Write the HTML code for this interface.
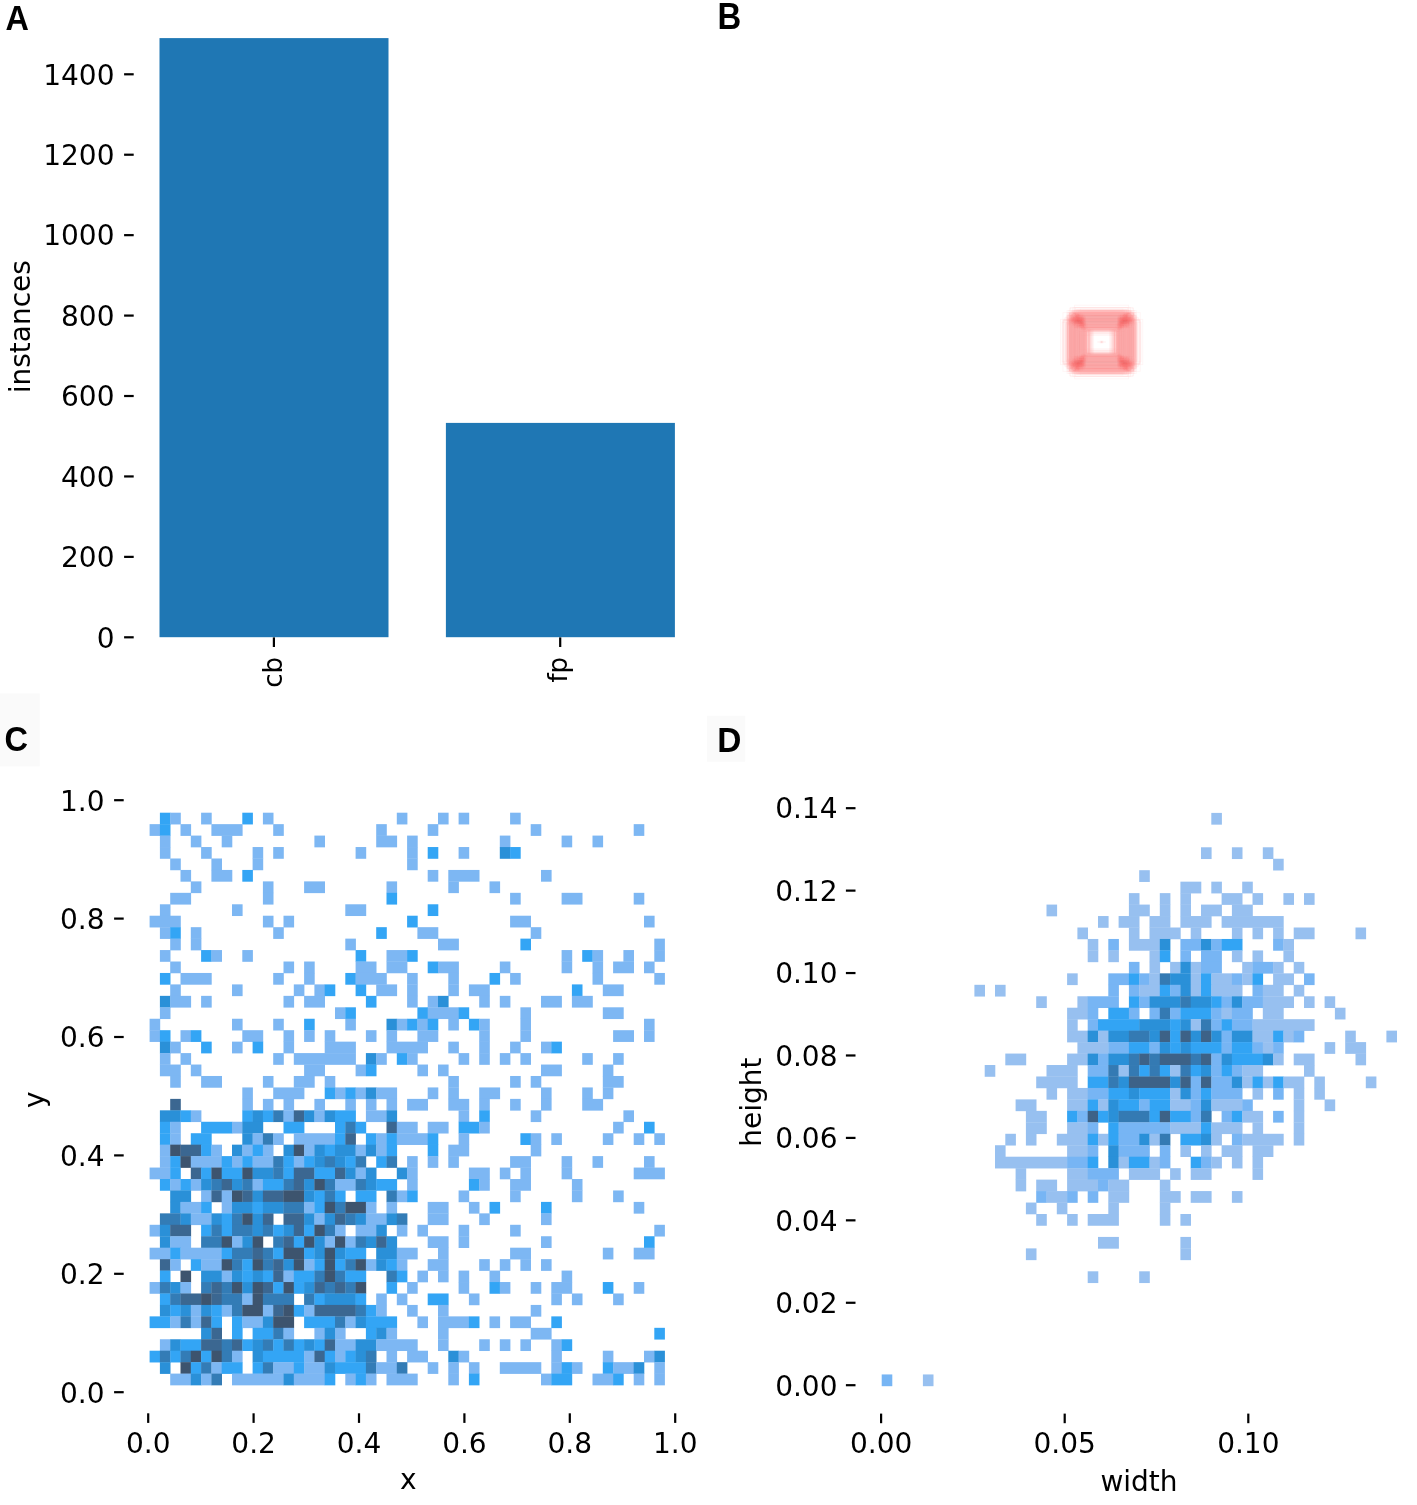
<!DOCTYPE html>
<html><head><meta charset="utf-8"><title>labels</title>
<style>html,body{margin:0;padding:0;background:#fff}svg{display:block}</style>
</head><body>
<svg width="1417" height="1505" viewBox="0 0 1417 1505">
<rect width="1417" height="1505" fill="#fff"/>
<g font-family="'DejaVu Sans','Liberation Sans',sans-serif" font-size="28" fill="#000">
<g fill="#1f77b4">
<rect x="159.5" y="38.1" width="229" height="599.1"/>
<rect x="445.9" y="422.9" width="229" height="214.3"/>
</g>
<rect x="124.1" y="636.2" width="9.6" height="2.2"/>
<text x="114.5" y="647.6" text-anchor="end">0</text>
<rect x="124.1" y="555.77" width="9.6" height="2.2"/>
<text x="114.5" y="567.17" text-anchor="end">200</text>
<rect x="124.1" y="475.34" width="9.6" height="2.2"/>
<text x="114.5" y="486.74" text-anchor="end">400</text>
<rect x="124.1" y="394.91" width="9.6" height="2.2"/>
<text x="114.5" y="406.31" text-anchor="end">600</text>
<rect x="124.1" y="314.48" width="9.6" height="2.2"/>
<text x="114.5" y="325.88" text-anchor="end">800</text>
<rect x="124.1" y="234.05" width="9.6" height="2.2"/>
<text x="114.5" y="245.45" text-anchor="end">1000</text>
<rect x="124.1" y="153.62" width="9.6" height="2.2"/>
<text x="114.5" y="165.02" text-anchor="end">1200</text>
<rect x="124.1" y="73.19" width="9.6" height="2.2"/>
<text x="114.5" y="84.59" text-anchor="end">1400</text>
<rect x="272.8" y="637.4" width="2.2" height="9.6"/>
<rect x="559.1" y="637.4" width="2.2" height="9.6"/>
<text transform="translate(281.8 687.7) rotate(-90)" font-size="26">cb</text>
<text transform="translate(566.8 682.6) rotate(-90)" font-size="26">fp</text>
<text transform="translate(30.4 326.7) rotate(-90)" text-anchor="middle">instances</text>
<g fill="none" stroke="#fba9a9" stroke-width="0.9">
<rect x="1074.57" y="305.23" width="54.06" height="73.55" stroke-opacity="0.120"/>
<rect x="1075.4" y="307.46" width="52.4" height="69.09" stroke-opacity="0.120"/>
<rect x="1072.91" y="307.46" width="57.38" height="69.09" stroke-opacity="0.120"/>
<rect x="1070.42" y="307.46" width="62.36" height="69.09" stroke-opacity="0.120"/>
<rect x="1069.59" y="308.2" width="64.02" height="67.6" stroke-opacity="0.120"/>
<rect x="1080.38" y="308.94" width="42.44" height="66.11" stroke-opacity="0.120"/>
<rect x="1077.06" y="309.69" width="49.08" height="64.62" stroke-opacity="0.120"/>
<rect x="1076.23" y="309.69" width="50.74" height="64.62" stroke-opacity="0.120"/>
<rect x="1074.57" y="309.69" width="54.06" height="64.62" stroke-opacity="0.120"/>
<rect x="1072.08" y="309.69" width="59.04" height="64.62" stroke-opacity="0.120"/>
<rect x="1081.21" y="310.43" width="40.78" height="63.14" stroke-opacity="0.120"/>
<rect x="1078.72" y="310.43" width="45.76" height="63.14" stroke-opacity="0.120"/>
<rect x="1077.06" y="310.43" width="49.08" height="63.14" stroke-opacity="0.120"/>
<rect x="1073.74" y="310.43" width="55.72" height="63.14" stroke-opacity="0.120"/>
<rect x="1072.91" y="310.43" width="57.38" height="63.14" stroke-opacity="0.120"/>
<rect x="1071.25" y="310.43" width="60.7" height="63.14" stroke-opacity="0.120"/>
<rect x="1068.76" y="310.43" width="65.68" height="63.14" stroke-opacity="0.120"/>
<rect x="1067.1" y="310.43" width="69" height="63.14" stroke-opacity="0.120"/>
<rect x="1087.85" y="311.18" width="27.49" height="61.65" stroke-opacity="0.120"/>
<rect x="1081.21" y="311.18" width="40.78" height="61.65" stroke-opacity="0.120"/>
<rect x="1080.38" y="311.18" width="42.44" height="61.65" stroke-opacity="0.120"/>
<rect x="1078.72" y="311.18" width="45.76" height="61.65" stroke-opacity="0.120"/>
<rect x="1077.06" y="311.18" width="49.08" height="61.65" stroke-opacity="0.120"/>
<rect x="1075.4" y="311.18" width="52.4" height="61.65" stroke-opacity="0.120"/>
<rect x="1074.57" y="311.18" width="54.06" height="61.65" stroke-opacity="0.120"/>
<rect x="1072.91" y="311.18" width="57.38" height="61.65" stroke-opacity="0.120"/>
<rect x="1072.08" y="311.18" width="59.04" height="61.65" stroke-opacity="0.120"/>
<rect x="1083.7" y="311.92" width="35.79" height="60.16" stroke-opacity="0.120"/>
<rect x="1082.04" y="311.92" width="39.12" height="60.16" stroke-opacity="0.120"/>
<rect x="1081.21" y="311.92" width="40.78" height="60.16" stroke-opacity="0.120"/>
<rect x="1079.55" y="311.92" width="44.1" height="60.16" stroke-opacity="0.120"/>
<rect x="1078.72" y="311.92" width="45.76" height="60.16" stroke-opacity="0.120"/>
<rect x="1077.06" y="311.92" width="49.08" height="60.16" stroke-opacity="0.120"/>
<rect x="1076.23" y="311.92" width="50.74" height="60.16" stroke-opacity="0.120"/>
<rect x="1075.4" y="311.92" width="52.4" height="60.16" stroke-opacity="0.120"/>
<rect x="1073.74" y="311.92" width="55.72" height="60.16" stroke-opacity="0.120"/>
<rect x="1072.91" y="311.92" width="57.38" height="60.16" stroke-opacity="0.120"/>
<rect x="1072.08" y="311.92" width="59.04" height="60.16" stroke-opacity="0.120"/>
<rect x="1071.25" y="311.92" width="60.7" height="60.16" stroke-opacity="0.120"/>
<rect x="1070.42" y="311.92" width="62.36" height="60.16" stroke-opacity="0.120"/>
<rect x="1069.59" y="311.92" width="64.02" height="60.16" stroke-opacity="0.120"/>
<rect x="1085.36" y="312.66" width="32.47" height="58.67" stroke-opacity="0.120"/>
<rect x="1081.21" y="312.66" width="40.78" height="58.67" stroke-opacity="0.120"/>
<rect x="1079.55" y="312.66" width="44.1" height="58.67" stroke-opacity="0.120"/>
<rect x="1078.72" y="312.66" width="45.76" height="58.67" stroke-opacity="0.120"/>
<rect x="1077.89" y="312.66" width="47.42" height="58.67" stroke-opacity="0.120"/>
<rect x="1076.23" y="312.66" width="50.74" height="58.67" stroke-opacity="0.120"/>
<rect x="1072.91" y="312.66" width="57.38" height="58.67" stroke-opacity="0.120"/>
<rect x="1071.25" y="312.66" width="60.7" height="58.67" stroke-opacity="0.120"/>
<rect x="1069.59" y="312.66" width="64.02" height="58.67" stroke-opacity="0.120"/>
<rect x="1067.93" y="312.66" width="67.34" height="58.67" stroke-opacity="0.120"/>
<rect x="1067.1" y="312.66" width="69" height="58.67" stroke-opacity="0.120"/>
<rect x="1062.95" y="312.66" width="77.3" height="58.67" stroke-opacity="0.120"/>
<rect x="1084.53" y="313.41" width="34.13" height="57.19" stroke-opacity="0.120"/>
<rect x="1082.87" y="313.41" width="37.46" height="57.19" stroke-opacity="0.319"/>
<rect x="1081.21" y="313.41" width="40.78" height="57.19" stroke-opacity="0.120"/>
<rect x="1080.38" y="313.41" width="42.44" height="57.19" stroke-opacity="0.120"/>
<rect x="1079.55" y="313.41" width="44.1" height="57.19" stroke-opacity="0.120"/>
<rect x="1078.72" y="313.41" width="45.76" height="57.19" stroke-opacity="0.684"/>
<rect x="1077.06" y="313.41" width="49.08" height="57.19" stroke-opacity="0.319"/>
<rect x="1076.23" y="313.41" width="50.74" height="57.19" stroke-opacity="0.319"/>
<rect x="1075.4" y="313.41" width="52.4" height="57.19" stroke-opacity="0.684"/>
<rect x="1074.57" y="313.41" width="54.06" height="57.19" stroke-opacity="0.319"/>
<rect x="1073.74" y="313.41" width="55.72" height="57.19" stroke-opacity="0.536"/>
<rect x="1072.91" y="313.41" width="57.38" height="57.19" stroke-opacity="0.536"/>
<rect x="1069.59" y="313.41" width="64.02" height="57.19" stroke-opacity="0.319"/>
<rect x="1068.76" y="313.41" width="65.68" height="57.19" stroke-opacity="0.120"/>
<rect x="1084.53" y="314.15" width="34.13" height="55.7" stroke-opacity="0.120"/>
<rect x="1082.87" y="314.15" width="37.46" height="55.7" stroke-opacity="0.120"/>
<rect x="1079.55" y="314.15" width="44.1" height="55.7" stroke-opacity="0.120"/>
<rect x="1078.72" y="314.15" width="45.76" height="55.7" stroke-opacity="0.536"/>
<rect x="1077.06" y="314.15" width="49.08" height="55.7" stroke-opacity="0.319"/>
<rect x="1075.4" y="314.15" width="52.4" height="55.7" stroke-opacity="0.319"/>
<rect x="1074.57" y="314.15" width="54.06" height="55.7" stroke-opacity="0.319"/>
<rect x="1072.91" y="314.15" width="57.38" height="55.7" stroke-opacity="0.120"/>
<rect x="1071.25" y="314.15" width="60.7" height="55.7" stroke-opacity="0.120"/>
<rect x="1068.76" y="314.15" width="65.68" height="55.7" stroke-opacity="0.120"/>
<rect x="1081.21" y="314.89" width="40.78" height="54.21" stroke-opacity="0.319"/>
<rect x="1079.55" y="314.89" width="44.1" height="54.21" stroke-opacity="0.120"/>
<rect x="1077.89" y="314.89" width="47.42" height="54.21" stroke-opacity="0.120"/>
<rect x="1077.06" y="314.89" width="49.08" height="54.21" stroke-opacity="0.684"/>
<rect x="1076.23" y="314.89" width="50.74" height="54.21" stroke-opacity="0.120"/>
<rect x="1075.4" y="314.89" width="52.4" height="54.21" stroke-opacity="0.319"/>
<rect x="1074.57" y="314.89" width="54.06" height="54.21" stroke-opacity="0.319"/>
<rect x="1072.08" y="314.89" width="59.04" height="54.21" stroke-opacity="0.120"/>
<rect x="1071.25" y="314.89" width="60.7" height="54.21" stroke-opacity="0.319"/>
<rect x="1070.42" y="314.89" width="62.36" height="54.21" stroke-opacity="0.319"/>
<rect x="1069.59" y="314.89" width="64.02" height="54.21" stroke-opacity="0.120"/>
<rect x="1067.93" y="314.89" width="67.34" height="54.21" stroke-opacity="0.120"/>
<rect x="1086.19" y="315.64" width="30.81" height="52.73" stroke-opacity="0.120"/>
<rect x="1082.87" y="315.64" width="37.46" height="52.73" stroke-opacity="0.319"/>
<rect x="1082.04" y="315.64" width="39.12" height="52.73" stroke-opacity="0.319"/>
<rect x="1081.21" y="315.64" width="40.78" height="52.73" stroke-opacity="0.536"/>
<rect x="1080.38" y="315.64" width="42.44" height="52.73" stroke-opacity="0.319"/>
<rect x="1079.55" y="315.64" width="44.1" height="52.73" stroke-opacity="0.120"/>
<rect x="1078.72" y="315.64" width="45.76" height="52.73" stroke-opacity="0.810"/>
<rect x="1077.89" y="315.64" width="47.42" height="52.73" stroke-opacity="0.684"/>
<rect x="1077.06" y="315.64" width="49.08" height="52.73" stroke-opacity="0.684"/>
<rect x="1076.23" y="315.64" width="50.74" height="52.73" stroke-opacity="0.120"/>
<rect x="1075.4" y="315.64" width="52.4" height="52.73" stroke-opacity="0.536"/>
<rect x="1074.57" y="315.64" width="54.06" height="52.73" stroke-opacity="0.120"/>
<rect x="1073.74" y="315.64" width="55.72" height="52.73" stroke-opacity="0.120"/>
<rect x="1072.91" y="315.64" width="57.38" height="52.73" stroke-opacity="0.319"/>
<rect x="1072.08" y="315.64" width="59.04" height="52.73" stroke-opacity="0.120"/>
<rect x="1071.25" y="315.64" width="60.7" height="52.73" stroke-opacity="0.536"/>
<rect x="1069.59" y="315.64" width="64.02" height="52.73" stroke-opacity="0.120"/>
<rect x="1068.76" y="315.64" width="65.68" height="52.73" stroke-opacity="0.120"/>
<rect x="1067.1" y="315.64" width="69" height="52.73" stroke-opacity="0.319"/>
<rect x="1093.66" y="316.38" width="15.87" height="51.24" stroke-opacity="0.120"/>
<rect x="1092" y="316.38" width="19.19" height="51.24" stroke-opacity="0.120"/>
<rect x="1082.87" y="316.38" width="37.46" height="51.24" stroke-opacity="0.319"/>
<rect x="1081.21" y="316.38" width="40.78" height="51.24" stroke-opacity="0.319"/>
<rect x="1080.38" y="316.38" width="42.44" height="51.24" stroke-opacity="0.120"/>
<rect x="1079.55" y="316.38" width="44.1" height="51.24" stroke-opacity="0.120"/>
<rect x="1078.72" y="316.38" width="45.76" height="51.24" stroke-opacity="0.536"/>
<rect x="1077.89" y="316.38" width="47.42" height="51.24" stroke-opacity="0.319"/>
<rect x="1077.06" y="316.38" width="49.08" height="51.24" stroke-opacity="0.684"/>
<rect x="1076.23" y="316.38" width="50.74" height="51.24" stroke-opacity="0.120"/>
<rect x="1075.4" y="316.38" width="52.4" height="51.24" stroke-opacity="0.536"/>
<rect x="1074.57" y="316.38" width="54.06" height="51.24" stroke-opacity="0.120"/>
<rect x="1073.74" y="316.38" width="55.72" height="51.24" stroke-opacity="0.120"/>
<rect x="1072.91" y="316.38" width="57.38" height="51.24" stroke-opacity="0.120"/>
<rect x="1071.25" y="316.38" width="60.7" height="51.24" stroke-opacity="0.319"/>
<rect x="1070.42" y="316.38" width="62.36" height="51.24" stroke-opacity="0.120"/>
<rect x="1069.59" y="316.38" width="64.02" height="51.24" stroke-opacity="0.120"/>
<rect x="1067.93" y="316.38" width="67.34" height="51.24" stroke-opacity="0.120"/>
<rect x="1088.68" y="317.12" width="25.83" height="49.75" stroke-opacity="0.120"/>
<rect x="1085.36" y="317.12" width="32.47" height="49.75" stroke-opacity="0.120"/>
<rect x="1084.53" y="317.12" width="34.13" height="49.75" stroke-opacity="0.319"/>
<rect x="1083.7" y="317.12" width="35.79" height="49.75" stroke-opacity="0.319"/>
<rect x="1082.87" y="317.12" width="37.46" height="49.75" stroke-opacity="0.319"/>
<rect x="1081.21" y="317.12" width="40.78" height="49.75" stroke-opacity="0.536"/>
<rect x="1080.38" y="317.12" width="42.44" height="49.75" stroke-opacity="0.319"/>
<rect x="1079.55" y="317.12" width="44.1" height="49.75" stroke-opacity="0.684"/>
<rect x="1078.72" y="317.12" width="45.76" height="49.75" stroke-opacity="0.684"/>
<rect x="1077.89" y="317.12" width="47.42" height="49.75" stroke-opacity="0.684"/>
<rect x="1077.06" y="317.12" width="49.08" height="49.75" stroke-opacity="0.810"/>
<rect x="1076.23" y="317.12" width="50.74" height="49.75" stroke-opacity="0.684"/>
<rect x="1075.4" y="317.12" width="52.4" height="49.75" stroke-opacity="0.684"/>
<rect x="1074.57" y="317.12" width="54.06" height="49.75" stroke-opacity="0.536"/>
<rect x="1073.74" y="317.12" width="55.72" height="49.75" stroke-opacity="0.319"/>
<rect x="1072.91" y="317.12" width="57.38" height="49.75" stroke-opacity="0.684"/>
<rect x="1072.08" y="317.12" width="59.04" height="49.75" stroke-opacity="0.319"/>
<rect x="1071.25" y="317.12" width="60.7" height="49.75" stroke-opacity="0.319"/>
<rect x="1070.42" y="317.12" width="62.36" height="49.75" stroke-opacity="0.120"/>
<rect x="1069.59" y="317.12" width="64.02" height="49.75" stroke-opacity="0.120"/>
<rect x="1068.76" y="317.12" width="65.68" height="49.75" stroke-opacity="0.120"/>
<rect x="1067.1" y="317.12" width="69" height="49.75" stroke-opacity="0.120"/>
<rect x="1065.44" y="317.12" width="72.32" height="49.75" stroke-opacity="0.120"/>
<rect x="1086.19" y="317.87" width="30.81" height="48.26" stroke-opacity="0.120"/>
<rect x="1085.36" y="317.87" width="32.47" height="48.26" stroke-opacity="0.120"/>
<rect x="1084.53" y="317.87" width="34.13" height="48.26" stroke-opacity="0.319"/>
<rect x="1082.87" y="317.87" width="37.46" height="48.26" stroke-opacity="0.536"/>
<rect x="1082.04" y="317.87" width="39.12" height="48.26" stroke-opacity="0.536"/>
<rect x="1081.21" y="317.87" width="40.78" height="48.26" stroke-opacity="0.319"/>
<rect x="1079.55" y="317.87" width="44.1" height="48.26" stroke-opacity="0.319"/>
<rect x="1078.72" y="317.87" width="45.76" height="48.26" stroke-opacity="0.810"/>
<rect x="1077.89" y="317.87" width="47.42" height="48.26" stroke-opacity="0.319"/>
<rect x="1077.06" y="317.87" width="49.08" height="48.26" stroke-opacity="0.536"/>
<rect x="1076.23" y="317.87" width="50.74" height="48.26" stroke-opacity="0.536"/>
<rect x="1075.4" y="317.87" width="52.4" height="48.26" stroke-opacity="0.536"/>
<rect x="1074.57" y="317.87" width="54.06" height="48.26" stroke-opacity="0.319"/>
<rect x="1073.74" y="317.87" width="55.72" height="48.26" stroke-opacity="0.120"/>
<rect x="1072.91" y="317.87" width="57.38" height="48.26" stroke-opacity="0.319"/>
<rect x="1072.08" y="317.87" width="59.04" height="48.26" stroke-opacity="0.319"/>
<rect x="1070.42" y="317.87" width="62.36" height="48.26" stroke-opacity="0.120"/>
<rect x="1069.59" y="317.87" width="64.02" height="48.26" stroke-opacity="0.120"/>
<rect x="1064.61" y="317.87" width="73.98" height="48.26" stroke-opacity="0.120"/>
<rect x="1086.19" y="318.61" width="30.81" height="46.78" stroke-opacity="0.120"/>
<rect x="1084.53" y="318.61" width="34.13" height="46.78" stroke-opacity="0.319"/>
<rect x="1083.7" y="318.61" width="35.79" height="46.78" stroke-opacity="0.536"/>
<rect x="1082.87" y="318.61" width="37.46" height="46.78" stroke-opacity="0.536"/>
<rect x="1082.04" y="318.61" width="39.12" height="46.78" stroke-opacity="0.536"/>
<rect x="1081.21" y="318.61" width="40.78" height="46.78" stroke-opacity="0.536"/>
<rect x="1080.38" y="318.61" width="42.44" height="46.78" stroke-opacity="0.684"/>
<rect x="1079.55" y="318.61" width="44.1" height="46.78" stroke-opacity="0.684"/>
<rect x="1078.72" y="318.61" width="45.76" height="46.78" stroke-opacity="0.684"/>
<rect x="1077.89" y="318.61" width="47.42" height="46.78" stroke-opacity="0.536"/>
<rect x="1077.06" y="318.61" width="49.08" height="46.78" stroke-opacity="0.684"/>
<rect x="1076.23" y="318.61" width="50.74" height="46.78" stroke-opacity="0.120"/>
<rect x="1075.4" y="318.61" width="52.4" height="46.78" stroke-opacity="0.810"/>
<rect x="1074.57" y="318.61" width="54.06" height="46.78" stroke-opacity="0.319"/>
<rect x="1073.74" y="318.61" width="55.72" height="46.78" stroke-opacity="0.536"/>
<rect x="1072.91" y="318.61" width="57.38" height="46.78" stroke-opacity="0.319"/>
<rect x="1072.08" y="318.61" width="59.04" height="46.78" stroke-opacity="0.319"/>
<rect x="1071.25" y="318.61" width="60.7" height="46.78" stroke-opacity="0.120"/>
<rect x="1070.42" y="318.61" width="62.36" height="46.78" stroke-opacity="0.120"/>
<rect x="1069.59" y="318.61" width="64.02" height="46.78" stroke-opacity="0.120"/>
<rect x="1068.76" y="318.61" width="65.68" height="46.78" stroke-opacity="0.120"/>
<rect x="1067.93" y="318.61" width="67.34" height="46.78" stroke-opacity="0.120"/>
<rect x="1067.1" y="318.61" width="69" height="46.78" stroke-opacity="0.120"/>
<rect x="1086.19" y="319.36" width="30.81" height="45.29" stroke-opacity="0.120"/>
<rect x="1085.36" y="319.36" width="32.47" height="45.29" stroke-opacity="0.120"/>
<rect x="1084.53" y="319.36" width="34.13" height="45.29" stroke-opacity="0.684"/>
<rect x="1083.7" y="319.36" width="35.79" height="45.29" stroke-opacity="0.120"/>
<rect x="1082.87" y="319.36" width="37.46" height="45.29" stroke-opacity="0.684"/>
<rect x="1082.04" y="319.36" width="39.12" height="45.29" stroke-opacity="0.684"/>
<rect x="1081.21" y="319.36" width="40.78" height="45.29" stroke-opacity="0.810"/>
<rect x="1080.38" y="319.36" width="42.44" height="45.29" stroke-opacity="0.810"/>
<rect x="1079.55" y="319.36" width="44.1" height="45.29" stroke-opacity="0.684"/>
<rect x="1078.72" y="319.36" width="45.76" height="45.29" stroke-opacity="0.886"/>
<rect x="1077.89" y="319.36" width="47.42" height="45.29" stroke-opacity="0.536"/>
<rect x="1077.06" y="319.36" width="49.08" height="45.29" stroke-opacity="0.886"/>
<rect x="1076.23" y="319.36" width="50.74" height="45.29" stroke-opacity="0.684"/>
<rect x="1075.4" y="319.36" width="52.4" height="45.29" stroke-opacity="0.886"/>
<rect x="1074.57" y="319.36" width="54.06" height="45.29" stroke-opacity="0.684"/>
<rect x="1073.74" y="319.36" width="55.72" height="45.29" stroke-opacity="0.319"/>
<rect x="1072.91" y="319.36" width="57.38" height="45.29" stroke-opacity="0.684"/>
<rect x="1072.08" y="319.36" width="59.04" height="45.29" stroke-opacity="0.684"/>
<rect x="1071.25" y="319.36" width="60.7" height="45.29" stroke-opacity="0.120"/>
<rect x="1070.42" y="319.36" width="62.36" height="45.29" stroke-opacity="0.120"/>
<rect x="1069.59" y="319.36" width="64.02" height="45.29" stroke-opacity="0.536"/>
<rect x="1068.76" y="319.36" width="65.68" height="45.29" stroke-opacity="0.120"/>
<rect x="1067.93" y="319.36" width="67.34" height="45.29" stroke-opacity="0.319"/>
<rect x="1063.78" y="319.36" width="75.64" height="45.29" stroke-opacity="0.120"/>
<rect x="1060.46" y="319.36" width="82.29" height="45.29" stroke-opacity="0.120"/>
<rect x="1085.36" y="320.1" width="32.47" height="43.8" stroke-opacity="0.120"/>
<rect x="1084.53" y="320.1" width="34.13" height="43.8" stroke-opacity="0.120"/>
<rect x="1083.7" y="320.1" width="35.79" height="43.8" stroke-opacity="0.120"/>
<rect x="1082.87" y="320.1" width="37.46" height="43.8" stroke-opacity="0.319"/>
<rect x="1082.04" y="320.1" width="39.12" height="43.8" stroke-opacity="0.319"/>
<rect x="1081.21" y="320.1" width="40.78" height="43.8" stroke-opacity="0.536"/>
<rect x="1080.38" y="320.1" width="42.44" height="43.8" stroke-opacity="0.536"/>
<rect x="1079.55" y="320.1" width="44.1" height="43.8" stroke-opacity="0.319"/>
<rect x="1078.72" y="320.1" width="45.76" height="43.8" stroke-opacity="0.684"/>
<rect x="1077.89" y="320.1" width="47.42" height="43.8" stroke-opacity="0.536"/>
<rect x="1077.06" y="320.1" width="49.08" height="43.8" stroke-opacity="0.684"/>
<rect x="1076.23" y="320.1" width="50.74" height="43.8" stroke-opacity="0.536"/>
<rect x="1075.4" y="320.1" width="52.4" height="43.8" stroke-opacity="0.536"/>
<rect x="1074.57" y="320.1" width="54.06" height="43.8" stroke-opacity="0.536"/>
<rect x="1073.74" y="320.1" width="55.72" height="43.8" stroke-opacity="0.319"/>
<rect x="1072.91" y="320.1" width="57.38" height="43.8" stroke-opacity="0.536"/>
<rect x="1072.08" y="320.1" width="59.04" height="43.8" stroke-opacity="0.536"/>
<rect x="1071.25" y="320.1" width="60.7" height="43.8" stroke-opacity="0.319"/>
<rect x="1070.42" y="320.1" width="62.36" height="43.8" stroke-opacity="0.120"/>
<rect x="1069.59" y="320.1" width="64.02" height="43.8" stroke-opacity="0.319"/>
<rect x="1065.44" y="320.1" width="72.32" height="43.8" stroke-opacity="0.120"/>
<rect x="1063.78" y="320.1" width="75.64" height="43.8" stroke-opacity="0.120"/>
<rect x="1062.95" y="320.1" width="77.3" height="43.8" stroke-opacity="0.120"/>
<rect x="1091.17" y="320.84" width="20.85" height="42.31" stroke-opacity="0.120"/>
<rect x="1090.34" y="320.84" width="22.51" height="42.31" stroke-opacity="0.120"/>
<rect x="1086.19" y="320.84" width="30.81" height="42.31" stroke-opacity="0.120"/>
<rect x="1085.36" y="320.84" width="32.47" height="42.31" stroke-opacity="0.120"/>
<rect x="1084.53" y="320.84" width="34.13" height="42.31" stroke-opacity="0.684"/>
<rect x="1083.7" y="320.84" width="35.79" height="42.31" stroke-opacity="0.319"/>
<rect x="1082.87" y="320.84" width="37.46" height="42.31" stroke-opacity="0.684"/>
<rect x="1082.04" y="320.84" width="39.12" height="42.31" stroke-opacity="0.684"/>
<rect x="1081.21" y="320.84" width="40.78" height="42.31" stroke-opacity="0.810"/>
<rect x="1080.38" y="320.84" width="42.44" height="42.31" stroke-opacity="0.886"/>
<rect x="1079.55" y="320.84" width="44.1" height="42.31" stroke-opacity="0.810"/>
<rect x="1078.72" y="320.84" width="45.76" height="42.31" stroke-opacity="0.886"/>
<rect x="1077.89" y="320.84" width="47.42" height="42.31" stroke-opacity="0.886"/>
<rect x="1077.06" y="320.84" width="49.08" height="42.31" stroke-opacity="0.886"/>
<rect x="1076.23" y="320.84" width="50.74" height="42.31" stroke-opacity="0.810"/>
<rect x="1075.4" y="320.84" width="52.4" height="42.31" stroke-opacity="0.886"/>
<rect x="1074.57" y="320.84" width="54.06" height="42.31" stroke-opacity="0.319"/>
<rect x="1073.74" y="320.84" width="55.72" height="42.31" stroke-opacity="0.684"/>
<rect x="1072.91" y="320.84" width="57.38" height="42.31" stroke-opacity="0.536"/>
<rect x="1072.08" y="320.84" width="59.04" height="42.31" stroke-opacity="0.536"/>
<rect x="1071.25" y="320.84" width="60.7" height="42.31" stroke-opacity="0.536"/>
<rect x="1070.42" y="320.84" width="62.36" height="42.31" stroke-opacity="0.684"/>
<rect x="1069.59" y="320.84" width="64.02" height="42.31" stroke-opacity="0.120"/>
<rect x="1067.93" y="320.84" width="67.34" height="42.31" stroke-opacity="0.120"/>
<rect x="1067.1" y="320.84" width="69" height="42.31" stroke-opacity="0.120"/>
<rect x="1062.95" y="320.84" width="77.3" height="42.31" stroke-opacity="0.120"/>
<rect x="1092.83" y="321.59" width="17.53" height="40.83" stroke-opacity="0.120"/>
<rect x="1087.85" y="321.59" width="27.49" height="40.83" stroke-opacity="0.120"/>
<rect x="1087.02" y="321.59" width="29.15" height="40.83" stroke-opacity="0.120"/>
<rect x="1086.19" y="321.59" width="30.81" height="40.83" stroke-opacity="0.120"/>
<rect x="1084.53" y="321.59" width="34.13" height="40.83" stroke-opacity="0.319"/>
<rect x="1083.7" y="321.59" width="35.79" height="40.83" stroke-opacity="0.319"/>
<rect x="1082.87" y="321.59" width="37.46" height="40.83" stroke-opacity="0.810"/>
<rect x="1082.04" y="321.59" width="39.12" height="40.83" stroke-opacity="0.120"/>
<rect x="1081.21" y="321.59" width="40.78" height="40.83" stroke-opacity="0.810"/>
<rect x="1080.38" y="321.59" width="42.44" height="40.83" stroke-opacity="0.536"/>
<rect x="1079.55" y="321.59" width="44.1" height="40.83" stroke-opacity="0.810"/>
<rect x="1078.72" y="321.59" width="45.76" height="40.83" stroke-opacity="0.536"/>
<rect x="1077.89" y="321.59" width="47.42" height="40.83" stroke-opacity="0.120"/>
<rect x="1077.06" y="321.59" width="49.08" height="40.83" stroke-opacity="0.810"/>
<rect x="1076.23" y="321.59" width="50.74" height="40.83" stroke-opacity="0.536"/>
<rect x="1075.4" y="321.59" width="52.4" height="40.83" stroke-opacity="0.684"/>
<rect x="1074.57" y="321.59" width="54.06" height="40.83" stroke-opacity="0.319"/>
<rect x="1073.74" y="321.59" width="55.72" height="40.83" stroke-opacity="0.536"/>
<rect x="1072.91" y="321.59" width="57.38" height="40.83" stroke-opacity="0.319"/>
<rect x="1072.08" y="321.59" width="59.04" height="40.83" stroke-opacity="0.120"/>
<rect x="1071.25" y="321.59" width="60.7" height="40.83" stroke-opacity="0.120"/>
<rect x="1067.1" y="321.59" width="69" height="40.83" stroke-opacity="0.120"/>
<rect x="1088.68" y="322.33" width="25.83" height="39.34" stroke-opacity="0.120"/>
<rect x="1087.85" y="322.33" width="27.49" height="39.34" stroke-opacity="0.120"/>
<rect x="1087.02" y="322.33" width="29.15" height="39.34" stroke-opacity="0.120"/>
<rect x="1086.19" y="322.33" width="30.81" height="39.34" stroke-opacity="0.120"/>
<rect x="1084.53" y="322.33" width="34.13" height="39.34" stroke-opacity="0.536"/>
<rect x="1083.7" y="322.33" width="35.79" height="39.34" stroke-opacity="0.536"/>
<rect x="1082.87" y="322.33" width="37.46" height="39.34" stroke-opacity="0.810"/>
<rect x="1082.04" y="322.33" width="39.12" height="39.34" stroke-opacity="0.684"/>
<rect x="1081.21" y="322.33" width="40.78" height="39.34" stroke-opacity="0.886"/>
<rect x="1080.38" y="322.33" width="42.44" height="39.34" stroke-opacity="0.886"/>
<rect x="1079.55" y="322.33" width="44.1" height="39.34" stroke-opacity="0.886"/>
<rect x="1078.72" y="322.33" width="45.76" height="39.34" stroke-opacity="0.886"/>
<rect x="1077.89" y="322.33" width="47.42" height="39.34" stroke-opacity="0.684"/>
<rect x="1077.06" y="322.33" width="49.08" height="39.34" stroke-opacity="0.886"/>
<rect x="1076.23" y="322.33" width="50.74" height="39.34" stroke-opacity="0.319"/>
<rect x="1075.4" y="322.33" width="52.4" height="39.34" stroke-opacity="0.886"/>
<rect x="1074.57" y="322.33" width="54.06" height="39.34" stroke-opacity="0.319"/>
<rect x="1073.74" y="322.33" width="55.72" height="39.34" stroke-opacity="0.319"/>
<rect x="1072.91" y="322.33" width="57.38" height="39.34" stroke-opacity="0.684"/>
<rect x="1072.08" y="322.33" width="59.04" height="39.34" stroke-opacity="0.120"/>
<rect x="1071.25" y="322.33" width="60.7" height="39.34" stroke-opacity="0.536"/>
<rect x="1070.42" y="322.33" width="62.36" height="39.34" stroke-opacity="0.120"/>
<rect x="1069.59" y="322.33" width="64.02" height="39.34" stroke-opacity="0.536"/>
<rect x="1068.76" y="322.33" width="65.68" height="39.34" stroke-opacity="0.120"/>
<rect x="1067.93" y="322.33" width="67.34" height="39.34" stroke-opacity="0.120"/>
<rect x="1066.27" y="322.33" width="70.66" height="39.34" stroke-opacity="0.120"/>
<rect x="1062.12" y="322.33" width="78.96" height="39.34" stroke-opacity="0.120"/>
<rect x="1087.85" y="323.07" width="27.49" height="37.85" stroke-opacity="0.120"/>
<rect x="1086.19" y="323.07" width="30.81" height="37.85" stroke-opacity="0.120"/>
<rect x="1085.36" y="323.07" width="32.47" height="37.85" stroke-opacity="0.120"/>
<rect x="1084.53" y="323.07" width="34.13" height="37.85" stroke-opacity="0.319"/>
<rect x="1083.7" y="323.07" width="35.79" height="37.85" stroke-opacity="0.319"/>
<rect x="1082.87" y="323.07" width="37.46" height="37.85" stroke-opacity="0.536"/>
<rect x="1082.04" y="323.07" width="39.12" height="37.85" stroke-opacity="0.536"/>
<rect x="1081.21" y="323.07" width="40.78" height="37.85" stroke-opacity="0.684"/>
<rect x="1080.38" y="323.07" width="42.44" height="37.85" stroke-opacity="0.536"/>
<rect x="1079.55" y="323.07" width="44.1" height="37.85" stroke-opacity="0.536"/>
<rect x="1078.72" y="323.07" width="45.76" height="37.85" stroke-opacity="0.536"/>
<rect x="1077.89" y="323.07" width="47.42" height="37.85" stroke-opacity="0.120"/>
<rect x="1077.06" y="323.07" width="49.08" height="37.85" stroke-opacity="0.684"/>
<rect x="1076.23" y="323.07" width="50.74" height="37.85" stroke-opacity="0.319"/>
<rect x="1075.4" y="323.07" width="52.4" height="37.85" stroke-opacity="0.536"/>
<rect x="1074.57" y="323.07" width="54.06" height="37.85" stroke-opacity="0.319"/>
<rect x="1073.74" y="323.07" width="55.72" height="37.85" stroke-opacity="0.319"/>
<rect x="1072.91" y="323.07" width="57.38" height="37.85" stroke-opacity="0.319"/>
<rect x="1071.25" y="323.07" width="60.7" height="37.85" stroke-opacity="0.120"/>
<rect x="1069.59" y="323.07" width="64.02" height="37.85" stroke-opacity="0.319"/>
<rect x="1067.93" y="323.07" width="67.34" height="37.85" stroke-opacity="0.120"/>
<rect x="1066.27" y="323.07" width="70.66" height="37.85" stroke-opacity="0.120"/>
<rect x="1090.34" y="323.82" width="22.51" height="36.36" stroke-opacity="0.120"/>
<rect x="1089.51" y="323.82" width="24.17" height="36.36" stroke-opacity="0.120"/>
<rect x="1086.19" y="323.82" width="30.81" height="36.36" stroke-opacity="0.120"/>
<rect x="1085.36" y="323.82" width="32.47" height="36.36" stroke-opacity="0.120"/>
<rect x="1084.53" y="323.82" width="34.13" height="36.36" stroke-opacity="0.536"/>
<rect x="1083.7" y="323.82" width="35.79" height="36.36" stroke-opacity="0.120"/>
<rect x="1082.87" y="323.82" width="37.46" height="36.36" stroke-opacity="0.684"/>
<rect x="1082.04" y="323.82" width="39.12" height="36.36" stroke-opacity="0.536"/>
<rect x="1081.21" y="323.82" width="40.78" height="36.36" stroke-opacity="0.536"/>
<rect x="1080.38" y="323.82" width="42.44" height="36.36" stroke-opacity="0.319"/>
<rect x="1079.55" y="323.82" width="44.1" height="36.36" stroke-opacity="0.536"/>
<rect x="1078.72" y="323.82" width="45.76" height="36.36" stroke-opacity="0.536"/>
<rect x="1077.89" y="323.82" width="47.42" height="36.36" stroke-opacity="0.120"/>
<rect x="1077.06" y="323.82" width="49.08" height="36.36" stroke-opacity="0.120"/>
<rect x="1076.23" y="323.82" width="50.74" height="36.36" stroke-opacity="0.319"/>
<rect x="1075.4" y="323.82" width="52.4" height="36.36" stroke-opacity="0.684"/>
<rect x="1074.57" y="323.82" width="54.06" height="36.36" stroke-opacity="0.120"/>
<rect x="1073.74" y="323.82" width="55.72" height="36.36" stroke-opacity="0.120"/>
<rect x="1072.91" y="323.82" width="57.38" height="36.36" stroke-opacity="0.120"/>
<rect x="1072.08" y="323.82" width="59.04" height="36.36" stroke-opacity="0.319"/>
<rect x="1067.93" y="323.82" width="67.34" height="36.36" stroke-opacity="0.120"/>
<rect x="1065.44" y="323.82" width="72.32" height="36.36" stroke-opacity="0.120"/>
<rect x="1089.51" y="324.56" width="24.17" height="34.88" stroke-opacity="0.120"/>
<rect x="1088.68" y="324.56" width="25.83" height="34.88" stroke-opacity="0.120"/>
<rect x="1086.19" y="324.56" width="30.81" height="34.88" stroke-opacity="0.536"/>
<rect x="1085.36" y="324.56" width="32.47" height="34.88" stroke-opacity="0.319"/>
<rect x="1084.53" y="324.56" width="34.13" height="34.88" stroke-opacity="0.886"/>
<rect x="1083.7" y="324.56" width="35.79" height="34.88" stroke-opacity="0.536"/>
<rect x="1082.87" y="324.56" width="37.46" height="34.88" stroke-opacity="0.684"/>
<rect x="1082.04" y="324.56" width="39.12" height="34.88" stroke-opacity="0.810"/>
<rect x="1081.21" y="324.56" width="40.78" height="34.88" stroke-opacity="0.810"/>
<rect x="1080.38" y="324.56" width="42.44" height="34.88" stroke-opacity="0.810"/>
<rect x="1079.55" y="324.56" width="44.1" height="34.88" stroke-opacity="0.536"/>
<rect x="1078.72" y="324.56" width="45.76" height="34.88" stroke-opacity="0.886"/>
<rect x="1077.89" y="324.56" width="47.42" height="34.88" stroke-opacity="0.536"/>
<rect x="1077.06" y="324.56" width="49.08" height="34.88" stroke-opacity="0.536"/>
<rect x="1076.23" y="324.56" width="50.74" height="34.88" stroke-opacity="0.319"/>
<rect x="1075.4" y="324.56" width="52.4" height="34.88" stroke-opacity="0.810"/>
<rect x="1073.74" y="324.56" width="55.72" height="34.88" stroke-opacity="0.319"/>
<rect x="1072.91" y="324.56" width="57.38" height="34.88" stroke-opacity="0.536"/>
<rect x="1072.08" y="324.56" width="59.04" height="34.88" stroke-opacity="0.120"/>
<rect x="1071.25" y="324.56" width="60.7" height="34.88" stroke-opacity="0.120"/>
<rect x="1069.59" y="324.56" width="64.02" height="34.88" stroke-opacity="0.319"/>
<rect x="1067.93" y="324.56" width="67.34" height="34.88" stroke-opacity="0.120"/>
<rect x="1089.51" y="325.31" width="24.17" height="33.39" stroke-opacity="0.120"/>
<rect x="1088.68" y="325.31" width="25.83" height="33.39" stroke-opacity="0.120"/>
<rect x="1086.19" y="325.31" width="30.81" height="33.39" stroke-opacity="0.120"/>
<rect x="1085.36" y="325.31" width="32.47" height="33.39" stroke-opacity="0.120"/>
<rect x="1084.53" y="325.31" width="34.13" height="33.39" stroke-opacity="0.319"/>
<rect x="1082.87" y="325.31" width="37.46" height="33.39" stroke-opacity="0.536"/>
<rect x="1082.04" y="325.31" width="39.12" height="33.39" stroke-opacity="0.319"/>
<rect x="1081.21" y="325.31" width="40.78" height="33.39" stroke-opacity="0.319"/>
<rect x="1080.38" y="325.31" width="42.44" height="33.39" stroke-opacity="0.319"/>
<rect x="1079.55" y="325.31" width="44.1" height="33.39" stroke-opacity="0.319"/>
<rect x="1078.72" y="325.31" width="45.76" height="33.39" stroke-opacity="0.319"/>
<rect x="1077.89" y="325.31" width="47.42" height="33.39" stroke-opacity="0.120"/>
<rect x="1077.06" y="325.31" width="49.08" height="33.39" stroke-opacity="0.120"/>
<rect x="1076.23" y="325.31" width="50.74" height="33.39" stroke-opacity="0.120"/>
<rect x="1075.4" y="325.31" width="52.4" height="33.39" stroke-opacity="0.536"/>
<rect x="1074.57" y="325.31" width="54.06" height="33.39" stroke-opacity="0.120"/>
<rect x="1073.74" y="325.31" width="55.72" height="33.39" stroke-opacity="0.120"/>
<rect x="1072.91" y="325.31" width="57.38" height="33.39" stroke-opacity="0.120"/>
<rect x="1071.25" y="325.31" width="60.7" height="33.39" stroke-opacity="0.120"/>
<rect x="1067.93" y="325.31" width="67.34" height="33.39" stroke-opacity="0.120"/>
<rect x="1091.17" y="326.05" width="20.85" height="31.9" stroke-opacity="0.120"/>
<rect x="1089.51" y="326.05" width="24.17" height="31.9" stroke-opacity="0.120"/>
<rect x="1087.02" y="326.05" width="29.15" height="31.9" stroke-opacity="0.120"/>
<rect x="1086.19" y="326.05" width="30.81" height="31.9" stroke-opacity="0.120"/>
<rect x="1085.36" y="326.05" width="32.47" height="31.9" stroke-opacity="0.120"/>
<rect x="1084.53" y="326.05" width="34.13" height="31.9" stroke-opacity="0.536"/>
<rect x="1083.7" y="326.05" width="35.79" height="31.9" stroke-opacity="0.120"/>
<rect x="1082.87" y="326.05" width="37.46" height="31.9" stroke-opacity="0.536"/>
<rect x="1082.04" y="326.05" width="39.12" height="31.9" stroke-opacity="0.319"/>
<rect x="1081.21" y="326.05" width="40.78" height="31.9" stroke-opacity="0.319"/>
<rect x="1080.38" y="326.05" width="42.44" height="31.9" stroke-opacity="0.684"/>
<rect x="1079.55" y="326.05" width="44.1" height="31.9" stroke-opacity="0.120"/>
<rect x="1078.72" y="326.05" width="45.76" height="31.9" stroke-opacity="0.810"/>
<rect x="1077.06" y="326.05" width="49.08" height="31.9" stroke-opacity="0.536"/>
<rect x="1076.23" y="326.05" width="50.74" height="31.9" stroke-opacity="0.536"/>
<rect x="1075.4" y="326.05" width="52.4" height="31.9" stroke-opacity="0.684"/>
<rect x="1074.57" y="326.05" width="54.06" height="31.9" stroke-opacity="0.120"/>
<rect x="1072.91" y="326.05" width="57.38" height="31.9" stroke-opacity="0.319"/>
<rect x="1072.08" y="326.05" width="59.04" height="31.9" stroke-opacity="0.120"/>
<rect x="1071.25" y="326.05" width="60.7" height="31.9" stroke-opacity="0.120"/>
<rect x="1070.42" y="326.05" width="62.36" height="31.9" stroke-opacity="0.120"/>
<rect x="1069.59" y="326.05" width="64.02" height="31.9" stroke-opacity="0.120"/>
<rect x="1067.93" y="326.05" width="67.34" height="31.9" stroke-opacity="0.120"/>
<rect x="1092" y="326.79" width="19.19" height="30.41" stroke-opacity="0.120"/>
<rect x="1086.19" y="326.79" width="30.81" height="30.41" stroke-opacity="0.120"/>
<rect x="1085.36" y="326.79" width="32.47" height="30.41" stroke-opacity="0.120"/>
<rect x="1084.53" y="326.79" width="34.13" height="30.41" stroke-opacity="0.319"/>
<rect x="1082.87" y="326.79" width="37.46" height="30.41" stroke-opacity="0.684"/>
<rect x="1082.04" y="326.79" width="39.12" height="30.41" stroke-opacity="0.319"/>
<rect x="1081.21" y="326.79" width="40.78" height="30.41" stroke-opacity="0.319"/>
<rect x="1080.38" y="326.79" width="42.44" height="30.41" stroke-opacity="0.319"/>
<rect x="1078.72" y="326.79" width="45.76" height="30.41" stroke-opacity="0.319"/>
<rect x="1077.06" y="326.79" width="49.08" height="30.41" stroke-opacity="0.120"/>
<rect x="1075.4" y="326.79" width="52.4" height="30.41" stroke-opacity="0.120"/>
<rect x="1073.74" y="326.79" width="55.72" height="30.41" stroke-opacity="0.120"/>
<rect x="1072.91" y="326.79" width="57.38" height="30.41" stroke-opacity="0.120"/>
<rect x="1071.25" y="326.79" width="60.7" height="30.41" stroke-opacity="0.120"/>
<rect x="1070.42" y="326.79" width="62.36" height="30.41" stroke-opacity="0.120"/>
<rect x="1092" y="327.54" width="19.19" height="28.93" stroke-opacity="0.120"/>
<rect x="1091.17" y="327.54" width="20.85" height="28.93" stroke-opacity="0.120"/>
<rect x="1090.34" y="327.54" width="22.51" height="28.93" stroke-opacity="0.120"/>
<rect x="1089.51" y="327.54" width="24.17" height="28.93" stroke-opacity="0.120"/>
<rect x="1088.68" y="327.54" width="25.83" height="28.93" stroke-opacity="0.120"/>
<rect x="1087.85" y="327.54" width="27.49" height="28.93" stroke-opacity="0.120"/>
<rect x="1087.02" y="327.54" width="29.15" height="28.93" stroke-opacity="0.120"/>
<rect x="1086.19" y="327.54" width="30.81" height="28.93" stroke-opacity="0.319"/>
<rect x="1085.36" y="327.54" width="32.47" height="28.93" stroke-opacity="0.319"/>
<rect x="1084.53" y="327.54" width="34.13" height="28.93" stroke-opacity="0.536"/>
<rect x="1082.87" y="327.54" width="37.46" height="28.93" stroke-opacity="0.684"/>
<rect x="1082.04" y="327.54" width="39.12" height="28.93" stroke-opacity="0.120"/>
<rect x="1081.21" y="327.54" width="40.78" height="28.93" stroke-opacity="0.536"/>
<rect x="1080.38" y="327.54" width="42.44" height="28.93" stroke-opacity="0.536"/>
<rect x="1079.55" y="327.54" width="44.1" height="28.93" stroke-opacity="0.120"/>
<rect x="1078.72" y="327.54" width="45.76" height="28.93" stroke-opacity="0.319"/>
<rect x="1076.23" y="327.54" width="50.74" height="28.93" stroke-opacity="0.536"/>
<rect x="1075.4" y="327.54" width="52.4" height="28.93" stroke-opacity="0.319"/>
<rect x="1074.57" y="327.54" width="54.06" height="28.93" stroke-opacity="0.120"/>
<rect x="1072.91" y="327.54" width="57.38" height="28.93" stroke-opacity="0.120"/>
<rect x="1071.25" y="327.54" width="60.7" height="28.93" stroke-opacity="0.120"/>
<rect x="1090.34" y="328.28" width="22.51" height="27.44" stroke-opacity="0.120"/>
<rect x="1086.19" y="328.28" width="30.81" height="27.44" stroke-opacity="0.120"/>
<rect x="1085.36" y="328.28" width="32.47" height="27.44" stroke-opacity="0.120"/>
<rect x="1084.53" y="328.28" width="34.13" height="27.44" stroke-opacity="0.319"/>
<rect x="1083.7" y="328.28" width="35.79" height="27.44" stroke-opacity="0.319"/>
<rect x="1082.87" y="328.28" width="37.46" height="27.44" stroke-opacity="0.319"/>
<rect x="1081.21" y="328.28" width="40.78" height="27.44" stroke-opacity="0.120"/>
<rect x="1080.38" y="328.28" width="42.44" height="27.44" stroke-opacity="0.120"/>
<rect x="1079.55" y="328.28" width="44.1" height="27.44" stroke-opacity="0.120"/>
<rect x="1077.89" y="328.28" width="47.42" height="27.44" stroke-opacity="0.120"/>
<rect x="1076.23" y="328.28" width="50.74" height="27.44" stroke-opacity="0.120"/>
<rect x="1075.4" y="328.28" width="52.4" height="27.44" stroke-opacity="0.120"/>
<rect x="1071.25" y="328.28" width="60.7" height="27.44" stroke-opacity="0.120"/>
<rect x="1090.34" y="329.02" width="22.51" height="25.95" stroke-opacity="0.120"/>
<rect x="1088.68" y="329.02" width="25.83" height="25.95" stroke-opacity="0.120"/>
<rect x="1087.85" y="329.02" width="27.49" height="25.95" stroke-opacity="0.120"/>
<rect x="1086.19" y="329.02" width="30.81" height="25.95" stroke-opacity="0.120"/>
<rect x="1085.36" y="329.02" width="32.47" height="25.95" stroke-opacity="0.120"/>
<rect x="1084.53" y="329.02" width="34.13" height="25.95" stroke-opacity="0.120"/>
<rect x="1083.7" y="329.02" width="35.79" height="25.95" stroke-opacity="0.319"/>
<rect x="1082.87" y="329.02" width="37.46" height="25.95" stroke-opacity="0.120"/>
<rect x="1082.04" y="329.02" width="39.12" height="25.95" stroke-opacity="0.120"/>
<rect x="1078.72" y="329.02" width="45.76" height="25.95" stroke-opacity="0.120"/>
<rect x="1088.68" y="329.77" width="25.83" height="24.46" stroke-opacity="0.319"/>
<rect x="1087.85" y="329.77" width="27.49" height="24.46" stroke-opacity="0.120"/>
<rect x="1087.02" y="329.77" width="29.15" height="24.46" stroke-opacity="0.120"/>
<rect x="1086.19" y="329.77" width="30.81" height="24.46" stroke-opacity="0.319"/>
<rect x="1084.53" y="329.77" width="34.13" height="24.46" stroke-opacity="0.319"/>
<rect x="1082.87" y="329.77" width="37.46" height="24.46" stroke-opacity="0.120"/>
<rect x="1082.04" y="329.77" width="39.12" height="24.46" stroke-opacity="0.120"/>
<rect x="1078.72" y="329.77" width="45.76" height="24.46" stroke-opacity="0.120"/>
<rect x="1077.89" y="329.77" width="47.42" height="24.46" stroke-opacity="0.120"/>
<rect x="1076.23" y="329.77" width="50.74" height="24.46" stroke-opacity="0.120"/>
<rect x="1075.4" y="329.77" width="52.4" height="24.46" stroke-opacity="0.120"/>
<rect x="1072.91" y="329.77" width="57.38" height="24.46" stroke-opacity="0.120"/>
<rect x="1089.51" y="330.51" width="24.17" height="22.98" stroke-opacity="0.120"/>
<rect x="1087.02" y="330.51" width="29.15" height="22.98" stroke-opacity="0.120"/>
<rect x="1082.87" y="330.51" width="37.46" height="22.98" stroke-opacity="0.120"/>
<rect x="1078.72" y="330.51" width="45.76" height="22.98" stroke-opacity="0.120"/>
<rect x="1088.68" y="331.26" width="25.83" height="21.49" stroke-opacity="0.120"/>
<rect x="1086.19" y="331.26" width="30.81" height="21.49" stroke-opacity="0.120"/>
<rect x="1084.53" y="331.26" width="34.13" height="21.49" stroke-opacity="0.120"/>
<rect x="1083.7" y="331.26" width="35.79" height="21.49" stroke-opacity="0.120"/>
<rect x="1082.87" y="331.26" width="37.46" height="21.49" stroke-opacity="0.120"/>
<rect x="1078.72" y="331.26" width="45.76" height="21.49" stroke-opacity="0.120"/>
<rect x="1077.06" y="331.26" width="49.08" height="21.49" stroke-opacity="0.120"/>
<rect x="1083.7" y="332.74" width="35.79" height="18.51" stroke-opacity="0.120"/>
<rect x="1082.87" y="332.74" width="37.46" height="18.51" stroke-opacity="0.120"/>
<rect x="1077.06" y="332.74" width="49.08" height="18.51" stroke-opacity="0.120"/>
<rect x="1089.51" y="333.49" width="24.17" height="17.03" stroke-opacity="0.120"/>
<rect x="1077.06" y="333.49" width="49.08" height="17.03" stroke-opacity="0.120"/>
<rect x="1084.53" y="334.97" width="34.13" height="14.05" stroke-opacity="0.120"/>
<rect x="1080.38" y="334.97" width="42.44" height="14.05" stroke-opacity="0.120"/>
<rect x="1101.14" y="341.67" width="0.93" height="0.67" stroke-opacity="0.319"/>
<rect x="1097.82" y="341.67" width="7.57" height="0.67" stroke-opacity="0.120"/>
</g>
<g fill="#f54e4e">
<rect x="1081.17" y="311.71" width="3.4" height="3.4" fill-opacity="0.011"/>
<rect x="1081.17" y="368.89" width="3.4" height="3.4" fill-opacity="0.011"/>
<rect x="1118.63" y="311.71" width="3.4" height="3.4" fill-opacity="0.011"/>
<rect x="1118.63" y="368.89" width="3.4" height="3.4" fill-opacity="0.011"/>
<rect x="1077.02" y="311.71" width="3.4" height="3.4" fill-opacity="0.033"/>
<rect x="1077.02" y="368.89" width="3.4" height="3.4" fill-opacity="0.033"/>
<rect x="1122.78" y="311.71" width="3.4" height="3.4" fill-opacity="0.033"/>
<rect x="1122.78" y="368.89" width="3.4" height="3.4" fill-opacity="0.033"/>
<rect x="1075.36" y="311.71" width="3.4" height="3.4" fill-opacity="0.011"/>
<rect x="1075.36" y="368.89" width="3.4" height="3.4" fill-opacity="0.011"/>
<rect x="1124.44" y="311.71" width="3.4" height="3.4" fill-opacity="0.011"/>
<rect x="1124.44" y="368.89" width="3.4" height="3.4" fill-opacity="0.011"/>
<rect x="1074.53" y="311.71" width="3.4" height="3.4" fill-opacity="0.011"/>
<rect x="1074.53" y="368.89" width="3.4" height="3.4" fill-opacity="0.011"/>
<rect x="1125.27" y="311.71" width="3.4" height="3.4" fill-opacity="0.011"/>
<rect x="1125.27" y="368.89" width="3.4" height="3.4" fill-opacity="0.011"/>
<rect x="1073.7" y="311.71" width="3.4" height="3.4" fill-opacity="0.033"/>
<rect x="1073.7" y="368.89" width="3.4" height="3.4" fill-opacity="0.033"/>
<rect x="1126.1" y="311.71" width="3.4" height="3.4" fill-opacity="0.033"/>
<rect x="1126.1" y="368.89" width="3.4" height="3.4" fill-opacity="0.033"/>
<rect x="1072.87" y="311.71" width="3.4" height="3.4" fill-opacity="0.011"/>
<rect x="1072.87" y="368.89" width="3.4" height="3.4" fill-opacity="0.011"/>
<rect x="1126.93" y="311.71" width="3.4" height="3.4" fill-opacity="0.011"/>
<rect x="1126.93" y="368.89" width="3.4" height="3.4" fill-opacity="0.011"/>
<rect x="1072.04" y="311.71" width="3.4" height="3.4" fill-opacity="0.022"/>
<rect x="1072.04" y="368.89" width="3.4" height="3.4" fill-opacity="0.022"/>
<rect x="1127.76" y="311.71" width="3.4" height="3.4" fill-opacity="0.022"/>
<rect x="1127.76" y="368.89" width="3.4" height="3.4" fill-opacity="0.022"/>
<rect x="1071.21" y="311.71" width="3.4" height="3.4" fill-opacity="0.022"/>
<rect x="1071.21" y="368.89" width="3.4" height="3.4" fill-opacity="0.022"/>
<rect x="1128.59" y="311.71" width="3.4" height="3.4" fill-opacity="0.022"/>
<rect x="1128.59" y="368.89" width="3.4" height="3.4" fill-opacity="0.022"/>
<rect x="1067.89" y="311.71" width="3.4" height="3.4" fill-opacity="0.011"/>
<rect x="1067.89" y="368.89" width="3.4" height="3.4" fill-opacity="0.011"/>
<rect x="1131.91" y="311.71" width="3.4" height="3.4" fill-opacity="0.011"/>
<rect x="1131.91" y="368.89" width="3.4" height="3.4" fill-opacity="0.011"/>
<rect x="1077.02" y="312.45" width="3.4" height="3.4" fill-opacity="0.022"/>
<rect x="1077.02" y="368.15" width="3.4" height="3.4" fill-opacity="0.022"/>
<rect x="1122.78" y="312.45" width="3.4" height="3.4" fill-opacity="0.022"/>
<rect x="1122.78" y="368.15" width="3.4" height="3.4" fill-opacity="0.022"/>
<rect x="1075.36" y="312.45" width="3.4" height="3.4" fill-opacity="0.011"/>
<rect x="1075.36" y="368.15" width="3.4" height="3.4" fill-opacity="0.011"/>
<rect x="1124.44" y="312.45" width="3.4" height="3.4" fill-opacity="0.011"/>
<rect x="1124.44" y="368.15" width="3.4" height="3.4" fill-opacity="0.011"/>
<rect x="1073.7" y="312.45" width="3.4" height="3.4" fill-opacity="0.011"/>
<rect x="1073.7" y="368.15" width="3.4" height="3.4" fill-opacity="0.011"/>
<rect x="1126.1" y="312.45" width="3.4" height="3.4" fill-opacity="0.011"/>
<rect x="1126.1" y="368.15" width="3.4" height="3.4" fill-opacity="0.011"/>
<rect x="1072.87" y="312.45" width="3.4" height="3.4" fill-opacity="0.011"/>
<rect x="1072.87" y="368.15" width="3.4" height="3.4" fill-opacity="0.011"/>
<rect x="1126.93" y="312.45" width="3.4" height="3.4" fill-opacity="0.011"/>
<rect x="1126.93" y="368.15" width="3.4" height="3.4" fill-opacity="0.011"/>
<rect x="1079.51" y="313.19" width="3.4" height="3.4" fill-opacity="0.011"/>
<rect x="1079.51" y="367.41" width="3.4" height="3.4" fill-opacity="0.011"/>
<rect x="1120.29" y="313.19" width="3.4" height="3.4" fill-opacity="0.011"/>
<rect x="1120.29" y="367.41" width="3.4" height="3.4" fill-opacity="0.011"/>
<rect x="1075.36" y="313.19" width="3.4" height="3.4" fill-opacity="0.033"/>
<rect x="1075.36" y="367.41" width="3.4" height="3.4" fill-opacity="0.033"/>
<rect x="1124.44" y="313.19" width="3.4" height="3.4" fill-opacity="0.033"/>
<rect x="1124.44" y="367.41" width="3.4" height="3.4" fill-opacity="0.033"/>
<rect x="1073.7" y="313.19" width="3.4" height="3.4" fill-opacity="0.011"/>
<rect x="1073.7" y="367.41" width="3.4" height="3.4" fill-opacity="0.011"/>
<rect x="1126.1" y="313.19" width="3.4" height="3.4" fill-opacity="0.011"/>
<rect x="1126.1" y="367.41" width="3.4" height="3.4" fill-opacity="0.011"/>
<rect x="1072.87" y="313.19" width="3.4" height="3.4" fill-opacity="0.011"/>
<rect x="1072.87" y="367.41" width="3.4" height="3.4" fill-opacity="0.011"/>
<rect x="1126.93" y="313.19" width="3.4" height="3.4" fill-opacity="0.011"/>
<rect x="1126.93" y="367.41" width="3.4" height="3.4" fill-opacity="0.011"/>
<rect x="1069.55" y="313.19" width="3.4" height="3.4" fill-opacity="0.011"/>
<rect x="1069.55" y="367.41" width="3.4" height="3.4" fill-opacity="0.011"/>
<rect x="1130.25" y="313.19" width="3.4" height="3.4" fill-opacity="0.011"/>
<rect x="1130.25" y="367.41" width="3.4" height="3.4" fill-opacity="0.011"/>
<rect x="1068.72" y="313.19" width="3.4" height="3.4" fill-opacity="0.011"/>
<rect x="1068.72" y="367.41" width="3.4" height="3.4" fill-opacity="0.011"/>
<rect x="1131.08" y="313.19" width="3.4" height="3.4" fill-opacity="0.011"/>
<rect x="1131.08" y="367.41" width="3.4" height="3.4" fill-opacity="0.011"/>
<rect x="1081.17" y="313.94" width="3.4" height="3.4" fill-opacity="0.011"/>
<rect x="1081.17" y="366.66" width="3.4" height="3.4" fill-opacity="0.011"/>
<rect x="1118.63" y="313.94" width="3.4" height="3.4" fill-opacity="0.011"/>
<rect x="1118.63" y="366.66" width="3.4" height="3.4" fill-opacity="0.011"/>
<rect x="1080.34" y="313.94" width="3.4" height="3.4" fill-opacity="0.011"/>
<rect x="1080.34" y="366.66" width="3.4" height="3.4" fill-opacity="0.011"/>
<rect x="1119.46" y="313.94" width="3.4" height="3.4" fill-opacity="0.011"/>
<rect x="1119.46" y="366.66" width="3.4" height="3.4" fill-opacity="0.011"/>
<rect x="1079.51" y="313.94" width="3.4" height="3.4" fill-opacity="0.022"/>
<rect x="1079.51" y="366.66" width="3.4" height="3.4" fill-opacity="0.022"/>
<rect x="1120.29" y="313.94" width="3.4" height="3.4" fill-opacity="0.022"/>
<rect x="1120.29" y="366.66" width="3.4" height="3.4" fill-opacity="0.022"/>
<rect x="1078.68" y="313.94" width="3.4" height="3.4" fill-opacity="0.011"/>
<rect x="1078.68" y="366.66" width="3.4" height="3.4" fill-opacity="0.011"/>
<rect x="1121.12" y="313.94" width="3.4" height="3.4" fill-opacity="0.011"/>
<rect x="1121.12" y="366.66" width="3.4" height="3.4" fill-opacity="0.011"/>
<rect x="1077.02" y="313.94" width="3.4" height="3.4" fill-opacity="0.048"/>
<rect x="1077.02" y="366.66" width="3.4" height="3.4" fill-opacity="0.048"/>
<rect x="1122.78" y="313.94" width="3.4" height="3.4" fill-opacity="0.048"/>
<rect x="1122.78" y="366.66" width="3.4" height="3.4" fill-opacity="0.048"/>
<rect x="1076.19" y="313.94" width="3.4" height="3.4" fill-opacity="0.033"/>
<rect x="1076.19" y="366.66" width="3.4" height="3.4" fill-opacity="0.033"/>
<rect x="1123.61" y="313.94" width="3.4" height="3.4" fill-opacity="0.033"/>
<rect x="1123.61" y="366.66" width="3.4" height="3.4" fill-opacity="0.033"/>
<rect x="1075.36" y="313.94" width="3.4" height="3.4" fill-opacity="0.033"/>
<rect x="1075.36" y="366.66" width="3.4" height="3.4" fill-opacity="0.033"/>
<rect x="1124.44" y="313.94" width="3.4" height="3.4" fill-opacity="0.033"/>
<rect x="1124.44" y="366.66" width="3.4" height="3.4" fill-opacity="0.033"/>
<rect x="1073.7" y="313.94" width="3.4" height="3.4" fill-opacity="0.022"/>
<rect x="1073.7" y="366.66" width="3.4" height="3.4" fill-opacity="0.022"/>
<rect x="1126.1" y="313.94" width="3.4" height="3.4" fill-opacity="0.022"/>
<rect x="1126.1" y="366.66" width="3.4" height="3.4" fill-opacity="0.022"/>
<rect x="1071.21" y="313.94" width="3.4" height="3.4" fill-opacity="0.011"/>
<rect x="1071.21" y="366.66" width="3.4" height="3.4" fill-opacity="0.011"/>
<rect x="1128.59" y="313.94" width="3.4" height="3.4" fill-opacity="0.011"/>
<rect x="1128.59" y="366.66" width="3.4" height="3.4" fill-opacity="0.011"/>
<rect x="1069.55" y="313.94" width="3.4" height="3.4" fill-opacity="0.022"/>
<rect x="1069.55" y="366.66" width="3.4" height="3.4" fill-opacity="0.022"/>
<rect x="1130.25" y="313.94" width="3.4" height="3.4" fill-opacity="0.022"/>
<rect x="1130.25" y="366.66" width="3.4" height="3.4" fill-opacity="0.022"/>
<rect x="1065.4" y="313.94" width="3.4" height="3.4" fill-opacity="0.011"/>
<rect x="1065.4" y="366.66" width="3.4" height="3.4" fill-opacity="0.011"/>
<rect x="1134.4" y="313.94" width="3.4" height="3.4" fill-opacity="0.011"/>
<rect x="1134.4" y="366.66" width="3.4" height="3.4" fill-opacity="0.011"/>
<rect x="1081.17" y="314.68" width="3.4" height="3.4" fill-opacity="0.011"/>
<rect x="1081.17" y="365.92" width="3.4" height="3.4" fill-opacity="0.011"/>
<rect x="1118.63" y="314.68" width="3.4" height="3.4" fill-opacity="0.011"/>
<rect x="1118.63" y="365.92" width="3.4" height="3.4" fill-opacity="0.011"/>
<rect x="1079.51" y="314.68" width="3.4" height="3.4" fill-opacity="0.011"/>
<rect x="1079.51" y="365.92" width="3.4" height="3.4" fill-opacity="0.011"/>
<rect x="1120.29" y="314.68" width="3.4" height="3.4" fill-opacity="0.011"/>
<rect x="1120.29" y="365.92" width="3.4" height="3.4" fill-opacity="0.011"/>
<rect x="1077.02" y="314.68" width="3.4" height="3.4" fill-opacity="0.022"/>
<rect x="1077.02" y="365.92" width="3.4" height="3.4" fill-opacity="0.022"/>
<rect x="1122.78" y="314.68" width="3.4" height="3.4" fill-opacity="0.022"/>
<rect x="1122.78" y="365.92" width="3.4" height="3.4" fill-opacity="0.022"/>
<rect x="1076.19" y="314.68" width="3.4" height="3.4" fill-opacity="0.011"/>
<rect x="1076.19" y="365.92" width="3.4" height="3.4" fill-opacity="0.011"/>
<rect x="1123.61" y="314.68" width="3.4" height="3.4" fill-opacity="0.011"/>
<rect x="1123.61" y="365.92" width="3.4" height="3.4" fill-opacity="0.011"/>
<rect x="1075.36" y="314.68" width="3.4" height="3.4" fill-opacity="0.033"/>
<rect x="1075.36" y="365.92" width="3.4" height="3.4" fill-opacity="0.033"/>
<rect x="1124.44" y="314.68" width="3.4" height="3.4" fill-opacity="0.033"/>
<rect x="1124.44" y="365.92" width="3.4" height="3.4" fill-opacity="0.033"/>
<rect x="1073.7" y="314.68" width="3.4" height="3.4" fill-opacity="0.022"/>
<rect x="1073.7" y="365.92" width="3.4" height="3.4" fill-opacity="0.022"/>
<rect x="1126.1" y="314.68" width="3.4" height="3.4" fill-opacity="0.022"/>
<rect x="1126.1" y="365.92" width="3.4" height="3.4" fill-opacity="0.022"/>
<rect x="1069.55" y="314.68" width="3.4" height="3.4" fill-opacity="0.011"/>
<rect x="1069.55" y="365.92" width="3.4" height="3.4" fill-opacity="0.011"/>
<rect x="1130.25" y="314.68" width="3.4" height="3.4" fill-opacity="0.011"/>
<rect x="1130.25" y="365.92" width="3.4" height="3.4" fill-opacity="0.011"/>
<rect x="1082.83" y="315.42" width="3.4" height="3.4" fill-opacity="0.011"/>
<rect x="1082.83" y="365.18" width="3.4" height="3.4" fill-opacity="0.011"/>
<rect x="1116.97" y="315.42" width="3.4" height="3.4" fill-opacity="0.011"/>
<rect x="1116.97" y="365.18" width="3.4" height="3.4" fill-opacity="0.011"/>
<rect x="1082" y="315.42" width="3.4" height="3.4" fill-opacity="0.011"/>
<rect x="1082" y="365.18" width="3.4" height="3.4" fill-opacity="0.011"/>
<rect x="1117.8" y="315.42" width="3.4" height="3.4" fill-opacity="0.011"/>
<rect x="1117.8" y="365.18" width="3.4" height="3.4" fill-opacity="0.011"/>
<rect x="1081.17" y="315.42" width="3.4" height="3.4" fill-opacity="0.011"/>
<rect x="1081.17" y="365.18" width="3.4" height="3.4" fill-opacity="0.011"/>
<rect x="1118.63" y="315.42" width="3.4" height="3.4" fill-opacity="0.011"/>
<rect x="1118.63" y="365.18" width="3.4" height="3.4" fill-opacity="0.011"/>
<rect x="1079.51" y="315.42" width="3.4" height="3.4" fill-opacity="0.022"/>
<rect x="1079.51" y="365.18" width="3.4" height="3.4" fill-opacity="0.022"/>
<rect x="1120.29" y="315.42" width="3.4" height="3.4" fill-opacity="0.022"/>
<rect x="1120.29" y="365.18" width="3.4" height="3.4" fill-opacity="0.022"/>
<rect x="1078.68" y="315.42" width="3.4" height="3.4" fill-opacity="0.011"/>
<rect x="1078.68" y="365.18" width="3.4" height="3.4" fill-opacity="0.011"/>
<rect x="1121.12" y="315.42" width="3.4" height="3.4" fill-opacity="0.011"/>
<rect x="1121.12" y="365.18" width="3.4" height="3.4" fill-opacity="0.011"/>
<rect x="1077.85" y="315.42" width="3.4" height="3.4" fill-opacity="0.033"/>
<rect x="1077.85" y="365.18" width="3.4" height="3.4" fill-opacity="0.033"/>
<rect x="1121.95" y="315.42" width="3.4" height="3.4" fill-opacity="0.033"/>
<rect x="1121.95" y="365.18" width="3.4" height="3.4" fill-opacity="0.033"/>
<rect x="1077.02" y="315.42" width="3.4" height="3.4" fill-opacity="0.033"/>
<rect x="1077.02" y="365.18" width="3.4" height="3.4" fill-opacity="0.033"/>
<rect x="1122.78" y="315.42" width="3.4" height="3.4" fill-opacity="0.033"/>
<rect x="1122.78" y="365.18" width="3.4" height="3.4" fill-opacity="0.033"/>
<rect x="1076.19" y="315.42" width="3.4" height="3.4" fill-opacity="0.033"/>
<rect x="1076.19" y="365.18" width="3.4" height="3.4" fill-opacity="0.033"/>
<rect x="1123.61" y="315.42" width="3.4" height="3.4" fill-opacity="0.033"/>
<rect x="1123.61" y="365.18" width="3.4" height="3.4" fill-opacity="0.033"/>
<rect x="1075.36" y="315.42" width="3.4" height="3.4" fill-opacity="0.048"/>
<rect x="1075.36" y="365.18" width="3.4" height="3.4" fill-opacity="0.048"/>
<rect x="1124.44" y="315.42" width="3.4" height="3.4" fill-opacity="0.048"/>
<rect x="1124.44" y="365.18" width="3.4" height="3.4" fill-opacity="0.048"/>
<rect x="1074.53" y="315.42" width="3.4" height="3.4" fill-opacity="0.033"/>
<rect x="1074.53" y="365.18" width="3.4" height="3.4" fill-opacity="0.033"/>
<rect x="1125.27" y="315.42" width="3.4" height="3.4" fill-opacity="0.033"/>
<rect x="1125.27" y="365.18" width="3.4" height="3.4" fill-opacity="0.033"/>
<rect x="1073.7" y="315.42" width="3.4" height="3.4" fill-opacity="0.033"/>
<rect x="1073.7" y="365.18" width="3.4" height="3.4" fill-opacity="0.033"/>
<rect x="1126.1" y="315.42" width="3.4" height="3.4" fill-opacity="0.033"/>
<rect x="1126.1" y="365.18" width="3.4" height="3.4" fill-opacity="0.033"/>
<rect x="1072.87" y="315.42" width="3.4" height="3.4" fill-opacity="0.022"/>
<rect x="1072.87" y="365.18" width="3.4" height="3.4" fill-opacity="0.022"/>
<rect x="1126.93" y="315.42" width="3.4" height="3.4" fill-opacity="0.022"/>
<rect x="1126.93" y="365.18" width="3.4" height="3.4" fill-opacity="0.022"/>
<rect x="1072.04" y="315.42" width="3.4" height="3.4" fill-opacity="0.011"/>
<rect x="1072.04" y="365.18" width="3.4" height="3.4" fill-opacity="0.011"/>
<rect x="1127.76" y="315.42" width="3.4" height="3.4" fill-opacity="0.011"/>
<rect x="1127.76" y="365.18" width="3.4" height="3.4" fill-opacity="0.011"/>
<rect x="1071.21" y="315.42" width="3.4" height="3.4" fill-opacity="0.033"/>
<rect x="1071.21" y="365.18" width="3.4" height="3.4" fill-opacity="0.033"/>
<rect x="1128.59" y="315.42" width="3.4" height="3.4" fill-opacity="0.033"/>
<rect x="1128.59" y="365.18" width="3.4" height="3.4" fill-opacity="0.033"/>
<rect x="1070.38" y="315.42" width="3.4" height="3.4" fill-opacity="0.011"/>
<rect x="1070.38" y="365.18" width="3.4" height="3.4" fill-opacity="0.011"/>
<rect x="1129.42" y="315.42" width="3.4" height="3.4" fill-opacity="0.011"/>
<rect x="1129.42" y="365.18" width="3.4" height="3.4" fill-opacity="0.011"/>
<rect x="1069.55" y="315.42" width="3.4" height="3.4" fill-opacity="0.011"/>
<rect x="1069.55" y="365.18" width="3.4" height="3.4" fill-opacity="0.011"/>
<rect x="1130.25" y="315.42" width="3.4" height="3.4" fill-opacity="0.011"/>
<rect x="1130.25" y="365.18" width="3.4" height="3.4" fill-opacity="0.011"/>
<rect x="1082.83" y="316.17" width="3.4" height="3.4" fill-opacity="0.011"/>
<rect x="1082.83" y="364.43" width="3.4" height="3.4" fill-opacity="0.011"/>
<rect x="1116.97" y="316.17" width="3.4" height="3.4" fill-opacity="0.011"/>
<rect x="1116.97" y="364.43" width="3.4" height="3.4" fill-opacity="0.011"/>
<rect x="1081.17" y="316.17" width="3.4" height="3.4" fill-opacity="0.022"/>
<rect x="1081.17" y="364.43" width="3.4" height="3.4" fill-opacity="0.022"/>
<rect x="1118.63" y="316.17" width="3.4" height="3.4" fill-opacity="0.022"/>
<rect x="1118.63" y="364.43" width="3.4" height="3.4" fill-opacity="0.022"/>
<rect x="1080.34" y="316.17" width="3.4" height="3.4" fill-opacity="0.022"/>
<rect x="1080.34" y="364.43" width="3.4" height="3.4" fill-opacity="0.022"/>
<rect x="1119.46" y="316.17" width="3.4" height="3.4" fill-opacity="0.022"/>
<rect x="1119.46" y="364.43" width="3.4" height="3.4" fill-opacity="0.022"/>
<rect x="1079.51" y="316.17" width="3.4" height="3.4" fill-opacity="0.011"/>
<rect x="1079.51" y="364.43" width="3.4" height="3.4" fill-opacity="0.011"/>
<rect x="1120.29" y="316.17" width="3.4" height="3.4" fill-opacity="0.011"/>
<rect x="1120.29" y="364.43" width="3.4" height="3.4" fill-opacity="0.011"/>
<rect x="1077.85" y="316.17" width="3.4" height="3.4" fill-opacity="0.011"/>
<rect x="1077.85" y="364.43" width="3.4" height="3.4" fill-opacity="0.011"/>
<rect x="1121.95" y="316.17" width="3.4" height="3.4" fill-opacity="0.011"/>
<rect x="1121.95" y="364.43" width="3.4" height="3.4" fill-opacity="0.011"/>
<rect x="1077.02" y="316.17" width="3.4" height="3.4" fill-opacity="0.048"/>
<rect x="1077.02" y="364.43" width="3.4" height="3.4" fill-opacity="0.048"/>
<rect x="1122.78" y="316.17" width="3.4" height="3.4" fill-opacity="0.048"/>
<rect x="1122.78" y="364.43" width="3.4" height="3.4" fill-opacity="0.048"/>
<rect x="1076.19" y="316.17" width="3.4" height="3.4" fill-opacity="0.011"/>
<rect x="1076.19" y="364.43" width="3.4" height="3.4" fill-opacity="0.011"/>
<rect x="1123.61" y="316.17" width="3.4" height="3.4" fill-opacity="0.011"/>
<rect x="1123.61" y="364.43" width="3.4" height="3.4" fill-opacity="0.011"/>
<rect x="1075.36" y="316.17" width="3.4" height="3.4" fill-opacity="0.022"/>
<rect x="1075.36" y="364.43" width="3.4" height="3.4" fill-opacity="0.022"/>
<rect x="1124.44" y="316.17" width="3.4" height="3.4" fill-opacity="0.022"/>
<rect x="1124.44" y="364.43" width="3.4" height="3.4" fill-opacity="0.022"/>
<rect x="1074.53" y="316.17" width="3.4" height="3.4" fill-opacity="0.022"/>
<rect x="1074.53" y="364.43" width="3.4" height="3.4" fill-opacity="0.022"/>
<rect x="1125.27" y="316.17" width="3.4" height="3.4" fill-opacity="0.022"/>
<rect x="1125.27" y="364.43" width="3.4" height="3.4" fill-opacity="0.022"/>
<rect x="1073.7" y="316.17" width="3.4" height="3.4" fill-opacity="0.022"/>
<rect x="1073.7" y="364.43" width="3.4" height="3.4" fill-opacity="0.022"/>
<rect x="1126.1" y="316.17" width="3.4" height="3.4" fill-opacity="0.022"/>
<rect x="1126.1" y="364.43" width="3.4" height="3.4" fill-opacity="0.022"/>
<rect x="1072.87" y="316.17" width="3.4" height="3.4" fill-opacity="0.011"/>
<rect x="1072.87" y="364.43" width="3.4" height="3.4" fill-opacity="0.011"/>
<rect x="1126.93" y="316.17" width="3.4" height="3.4" fill-opacity="0.011"/>
<rect x="1126.93" y="364.43" width="3.4" height="3.4" fill-opacity="0.011"/>
<rect x="1071.21" y="316.17" width="3.4" height="3.4" fill-opacity="0.011"/>
<rect x="1071.21" y="364.43" width="3.4" height="3.4" fill-opacity="0.011"/>
<rect x="1128.59" y="316.17" width="3.4" height="3.4" fill-opacity="0.011"/>
<rect x="1128.59" y="364.43" width="3.4" height="3.4" fill-opacity="0.011"/>
<rect x="1070.38" y="316.17" width="3.4" height="3.4" fill-opacity="0.011"/>
<rect x="1070.38" y="364.43" width="3.4" height="3.4" fill-opacity="0.011"/>
<rect x="1129.42" y="316.17" width="3.4" height="3.4" fill-opacity="0.011"/>
<rect x="1129.42" y="364.43" width="3.4" height="3.4" fill-opacity="0.011"/>
<rect x="1082.83" y="316.91" width="3.4" height="3.4" fill-opacity="0.011"/>
<rect x="1082.83" y="363.69" width="3.4" height="3.4" fill-opacity="0.011"/>
<rect x="1116.97" y="316.91" width="3.4" height="3.4" fill-opacity="0.011"/>
<rect x="1116.97" y="363.69" width="3.4" height="3.4" fill-opacity="0.011"/>
<rect x="1082" y="316.91" width="3.4" height="3.4" fill-opacity="0.022"/>
<rect x="1082" y="363.69" width="3.4" height="3.4" fill-opacity="0.022"/>
<rect x="1117.8" y="316.91" width="3.4" height="3.4" fill-opacity="0.022"/>
<rect x="1117.8" y="363.69" width="3.4" height="3.4" fill-opacity="0.022"/>
<rect x="1081.17" y="316.91" width="3.4" height="3.4" fill-opacity="0.022"/>
<rect x="1081.17" y="363.69" width="3.4" height="3.4" fill-opacity="0.022"/>
<rect x="1118.63" y="316.91" width="3.4" height="3.4" fill-opacity="0.022"/>
<rect x="1118.63" y="363.69" width="3.4" height="3.4" fill-opacity="0.022"/>
<rect x="1080.34" y="316.91" width="3.4" height="3.4" fill-opacity="0.022"/>
<rect x="1080.34" y="363.69" width="3.4" height="3.4" fill-opacity="0.022"/>
<rect x="1119.46" y="316.91" width="3.4" height="3.4" fill-opacity="0.022"/>
<rect x="1119.46" y="363.69" width="3.4" height="3.4" fill-opacity="0.022"/>
<rect x="1079.51" y="316.91" width="3.4" height="3.4" fill-opacity="0.022"/>
<rect x="1079.51" y="363.69" width="3.4" height="3.4" fill-opacity="0.022"/>
<rect x="1120.29" y="316.91" width="3.4" height="3.4" fill-opacity="0.022"/>
<rect x="1120.29" y="363.69" width="3.4" height="3.4" fill-opacity="0.022"/>
<rect x="1078.68" y="316.91" width="3.4" height="3.4" fill-opacity="0.033"/>
<rect x="1078.68" y="363.69" width="3.4" height="3.4" fill-opacity="0.033"/>
<rect x="1121.12" y="316.91" width="3.4" height="3.4" fill-opacity="0.033"/>
<rect x="1121.12" y="363.69" width="3.4" height="3.4" fill-opacity="0.033"/>
<rect x="1077.85" y="316.91" width="3.4" height="3.4" fill-opacity="0.033"/>
<rect x="1077.85" y="363.69" width="3.4" height="3.4" fill-opacity="0.033"/>
<rect x="1121.95" y="316.91" width="3.4" height="3.4" fill-opacity="0.033"/>
<rect x="1121.95" y="363.69" width="3.4" height="3.4" fill-opacity="0.033"/>
<rect x="1077.02" y="316.91" width="3.4" height="3.4" fill-opacity="0.033"/>
<rect x="1077.02" y="363.69" width="3.4" height="3.4" fill-opacity="0.033"/>
<rect x="1122.78" y="316.91" width="3.4" height="3.4" fill-opacity="0.033"/>
<rect x="1122.78" y="363.69" width="3.4" height="3.4" fill-opacity="0.033"/>
<rect x="1076.19" y="316.91" width="3.4" height="3.4" fill-opacity="0.022"/>
<rect x="1076.19" y="363.69" width="3.4" height="3.4" fill-opacity="0.022"/>
<rect x="1123.61" y="316.91" width="3.4" height="3.4" fill-opacity="0.022"/>
<rect x="1123.61" y="363.69" width="3.4" height="3.4" fill-opacity="0.022"/>
<rect x="1075.36" y="316.91" width="3.4" height="3.4" fill-opacity="0.033"/>
<rect x="1075.36" y="363.69" width="3.4" height="3.4" fill-opacity="0.033"/>
<rect x="1124.44" y="316.91" width="3.4" height="3.4" fill-opacity="0.033"/>
<rect x="1124.44" y="363.69" width="3.4" height="3.4" fill-opacity="0.033"/>
<rect x="1073.7" y="316.91" width="3.4" height="3.4" fill-opacity="0.048"/>
<rect x="1073.7" y="363.69" width="3.4" height="3.4" fill-opacity="0.048"/>
<rect x="1126.1" y="316.91" width="3.4" height="3.4" fill-opacity="0.048"/>
<rect x="1126.1" y="363.69" width="3.4" height="3.4" fill-opacity="0.048"/>
<rect x="1072.87" y="316.91" width="3.4" height="3.4" fill-opacity="0.011"/>
<rect x="1072.87" y="363.69" width="3.4" height="3.4" fill-opacity="0.011"/>
<rect x="1126.93" y="316.91" width="3.4" height="3.4" fill-opacity="0.011"/>
<rect x="1126.93" y="363.69" width="3.4" height="3.4" fill-opacity="0.011"/>
<rect x="1072.04" y="316.91" width="3.4" height="3.4" fill-opacity="0.022"/>
<rect x="1072.04" y="363.69" width="3.4" height="3.4" fill-opacity="0.022"/>
<rect x="1127.76" y="316.91" width="3.4" height="3.4" fill-opacity="0.022"/>
<rect x="1127.76" y="363.69" width="3.4" height="3.4" fill-opacity="0.022"/>
<rect x="1071.21" y="316.91" width="3.4" height="3.4" fill-opacity="0.011"/>
<rect x="1071.21" y="363.69" width="3.4" height="3.4" fill-opacity="0.011"/>
<rect x="1128.59" y="316.91" width="3.4" height="3.4" fill-opacity="0.011"/>
<rect x="1128.59" y="363.69" width="3.4" height="3.4" fill-opacity="0.011"/>
<rect x="1070.38" y="316.91" width="3.4" height="3.4" fill-opacity="0.011"/>
<rect x="1070.38" y="363.69" width="3.4" height="3.4" fill-opacity="0.011"/>
<rect x="1129.42" y="316.91" width="3.4" height="3.4" fill-opacity="0.011"/>
<rect x="1129.42" y="363.69" width="3.4" height="3.4" fill-opacity="0.011"/>
<rect x="1082.83" y="317.66" width="3.4" height="3.4" fill-opacity="0.033"/>
<rect x="1082.83" y="362.94" width="3.4" height="3.4" fill-opacity="0.033"/>
<rect x="1116.97" y="317.66" width="3.4" height="3.4" fill-opacity="0.033"/>
<rect x="1116.97" y="362.94" width="3.4" height="3.4" fill-opacity="0.033"/>
<rect x="1081.17" y="317.66" width="3.4" height="3.4" fill-opacity="0.033"/>
<rect x="1081.17" y="362.94" width="3.4" height="3.4" fill-opacity="0.033"/>
<rect x="1118.63" y="317.66" width="3.4" height="3.4" fill-opacity="0.033"/>
<rect x="1118.63" y="362.94" width="3.4" height="3.4" fill-opacity="0.033"/>
<rect x="1080.34" y="317.66" width="3.4" height="3.4" fill-opacity="0.033"/>
<rect x="1080.34" y="362.94" width="3.4" height="3.4" fill-opacity="0.033"/>
<rect x="1119.46" y="317.66" width="3.4" height="3.4" fill-opacity="0.033"/>
<rect x="1119.46" y="362.94" width="3.4" height="3.4" fill-opacity="0.033"/>
<rect x="1079.51" y="317.66" width="3.4" height="3.4" fill-opacity="0.048"/>
<rect x="1079.51" y="362.94" width="3.4" height="3.4" fill-opacity="0.048"/>
<rect x="1120.29" y="317.66" width="3.4" height="3.4" fill-opacity="0.048"/>
<rect x="1120.29" y="362.94" width="3.4" height="3.4" fill-opacity="0.048"/>
<rect x="1078.68" y="317.66" width="3.4" height="3.4" fill-opacity="0.048"/>
<rect x="1078.68" y="362.94" width="3.4" height="3.4" fill-opacity="0.048"/>
<rect x="1121.12" y="317.66" width="3.4" height="3.4" fill-opacity="0.048"/>
<rect x="1121.12" y="362.94" width="3.4" height="3.4" fill-opacity="0.048"/>
<rect x="1077.85" y="317.66" width="3.4" height="3.4" fill-opacity="0.033"/>
<rect x="1077.85" y="362.94" width="3.4" height="3.4" fill-opacity="0.033"/>
<rect x="1121.95" y="317.66" width="3.4" height="3.4" fill-opacity="0.033"/>
<rect x="1121.95" y="362.94" width="3.4" height="3.4" fill-opacity="0.033"/>
<rect x="1077.02" y="317.66" width="3.4" height="3.4" fill-opacity="0.062"/>
<rect x="1077.02" y="362.94" width="3.4" height="3.4" fill-opacity="0.062"/>
<rect x="1122.78" y="317.66" width="3.4" height="3.4" fill-opacity="0.062"/>
<rect x="1122.78" y="362.94" width="3.4" height="3.4" fill-opacity="0.062"/>
<rect x="1076.19" y="317.66" width="3.4" height="3.4" fill-opacity="0.022"/>
<rect x="1076.19" y="362.94" width="3.4" height="3.4" fill-opacity="0.022"/>
<rect x="1123.61" y="317.66" width="3.4" height="3.4" fill-opacity="0.022"/>
<rect x="1123.61" y="362.94" width="3.4" height="3.4" fill-opacity="0.022"/>
<rect x="1075.36" y="317.66" width="3.4" height="3.4" fill-opacity="0.062"/>
<rect x="1075.36" y="362.94" width="3.4" height="3.4" fill-opacity="0.062"/>
<rect x="1124.44" y="317.66" width="3.4" height="3.4" fill-opacity="0.062"/>
<rect x="1124.44" y="362.94" width="3.4" height="3.4" fill-opacity="0.062"/>
<rect x="1074.53" y="317.66" width="3.4" height="3.4" fill-opacity="0.033"/>
<rect x="1074.53" y="362.94" width="3.4" height="3.4" fill-opacity="0.033"/>
<rect x="1125.27" y="317.66" width="3.4" height="3.4" fill-opacity="0.033"/>
<rect x="1125.27" y="362.94" width="3.4" height="3.4" fill-opacity="0.033"/>
<rect x="1073.7" y="317.66" width="3.4" height="3.4" fill-opacity="0.062"/>
<rect x="1073.7" y="362.94" width="3.4" height="3.4" fill-opacity="0.062"/>
<rect x="1126.1" y="317.66" width="3.4" height="3.4" fill-opacity="0.062"/>
<rect x="1126.1" y="362.94" width="3.4" height="3.4" fill-opacity="0.062"/>
<rect x="1072.87" y="317.66" width="3.4" height="3.4" fill-opacity="0.033"/>
<rect x="1072.87" y="362.94" width="3.4" height="3.4" fill-opacity="0.033"/>
<rect x="1126.93" y="317.66" width="3.4" height="3.4" fill-opacity="0.033"/>
<rect x="1126.93" y="362.94" width="3.4" height="3.4" fill-opacity="0.033"/>
<rect x="1072.04" y="317.66" width="3.4" height="3.4" fill-opacity="0.011"/>
<rect x="1072.04" y="362.94" width="3.4" height="3.4" fill-opacity="0.011"/>
<rect x="1127.76" y="317.66" width="3.4" height="3.4" fill-opacity="0.011"/>
<rect x="1127.76" y="362.94" width="3.4" height="3.4" fill-opacity="0.011"/>
<rect x="1071.21" y="317.66" width="3.4" height="3.4" fill-opacity="0.033"/>
<rect x="1071.21" y="362.94" width="3.4" height="3.4" fill-opacity="0.033"/>
<rect x="1128.59" y="317.66" width="3.4" height="3.4" fill-opacity="0.033"/>
<rect x="1128.59" y="362.94" width="3.4" height="3.4" fill-opacity="0.033"/>
<rect x="1070.38" y="317.66" width="3.4" height="3.4" fill-opacity="0.033"/>
<rect x="1070.38" y="362.94" width="3.4" height="3.4" fill-opacity="0.033"/>
<rect x="1129.42" y="317.66" width="3.4" height="3.4" fill-opacity="0.033"/>
<rect x="1129.42" y="362.94" width="3.4" height="3.4" fill-opacity="0.033"/>
<rect x="1067.89" y="317.66" width="3.4" height="3.4" fill-opacity="0.022"/>
<rect x="1067.89" y="362.94" width="3.4" height="3.4" fill-opacity="0.022"/>
<rect x="1131.91" y="317.66" width="3.4" height="3.4" fill-opacity="0.022"/>
<rect x="1131.91" y="362.94" width="3.4" height="3.4" fill-opacity="0.022"/>
<rect x="1066.23" y="317.66" width="3.4" height="3.4" fill-opacity="0.011"/>
<rect x="1066.23" y="362.94" width="3.4" height="3.4" fill-opacity="0.011"/>
<rect x="1133.57" y="317.66" width="3.4" height="3.4" fill-opacity="0.011"/>
<rect x="1133.57" y="362.94" width="3.4" height="3.4" fill-opacity="0.011"/>
<rect x="1081.17" y="318.4" width="3.4" height="3.4" fill-opacity="0.011"/>
<rect x="1081.17" y="362.2" width="3.4" height="3.4" fill-opacity="0.011"/>
<rect x="1118.63" y="318.4" width="3.4" height="3.4" fill-opacity="0.011"/>
<rect x="1118.63" y="362.2" width="3.4" height="3.4" fill-opacity="0.011"/>
<rect x="1080.34" y="318.4" width="3.4" height="3.4" fill-opacity="0.011"/>
<rect x="1080.34" y="362.2" width="3.4" height="3.4" fill-opacity="0.011"/>
<rect x="1119.46" y="318.4" width="3.4" height="3.4" fill-opacity="0.011"/>
<rect x="1119.46" y="362.2" width="3.4" height="3.4" fill-opacity="0.011"/>
<rect x="1079.51" y="318.4" width="3.4" height="3.4" fill-opacity="0.022"/>
<rect x="1079.51" y="362.2" width="3.4" height="3.4" fill-opacity="0.022"/>
<rect x="1120.29" y="318.4" width="3.4" height="3.4" fill-opacity="0.022"/>
<rect x="1120.29" y="362.2" width="3.4" height="3.4" fill-opacity="0.022"/>
<rect x="1078.68" y="318.4" width="3.4" height="3.4" fill-opacity="0.022"/>
<rect x="1078.68" y="362.2" width="3.4" height="3.4" fill-opacity="0.022"/>
<rect x="1121.12" y="318.4" width="3.4" height="3.4" fill-opacity="0.022"/>
<rect x="1121.12" y="362.2" width="3.4" height="3.4" fill-opacity="0.022"/>
<rect x="1077.85" y="318.4" width="3.4" height="3.4" fill-opacity="0.011"/>
<rect x="1077.85" y="362.2" width="3.4" height="3.4" fill-opacity="0.011"/>
<rect x="1121.95" y="318.4" width="3.4" height="3.4" fill-opacity="0.011"/>
<rect x="1121.95" y="362.2" width="3.4" height="3.4" fill-opacity="0.011"/>
<rect x="1077.02" y="318.4" width="3.4" height="3.4" fill-opacity="0.033"/>
<rect x="1077.02" y="362.2" width="3.4" height="3.4" fill-opacity="0.033"/>
<rect x="1122.78" y="318.4" width="3.4" height="3.4" fill-opacity="0.033"/>
<rect x="1122.78" y="362.2" width="3.4" height="3.4" fill-opacity="0.033"/>
<rect x="1076.19" y="318.4" width="3.4" height="3.4" fill-opacity="0.022"/>
<rect x="1076.19" y="362.2" width="3.4" height="3.4" fill-opacity="0.022"/>
<rect x="1123.61" y="318.4" width="3.4" height="3.4" fill-opacity="0.022"/>
<rect x="1123.61" y="362.2" width="3.4" height="3.4" fill-opacity="0.022"/>
<rect x="1075.36" y="318.4" width="3.4" height="3.4" fill-opacity="0.033"/>
<rect x="1075.36" y="362.2" width="3.4" height="3.4" fill-opacity="0.033"/>
<rect x="1124.44" y="318.4" width="3.4" height="3.4" fill-opacity="0.033"/>
<rect x="1124.44" y="362.2" width="3.4" height="3.4" fill-opacity="0.033"/>
<rect x="1074.53" y="318.4" width="3.4" height="3.4" fill-opacity="0.022"/>
<rect x="1074.53" y="362.2" width="3.4" height="3.4" fill-opacity="0.022"/>
<rect x="1125.27" y="318.4" width="3.4" height="3.4" fill-opacity="0.022"/>
<rect x="1125.27" y="362.2" width="3.4" height="3.4" fill-opacity="0.022"/>
<rect x="1073.7" y="318.4" width="3.4" height="3.4" fill-opacity="0.022"/>
<rect x="1073.7" y="362.2" width="3.4" height="3.4" fill-opacity="0.022"/>
<rect x="1126.1" y="318.4" width="3.4" height="3.4" fill-opacity="0.022"/>
<rect x="1126.1" y="362.2" width="3.4" height="3.4" fill-opacity="0.022"/>
<rect x="1072.87" y="318.4" width="3.4" height="3.4" fill-opacity="0.022"/>
<rect x="1072.87" y="362.2" width="3.4" height="3.4" fill-opacity="0.022"/>
<rect x="1126.93" y="318.4" width="3.4" height="3.4" fill-opacity="0.022"/>
<rect x="1126.93" y="362.2" width="3.4" height="3.4" fill-opacity="0.022"/>
<rect x="1072.04" y="318.4" width="3.4" height="3.4" fill-opacity="0.011"/>
<rect x="1072.04" y="362.2" width="3.4" height="3.4" fill-opacity="0.011"/>
<rect x="1127.76" y="318.4" width="3.4" height="3.4" fill-opacity="0.011"/>
<rect x="1127.76" y="362.2" width="3.4" height="3.4" fill-opacity="0.011"/>
<rect x="1071.21" y="318.4" width="3.4" height="3.4" fill-opacity="0.022"/>
<rect x="1071.21" y="362.2" width="3.4" height="3.4" fill-opacity="0.022"/>
<rect x="1128.59" y="318.4" width="3.4" height="3.4" fill-opacity="0.022"/>
<rect x="1128.59" y="362.2" width="3.4" height="3.4" fill-opacity="0.022"/>
<rect x="1070.38" y="318.4" width="3.4" height="3.4" fill-opacity="0.022"/>
<rect x="1070.38" y="362.2" width="3.4" height="3.4" fill-opacity="0.022"/>
<rect x="1129.42" y="318.4" width="3.4" height="3.4" fill-opacity="0.022"/>
<rect x="1129.42" y="362.2" width="3.4" height="3.4" fill-opacity="0.022"/>
<rect x="1069.55" y="318.4" width="3.4" height="3.4" fill-opacity="0.011"/>
<rect x="1069.55" y="362.2" width="3.4" height="3.4" fill-opacity="0.011"/>
<rect x="1130.25" y="318.4" width="3.4" height="3.4" fill-opacity="0.011"/>
<rect x="1130.25" y="362.2" width="3.4" height="3.4" fill-opacity="0.011"/>
<rect x="1067.89" y="318.4" width="3.4" height="3.4" fill-opacity="0.011"/>
<rect x="1067.89" y="362.2" width="3.4" height="3.4" fill-opacity="0.011"/>
<rect x="1131.91" y="318.4" width="3.4" height="3.4" fill-opacity="0.011"/>
<rect x="1131.91" y="362.2" width="3.4" height="3.4" fill-opacity="0.011"/>
<rect x="1082.83" y="319.14" width="3.4" height="3.4" fill-opacity="0.033"/>
<rect x="1082.83" y="361.46" width="3.4" height="3.4" fill-opacity="0.033"/>
<rect x="1116.97" y="319.14" width="3.4" height="3.4" fill-opacity="0.033"/>
<rect x="1116.97" y="361.46" width="3.4" height="3.4" fill-opacity="0.033"/>
<rect x="1082" y="319.14" width="3.4" height="3.4" fill-opacity="0.011"/>
<rect x="1082" y="361.46" width="3.4" height="3.4" fill-opacity="0.011"/>
<rect x="1117.8" y="319.14" width="3.4" height="3.4" fill-opacity="0.011"/>
<rect x="1117.8" y="361.46" width="3.4" height="3.4" fill-opacity="0.011"/>
<rect x="1081.17" y="319.14" width="3.4" height="3.4" fill-opacity="0.033"/>
<rect x="1081.17" y="361.46" width="3.4" height="3.4" fill-opacity="0.033"/>
<rect x="1118.63" y="319.14" width="3.4" height="3.4" fill-opacity="0.033"/>
<rect x="1118.63" y="361.46" width="3.4" height="3.4" fill-opacity="0.033"/>
<rect x="1080.34" y="319.14" width="3.4" height="3.4" fill-opacity="0.033"/>
<rect x="1080.34" y="361.46" width="3.4" height="3.4" fill-opacity="0.033"/>
<rect x="1119.46" y="319.14" width="3.4" height="3.4" fill-opacity="0.033"/>
<rect x="1119.46" y="361.46" width="3.4" height="3.4" fill-opacity="0.033"/>
<rect x="1079.51" y="319.14" width="3.4" height="3.4" fill-opacity="0.048"/>
<rect x="1079.51" y="361.46" width="3.4" height="3.4" fill-opacity="0.048"/>
<rect x="1120.29" y="319.14" width="3.4" height="3.4" fill-opacity="0.048"/>
<rect x="1120.29" y="361.46" width="3.4" height="3.4" fill-opacity="0.048"/>
<rect x="1078.68" y="319.14" width="3.4" height="3.4" fill-opacity="0.062"/>
<rect x="1078.68" y="361.46" width="3.4" height="3.4" fill-opacity="0.062"/>
<rect x="1121.12" y="319.14" width="3.4" height="3.4" fill-opacity="0.062"/>
<rect x="1121.12" y="361.46" width="3.4" height="3.4" fill-opacity="0.062"/>
<rect x="1077.85" y="319.14" width="3.4" height="3.4" fill-opacity="0.048"/>
<rect x="1077.85" y="361.46" width="3.4" height="3.4" fill-opacity="0.048"/>
<rect x="1121.95" y="319.14" width="3.4" height="3.4" fill-opacity="0.048"/>
<rect x="1121.95" y="361.46" width="3.4" height="3.4" fill-opacity="0.048"/>
<rect x="1077.02" y="319.14" width="3.4" height="3.4" fill-opacity="0.062"/>
<rect x="1077.02" y="361.46" width="3.4" height="3.4" fill-opacity="0.062"/>
<rect x="1122.78" y="319.14" width="3.4" height="3.4" fill-opacity="0.062"/>
<rect x="1122.78" y="361.46" width="3.4" height="3.4" fill-opacity="0.062"/>
<rect x="1076.19" y="319.14" width="3.4" height="3.4" fill-opacity="0.062"/>
<rect x="1076.19" y="361.46" width="3.4" height="3.4" fill-opacity="0.062"/>
<rect x="1123.61" y="319.14" width="3.4" height="3.4" fill-opacity="0.062"/>
<rect x="1123.61" y="361.46" width="3.4" height="3.4" fill-opacity="0.062"/>
<rect x="1075.36" y="319.14" width="3.4" height="3.4" fill-opacity="0.062"/>
<rect x="1075.36" y="361.46" width="3.4" height="3.4" fill-opacity="0.062"/>
<rect x="1124.44" y="319.14" width="3.4" height="3.4" fill-opacity="0.062"/>
<rect x="1124.44" y="361.46" width="3.4" height="3.4" fill-opacity="0.062"/>
<rect x="1074.53" y="319.14" width="3.4" height="3.4" fill-opacity="0.048"/>
<rect x="1074.53" y="361.46" width="3.4" height="3.4" fill-opacity="0.048"/>
<rect x="1125.27" y="319.14" width="3.4" height="3.4" fill-opacity="0.048"/>
<rect x="1125.27" y="361.46" width="3.4" height="3.4" fill-opacity="0.048"/>
<rect x="1073.7" y="319.14" width="3.4" height="3.4" fill-opacity="0.062"/>
<rect x="1073.7" y="361.46" width="3.4" height="3.4" fill-opacity="0.062"/>
<rect x="1126.1" y="319.14" width="3.4" height="3.4" fill-opacity="0.062"/>
<rect x="1126.1" y="361.46" width="3.4" height="3.4" fill-opacity="0.062"/>
<rect x="1072.87" y="319.14" width="3.4" height="3.4" fill-opacity="0.011"/>
<rect x="1072.87" y="361.46" width="3.4" height="3.4" fill-opacity="0.011"/>
<rect x="1126.93" y="319.14" width="3.4" height="3.4" fill-opacity="0.011"/>
<rect x="1126.93" y="361.46" width="3.4" height="3.4" fill-opacity="0.011"/>
<rect x="1072.04" y="319.14" width="3.4" height="3.4" fill-opacity="0.033"/>
<rect x="1072.04" y="361.46" width="3.4" height="3.4" fill-opacity="0.033"/>
<rect x="1127.76" y="319.14" width="3.4" height="3.4" fill-opacity="0.033"/>
<rect x="1127.76" y="361.46" width="3.4" height="3.4" fill-opacity="0.033"/>
<rect x="1071.21" y="319.14" width="3.4" height="3.4" fill-opacity="0.022"/>
<rect x="1071.21" y="361.46" width="3.4" height="3.4" fill-opacity="0.022"/>
<rect x="1128.59" y="319.14" width="3.4" height="3.4" fill-opacity="0.022"/>
<rect x="1128.59" y="361.46" width="3.4" height="3.4" fill-opacity="0.022"/>
<rect x="1070.38" y="319.14" width="3.4" height="3.4" fill-opacity="0.022"/>
<rect x="1070.38" y="361.46" width="3.4" height="3.4" fill-opacity="0.022"/>
<rect x="1129.42" y="319.14" width="3.4" height="3.4" fill-opacity="0.022"/>
<rect x="1129.42" y="361.46" width="3.4" height="3.4" fill-opacity="0.022"/>
<rect x="1069.55" y="319.14" width="3.4" height="3.4" fill-opacity="0.022"/>
<rect x="1069.55" y="361.46" width="3.4" height="3.4" fill-opacity="0.022"/>
<rect x="1130.25" y="319.14" width="3.4" height="3.4" fill-opacity="0.022"/>
<rect x="1130.25" y="361.46" width="3.4" height="3.4" fill-opacity="0.022"/>
<rect x="1068.72" y="319.14" width="3.4" height="3.4" fill-opacity="0.033"/>
<rect x="1068.72" y="361.46" width="3.4" height="3.4" fill-opacity="0.033"/>
<rect x="1131.08" y="319.14" width="3.4" height="3.4" fill-opacity="0.033"/>
<rect x="1131.08" y="361.46" width="3.4" height="3.4" fill-opacity="0.033"/>
<rect x="1082.83" y="319.89" width="3.4" height="3.4" fill-opacity="0.011"/>
<rect x="1082.83" y="360.71" width="3.4" height="3.4" fill-opacity="0.011"/>
<rect x="1116.97" y="319.89" width="3.4" height="3.4" fill-opacity="0.011"/>
<rect x="1116.97" y="360.71" width="3.4" height="3.4" fill-opacity="0.011"/>
<rect x="1082" y="319.89" width="3.4" height="3.4" fill-opacity="0.011"/>
<rect x="1082" y="360.71" width="3.4" height="3.4" fill-opacity="0.011"/>
<rect x="1117.8" y="319.89" width="3.4" height="3.4" fill-opacity="0.011"/>
<rect x="1117.8" y="360.71" width="3.4" height="3.4" fill-opacity="0.011"/>
<rect x="1081.17" y="319.89" width="3.4" height="3.4" fill-opacity="0.048"/>
<rect x="1081.17" y="360.71" width="3.4" height="3.4" fill-opacity="0.048"/>
<rect x="1118.63" y="319.89" width="3.4" height="3.4" fill-opacity="0.048"/>
<rect x="1118.63" y="360.71" width="3.4" height="3.4" fill-opacity="0.048"/>
<rect x="1079.51" y="319.89" width="3.4" height="3.4" fill-opacity="0.048"/>
<rect x="1079.51" y="360.71" width="3.4" height="3.4" fill-opacity="0.048"/>
<rect x="1120.29" y="319.89" width="3.4" height="3.4" fill-opacity="0.048"/>
<rect x="1120.29" y="360.71" width="3.4" height="3.4" fill-opacity="0.048"/>
<rect x="1078.68" y="319.89" width="3.4" height="3.4" fill-opacity="0.022"/>
<rect x="1078.68" y="360.71" width="3.4" height="3.4" fill-opacity="0.022"/>
<rect x="1121.12" y="319.89" width="3.4" height="3.4" fill-opacity="0.022"/>
<rect x="1121.12" y="360.71" width="3.4" height="3.4" fill-opacity="0.022"/>
<rect x="1077.85" y="319.89" width="3.4" height="3.4" fill-opacity="0.048"/>
<rect x="1077.85" y="360.71" width="3.4" height="3.4" fill-opacity="0.048"/>
<rect x="1121.95" y="319.89" width="3.4" height="3.4" fill-opacity="0.048"/>
<rect x="1121.95" y="360.71" width="3.4" height="3.4" fill-opacity="0.048"/>
<rect x="1077.02" y="319.89" width="3.4" height="3.4" fill-opacity="0.022"/>
<rect x="1077.02" y="360.71" width="3.4" height="3.4" fill-opacity="0.022"/>
<rect x="1122.78" y="319.89" width="3.4" height="3.4" fill-opacity="0.022"/>
<rect x="1122.78" y="360.71" width="3.4" height="3.4" fill-opacity="0.022"/>
<rect x="1075.36" y="319.89" width="3.4" height="3.4" fill-opacity="0.048"/>
<rect x="1075.36" y="360.71" width="3.4" height="3.4" fill-opacity="0.048"/>
<rect x="1124.44" y="319.89" width="3.4" height="3.4" fill-opacity="0.048"/>
<rect x="1124.44" y="360.71" width="3.4" height="3.4" fill-opacity="0.048"/>
<rect x="1074.53" y="319.89" width="3.4" height="3.4" fill-opacity="0.022"/>
<rect x="1074.53" y="360.71" width="3.4" height="3.4" fill-opacity="0.022"/>
<rect x="1125.27" y="319.89" width="3.4" height="3.4" fill-opacity="0.022"/>
<rect x="1125.27" y="360.71" width="3.4" height="3.4" fill-opacity="0.022"/>
<rect x="1073.7" y="319.89" width="3.4" height="3.4" fill-opacity="0.033"/>
<rect x="1073.7" y="360.71" width="3.4" height="3.4" fill-opacity="0.033"/>
<rect x="1126.1" y="319.89" width="3.4" height="3.4" fill-opacity="0.033"/>
<rect x="1126.1" y="360.71" width="3.4" height="3.4" fill-opacity="0.033"/>
<rect x="1072.87" y="319.89" width="3.4" height="3.4" fill-opacity="0.011"/>
<rect x="1072.87" y="360.71" width="3.4" height="3.4" fill-opacity="0.011"/>
<rect x="1126.93" y="319.89" width="3.4" height="3.4" fill-opacity="0.011"/>
<rect x="1126.93" y="360.71" width="3.4" height="3.4" fill-opacity="0.011"/>
<rect x="1072.04" y="319.89" width="3.4" height="3.4" fill-opacity="0.022"/>
<rect x="1072.04" y="360.71" width="3.4" height="3.4" fill-opacity="0.022"/>
<rect x="1127.76" y="319.89" width="3.4" height="3.4" fill-opacity="0.022"/>
<rect x="1127.76" y="360.71" width="3.4" height="3.4" fill-opacity="0.022"/>
<rect x="1071.21" y="319.89" width="3.4" height="3.4" fill-opacity="0.011"/>
<rect x="1071.21" y="360.71" width="3.4" height="3.4" fill-opacity="0.011"/>
<rect x="1128.59" y="319.89" width="3.4" height="3.4" fill-opacity="0.011"/>
<rect x="1128.59" y="360.71" width="3.4" height="3.4" fill-opacity="0.011"/>
<rect x="1082.83" y="320.63" width="3.4" height="3.4" fill-opacity="0.022"/>
<rect x="1082.83" y="359.97" width="3.4" height="3.4" fill-opacity="0.022"/>
<rect x="1116.97" y="320.63" width="3.4" height="3.4" fill-opacity="0.022"/>
<rect x="1116.97" y="359.97" width="3.4" height="3.4" fill-opacity="0.022"/>
<rect x="1082" y="320.63" width="3.4" height="3.4" fill-opacity="0.022"/>
<rect x="1082" y="359.97" width="3.4" height="3.4" fill-opacity="0.022"/>
<rect x="1117.8" y="320.63" width="3.4" height="3.4" fill-opacity="0.022"/>
<rect x="1117.8" y="359.97" width="3.4" height="3.4" fill-opacity="0.022"/>
<rect x="1081.17" y="320.63" width="3.4" height="3.4" fill-opacity="0.048"/>
<rect x="1081.17" y="359.97" width="3.4" height="3.4" fill-opacity="0.048"/>
<rect x="1118.63" y="320.63" width="3.4" height="3.4" fill-opacity="0.048"/>
<rect x="1118.63" y="359.97" width="3.4" height="3.4" fill-opacity="0.048"/>
<rect x="1080.34" y="320.63" width="3.4" height="3.4" fill-opacity="0.033"/>
<rect x="1080.34" y="359.97" width="3.4" height="3.4" fill-opacity="0.033"/>
<rect x="1119.46" y="320.63" width="3.4" height="3.4" fill-opacity="0.033"/>
<rect x="1119.46" y="359.97" width="3.4" height="3.4" fill-opacity="0.033"/>
<rect x="1079.51" y="320.63" width="3.4" height="3.4" fill-opacity="0.062"/>
<rect x="1079.51" y="359.97" width="3.4" height="3.4" fill-opacity="0.062"/>
<rect x="1120.29" y="320.63" width="3.4" height="3.4" fill-opacity="0.062"/>
<rect x="1120.29" y="359.97" width="3.4" height="3.4" fill-opacity="0.062"/>
<rect x="1078.68" y="320.63" width="3.4" height="3.4" fill-opacity="0.062"/>
<rect x="1078.68" y="359.97" width="3.4" height="3.4" fill-opacity="0.062"/>
<rect x="1121.12" y="320.63" width="3.4" height="3.4" fill-opacity="0.062"/>
<rect x="1121.12" y="359.97" width="3.4" height="3.4" fill-opacity="0.062"/>
<rect x="1077.85" y="320.63" width="3.4" height="3.4" fill-opacity="0.062"/>
<rect x="1077.85" y="359.97" width="3.4" height="3.4" fill-opacity="0.062"/>
<rect x="1121.95" y="320.63" width="3.4" height="3.4" fill-opacity="0.062"/>
<rect x="1121.95" y="359.97" width="3.4" height="3.4" fill-opacity="0.062"/>
<rect x="1077.02" y="320.63" width="3.4" height="3.4" fill-opacity="0.062"/>
<rect x="1077.02" y="359.97" width="3.4" height="3.4" fill-opacity="0.062"/>
<rect x="1122.78" y="320.63" width="3.4" height="3.4" fill-opacity="0.062"/>
<rect x="1122.78" y="359.97" width="3.4" height="3.4" fill-opacity="0.062"/>
<rect x="1076.19" y="320.63" width="3.4" height="3.4" fill-opacity="0.033"/>
<rect x="1076.19" y="359.97" width="3.4" height="3.4" fill-opacity="0.033"/>
<rect x="1123.61" y="320.63" width="3.4" height="3.4" fill-opacity="0.033"/>
<rect x="1123.61" y="359.97" width="3.4" height="3.4" fill-opacity="0.033"/>
<rect x="1075.36" y="320.63" width="3.4" height="3.4" fill-opacity="0.062"/>
<rect x="1075.36" y="359.97" width="3.4" height="3.4" fill-opacity="0.062"/>
<rect x="1124.44" y="320.63" width="3.4" height="3.4" fill-opacity="0.062"/>
<rect x="1124.44" y="359.97" width="3.4" height="3.4" fill-opacity="0.062"/>
<rect x="1074.53" y="320.63" width="3.4" height="3.4" fill-opacity="0.011"/>
<rect x="1074.53" y="359.97" width="3.4" height="3.4" fill-opacity="0.011"/>
<rect x="1125.27" y="320.63" width="3.4" height="3.4" fill-opacity="0.011"/>
<rect x="1125.27" y="359.97" width="3.4" height="3.4" fill-opacity="0.011"/>
<rect x="1073.7" y="320.63" width="3.4" height="3.4" fill-opacity="0.062"/>
<rect x="1073.7" y="359.97" width="3.4" height="3.4" fill-opacity="0.062"/>
<rect x="1126.1" y="320.63" width="3.4" height="3.4" fill-opacity="0.062"/>
<rect x="1126.1" y="359.97" width="3.4" height="3.4" fill-opacity="0.062"/>
<rect x="1072.87" y="320.63" width="3.4" height="3.4" fill-opacity="0.011"/>
<rect x="1072.87" y="359.97" width="3.4" height="3.4" fill-opacity="0.011"/>
<rect x="1126.93" y="320.63" width="3.4" height="3.4" fill-opacity="0.011"/>
<rect x="1126.93" y="359.97" width="3.4" height="3.4" fill-opacity="0.011"/>
<rect x="1072.04" y="320.63" width="3.4" height="3.4" fill-opacity="0.011"/>
<rect x="1072.04" y="359.97" width="3.4" height="3.4" fill-opacity="0.011"/>
<rect x="1127.76" y="320.63" width="3.4" height="3.4" fill-opacity="0.011"/>
<rect x="1127.76" y="359.97" width="3.4" height="3.4" fill-opacity="0.011"/>
<rect x="1071.21" y="320.63" width="3.4" height="3.4" fill-opacity="0.033"/>
<rect x="1071.21" y="359.97" width="3.4" height="3.4" fill-opacity="0.033"/>
<rect x="1128.59" y="320.63" width="3.4" height="3.4" fill-opacity="0.033"/>
<rect x="1128.59" y="359.97" width="3.4" height="3.4" fill-opacity="0.033"/>
<rect x="1069.55" y="320.63" width="3.4" height="3.4" fill-opacity="0.022"/>
<rect x="1069.55" y="359.97" width="3.4" height="3.4" fill-opacity="0.022"/>
<rect x="1130.25" y="320.63" width="3.4" height="3.4" fill-opacity="0.022"/>
<rect x="1130.25" y="359.97" width="3.4" height="3.4" fill-opacity="0.022"/>
<rect x="1067.89" y="320.63" width="3.4" height="3.4" fill-opacity="0.022"/>
<rect x="1067.89" y="359.97" width="3.4" height="3.4" fill-opacity="0.022"/>
<rect x="1131.91" y="320.63" width="3.4" height="3.4" fill-opacity="0.022"/>
<rect x="1131.91" y="359.97" width="3.4" height="3.4" fill-opacity="0.022"/>
<rect x="1082.83" y="321.37" width="3.4" height="3.4" fill-opacity="0.011"/>
<rect x="1082.83" y="359.23" width="3.4" height="3.4" fill-opacity="0.011"/>
<rect x="1116.97" y="321.37" width="3.4" height="3.4" fill-opacity="0.011"/>
<rect x="1116.97" y="359.23" width="3.4" height="3.4" fill-opacity="0.011"/>
<rect x="1082" y="321.37" width="3.4" height="3.4" fill-opacity="0.011"/>
<rect x="1082" y="359.23" width="3.4" height="3.4" fill-opacity="0.011"/>
<rect x="1117.8" y="321.37" width="3.4" height="3.4" fill-opacity="0.011"/>
<rect x="1117.8" y="359.23" width="3.4" height="3.4" fill-opacity="0.011"/>
<rect x="1081.17" y="321.37" width="3.4" height="3.4" fill-opacity="0.022"/>
<rect x="1081.17" y="359.23" width="3.4" height="3.4" fill-opacity="0.022"/>
<rect x="1118.63" y="321.37" width="3.4" height="3.4" fill-opacity="0.022"/>
<rect x="1118.63" y="359.23" width="3.4" height="3.4" fill-opacity="0.022"/>
<rect x="1080.34" y="321.37" width="3.4" height="3.4" fill-opacity="0.022"/>
<rect x="1080.34" y="359.23" width="3.4" height="3.4" fill-opacity="0.022"/>
<rect x="1119.46" y="321.37" width="3.4" height="3.4" fill-opacity="0.022"/>
<rect x="1119.46" y="359.23" width="3.4" height="3.4" fill-opacity="0.022"/>
<rect x="1079.51" y="321.37" width="3.4" height="3.4" fill-opacity="0.033"/>
<rect x="1079.51" y="359.23" width="3.4" height="3.4" fill-opacity="0.033"/>
<rect x="1120.29" y="321.37" width="3.4" height="3.4" fill-opacity="0.033"/>
<rect x="1120.29" y="359.23" width="3.4" height="3.4" fill-opacity="0.033"/>
<rect x="1078.68" y="321.37" width="3.4" height="3.4" fill-opacity="0.022"/>
<rect x="1078.68" y="359.23" width="3.4" height="3.4" fill-opacity="0.022"/>
<rect x="1121.12" y="321.37" width="3.4" height="3.4" fill-opacity="0.022"/>
<rect x="1121.12" y="359.23" width="3.4" height="3.4" fill-opacity="0.022"/>
<rect x="1077.85" y="321.37" width="3.4" height="3.4" fill-opacity="0.022"/>
<rect x="1077.85" y="359.23" width="3.4" height="3.4" fill-opacity="0.022"/>
<rect x="1121.95" y="321.37" width="3.4" height="3.4" fill-opacity="0.022"/>
<rect x="1121.95" y="359.23" width="3.4" height="3.4" fill-opacity="0.022"/>
<rect x="1077.02" y="321.37" width="3.4" height="3.4" fill-opacity="0.022"/>
<rect x="1077.02" y="359.23" width="3.4" height="3.4" fill-opacity="0.022"/>
<rect x="1122.78" y="321.37" width="3.4" height="3.4" fill-opacity="0.022"/>
<rect x="1122.78" y="359.23" width="3.4" height="3.4" fill-opacity="0.022"/>
<rect x="1075.36" y="321.37" width="3.4" height="3.4" fill-opacity="0.033"/>
<rect x="1075.36" y="359.23" width="3.4" height="3.4" fill-opacity="0.033"/>
<rect x="1124.44" y="321.37" width="3.4" height="3.4" fill-opacity="0.033"/>
<rect x="1124.44" y="359.23" width="3.4" height="3.4" fill-opacity="0.033"/>
<rect x="1074.53" y="321.37" width="3.4" height="3.4" fill-opacity="0.011"/>
<rect x="1074.53" y="359.23" width="3.4" height="3.4" fill-opacity="0.011"/>
<rect x="1125.27" y="321.37" width="3.4" height="3.4" fill-opacity="0.011"/>
<rect x="1125.27" y="359.23" width="3.4" height="3.4" fill-opacity="0.011"/>
<rect x="1073.7" y="321.37" width="3.4" height="3.4" fill-opacity="0.022"/>
<rect x="1073.7" y="359.23" width="3.4" height="3.4" fill-opacity="0.022"/>
<rect x="1126.1" y="321.37" width="3.4" height="3.4" fill-opacity="0.022"/>
<rect x="1126.1" y="359.23" width="3.4" height="3.4" fill-opacity="0.022"/>
<rect x="1072.87" y="321.37" width="3.4" height="3.4" fill-opacity="0.011"/>
<rect x="1072.87" y="359.23" width="3.4" height="3.4" fill-opacity="0.011"/>
<rect x="1126.93" y="321.37" width="3.4" height="3.4" fill-opacity="0.011"/>
<rect x="1126.93" y="359.23" width="3.4" height="3.4" fill-opacity="0.011"/>
<rect x="1072.04" y="321.37" width="3.4" height="3.4" fill-opacity="0.011"/>
<rect x="1072.04" y="359.23" width="3.4" height="3.4" fill-opacity="0.011"/>
<rect x="1127.76" y="321.37" width="3.4" height="3.4" fill-opacity="0.011"/>
<rect x="1127.76" y="359.23" width="3.4" height="3.4" fill-opacity="0.011"/>
<rect x="1071.21" y="321.37" width="3.4" height="3.4" fill-opacity="0.011"/>
<rect x="1071.21" y="359.23" width="3.4" height="3.4" fill-opacity="0.011"/>
<rect x="1128.59" y="321.37" width="3.4" height="3.4" fill-opacity="0.011"/>
<rect x="1128.59" y="359.23" width="3.4" height="3.4" fill-opacity="0.011"/>
<rect x="1067.89" y="321.37" width="3.4" height="3.4" fill-opacity="0.011"/>
<rect x="1067.89" y="359.23" width="3.4" height="3.4" fill-opacity="0.011"/>
<rect x="1131.91" y="321.37" width="3.4" height="3.4" fill-opacity="0.011"/>
<rect x="1131.91" y="359.23" width="3.4" height="3.4" fill-opacity="0.011"/>
<rect x="1082.83" y="322.12" width="3.4" height="3.4" fill-opacity="0.022"/>
<rect x="1082.83" y="358.48" width="3.4" height="3.4" fill-opacity="0.022"/>
<rect x="1116.97" y="322.12" width="3.4" height="3.4" fill-opacity="0.022"/>
<rect x="1116.97" y="358.48" width="3.4" height="3.4" fill-opacity="0.022"/>
<rect x="1081.17" y="322.12" width="3.4" height="3.4" fill-opacity="0.033"/>
<rect x="1081.17" y="358.48" width="3.4" height="3.4" fill-opacity="0.033"/>
<rect x="1118.63" y="322.12" width="3.4" height="3.4" fill-opacity="0.033"/>
<rect x="1118.63" y="358.48" width="3.4" height="3.4" fill-opacity="0.033"/>
<rect x="1080.34" y="322.12" width="3.4" height="3.4" fill-opacity="0.022"/>
<rect x="1080.34" y="358.48" width="3.4" height="3.4" fill-opacity="0.022"/>
<rect x="1119.46" y="322.12" width="3.4" height="3.4" fill-opacity="0.022"/>
<rect x="1119.46" y="358.48" width="3.4" height="3.4" fill-opacity="0.022"/>
<rect x="1079.51" y="322.12" width="3.4" height="3.4" fill-opacity="0.022"/>
<rect x="1079.51" y="358.48" width="3.4" height="3.4" fill-opacity="0.022"/>
<rect x="1120.29" y="322.12" width="3.4" height="3.4" fill-opacity="0.022"/>
<rect x="1120.29" y="358.48" width="3.4" height="3.4" fill-opacity="0.022"/>
<rect x="1078.68" y="322.12" width="3.4" height="3.4" fill-opacity="0.011"/>
<rect x="1078.68" y="358.48" width="3.4" height="3.4" fill-opacity="0.011"/>
<rect x="1121.12" y="322.12" width="3.4" height="3.4" fill-opacity="0.011"/>
<rect x="1121.12" y="358.48" width="3.4" height="3.4" fill-opacity="0.011"/>
<rect x="1077.85" y="322.12" width="3.4" height="3.4" fill-opacity="0.022"/>
<rect x="1077.85" y="358.48" width="3.4" height="3.4" fill-opacity="0.022"/>
<rect x="1121.95" y="322.12" width="3.4" height="3.4" fill-opacity="0.022"/>
<rect x="1121.95" y="358.48" width="3.4" height="3.4" fill-opacity="0.022"/>
<rect x="1077.02" y="322.12" width="3.4" height="3.4" fill-opacity="0.022"/>
<rect x="1077.02" y="358.48" width="3.4" height="3.4" fill-opacity="0.022"/>
<rect x="1122.78" y="322.12" width="3.4" height="3.4" fill-opacity="0.022"/>
<rect x="1122.78" y="358.48" width="3.4" height="3.4" fill-opacity="0.022"/>
<rect x="1074.53" y="322.12" width="3.4" height="3.4" fill-opacity="0.011"/>
<rect x="1074.53" y="358.48" width="3.4" height="3.4" fill-opacity="0.011"/>
<rect x="1125.27" y="322.12" width="3.4" height="3.4" fill-opacity="0.011"/>
<rect x="1125.27" y="358.48" width="3.4" height="3.4" fill-opacity="0.011"/>
<rect x="1073.7" y="322.12" width="3.4" height="3.4" fill-opacity="0.033"/>
<rect x="1073.7" y="358.48" width="3.4" height="3.4" fill-opacity="0.033"/>
<rect x="1126.1" y="322.12" width="3.4" height="3.4" fill-opacity="0.033"/>
<rect x="1126.1" y="358.48" width="3.4" height="3.4" fill-opacity="0.033"/>
<rect x="1070.38" y="322.12" width="3.4" height="3.4" fill-opacity="0.011"/>
<rect x="1070.38" y="358.48" width="3.4" height="3.4" fill-opacity="0.011"/>
<rect x="1129.42" y="322.12" width="3.4" height="3.4" fill-opacity="0.011"/>
<rect x="1129.42" y="358.48" width="3.4" height="3.4" fill-opacity="0.011"/>
<rect x="1084.49" y="322.86" width="3.4" height="3.4" fill-opacity="0.022"/>
<rect x="1084.49" y="357.74" width="3.4" height="3.4" fill-opacity="0.022"/>
<rect x="1115.31" y="322.86" width="3.4" height="3.4" fill-opacity="0.022"/>
<rect x="1115.31" y="357.74" width="3.4" height="3.4" fill-opacity="0.022"/>
<rect x="1083.66" y="322.86" width="3.4" height="3.4" fill-opacity="0.011"/>
<rect x="1083.66" y="357.74" width="3.4" height="3.4" fill-opacity="0.011"/>
<rect x="1116.14" y="322.86" width="3.4" height="3.4" fill-opacity="0.011"/>
<rect x="1116.14" y="357.74" width="3.4" height="3.4" fill-opacity="0.011"/>
<rect x="1082.83" y="322.86" width="3.4" height="3.4" fill-opacity="0.062"/>
<rect x="1082.83" y="357.74" width="3.4" height="3.4" fill-opacity="0.062"/>
<rect x="1116.97" y="322.86" width="3.4" height="3.4" fill-opacity="0.062"/>
<rect x="1116.97" y="357.74" width="3.4" height="3.4" fill-opacity="0.062"/>
<rect x="1082" y="322.86" width="3.4" height="3.4" fill-opacity="0.022"/>
<rect x="1082" y="357.74" width="3.4" height="3.4" fill-opacity="0.022"/>
<rect x="1117.8" y="322.86" width="3.4" height="3.4" fill-opacity="0.022"/>
<rect x="1117.8" y="357.74" width="3.4" height="3.4" fill-opacity="0.022"/>
<rect x="1081.17" y="322.86" width="3.4" height="3.4" fill-opacity="0.033"/>
<rect x="1081.17" y="357.74" width="3.4" height="3.4" fill-opacity="0.033"/>
<rect x="1118.63" y="322.86" width="3.4" height="3.4" fill-opacity="0.033"/>
<rect x="1118.63" y="357.74" width="3.4" height="3.4" fill-opacity="0.033"/>
<rect x="1080.34" y="322.86" width="3.4" height="3.4" fill-opacity="0.048"/>
<rect x="1080.34" y="357.74" width="3.4" height="3.4" fill-opacity="0.048"/>
<rect x="1119.46" y="322.86" width="3.4" height="3.4" fill-opacity="0.048"/>
<rect x="1119.46" y="357.74" width="3.4" height="3.4" fill-opacity="0.048"/>
<rect x="1079.51" y="322.86" width="3.4" height="3.4" fill-opacity="0.048"/>
<rect x="1079.51" y="357.74" width="3.4" height="3.4" fill-opacity="0.048"/>
<rect x="1120.29" y="322.86" width="3.4" height="3.4" fill-opacity="0.048"/>
<rect x="1120.29" y="357.74" width="3.4" height="3.4" fill-opacity="0.048"/>
<rect x="1078.68" y="322.86" width="3.4" height="3.4" fill-opacity="0.048"/>
<rect x="1078.68" y="357.74" width="3.4" height="3.4" fill-opacity="0.048"/>
<rect x="1121.12" y="322.86" width="3.4" height="3.4" fill-opacity="0.048"/>
<rect x="1121.12" y="357.74" width="3.4" height="3.4" fill-opacity="0.048"/>
<rect x="1077.85" y="322.86" width="3.4" height="3.4" fill-opacity="0.022"/>
<rect x="1077.85" y="357.74" width="3.4" height="3.4" fill-opacity="0.022"/>
<rect x="1121.95" y="322.86" width="3.4" height="3.4" fill-opacity="0.022"/>
<rect x="1121.95" y="357.74" width="3.4" height="3.4" fill-opacity="0.022"/>
<rect x="1077.02" y="322.86" width="3.4" height="3.4" fill-opacity="0.062"/>
<rect x="1077.02" y="357.74" width="3.4" height="3.4" fill-opacity="0.062"/>
<rect x="1122.78" y="322.86" width="3.4" height="3.4" fill-opacity="0.062"/>
<rect x="1122.78" y="357.74" width="3.4" height="3.4" fill-opacity="0.062"/>
<rect x="1076.19" y="322.86" width="3.4" height="3.4" fill-opacity="0.022"/>
<rect x="1076.19" y="357.74" width="3.4" height="3.4" fill-opacity="0.022"/>
<rect x="1123.61" y="322.86" width="3.4" height="3.4" fill-opacity="0.022"/>
<rect x="1123.61" y="357.74" width="3.4" height="3.4" fill-opacity="0.022"/>
<rect x="1075.36" y="322.86" width="3.4" height="3.4" fill-opacity="0.022"/>
<rect x="1075.36" y="357.74" width="3.4" height="3.4" fill-opacity="0.022"/>
<rect x="1124.44" y="322.86" width="3.4" height="3.4" fill-opacity="0.022"/>
<rect x="1124.44" y="357.74" width="3.4" height="3.4" fill-opacity="0.022"/>
<rect x="1074.53" y="322.86" width="3.4" height="3.4" fill-opacity="0.011"/>
<rect x="1074.53" y="357.74" width="3.4" height="3.4" fill-opacity="0.011"/>
<rect x="1125.27" y="322.86" width="3.4" height="3.4" fill-opacity="0.011"/>
<rect x="1125.27" y="357.74" width="3.4" height="3.4" fill-opacity="0.011"/>
<rect x="1073.7" y="322.86" width="3.4" height="3.4" fill-opacity="0.048"/>
<rect x="1073.7" y="357.74" width="3.4" height="3.4" fill-opacity="0.048"/>
<rect x="1126.1" y="322.86" width="3.4" height="3.4" fill-opacity="0.048"/>
<rect x="1126.1" y="357.74" width="3.4" height="3.4" fill-opacity="0.048"/>
<rect x="1072.04" y="322.86" width="3.4" height="3.4" fill-opacity="0.011"/>
<rect x="1072.04" y="357.74" width="3.4" height="3.4" fill-opacity="0.011"/>
<rect x="1127.76" y="322.86" width="3.4" height="3.4" fill-opacity="0.011"/>
<rect x="1127.76" y="357.74" width="3.4" height="3.4" fill-opacity="0.011"/>
<rect x="1071.21" y="322.86" width="3.4" height="3.4" fill-opacity="0.022"/>
<rect x="1071.21" y="357.74" width="3.4" height="3.4" fill-opacity="0.022"/>
<rect x="1128.59" y="322.86" width="3.4" height="3.4" fill-opacity="0.022"/>
<rect x="1128.59" y="357.74" width="3.4" height="3.4" fill-opacity="0.022"/>
<rect x="1067.89" y="322.86" width="3.4" height="3.4" fill-opacity="0.011"/>
<rect x="1067.89" y="357.74" width="3.4" height="3.4" fill-opacity="0.011"/>
<rect x="1131.91" y="322.86" width="3.4" height="3.4" fill-opacity="0.011"/>
<rect x="1131.91" y="357.74" width="3.4" height="3.4" fill-opacity="0.011"/>
<rect x="1082.83" y="323.61" width="3.4" height="3.4" fill-opacity="0.011"/>
<rect x="1082.83" y="356.99" width="3.4" height="3.4" fill-opacity="0.011"/>
<rect x="1116.97" y="323.61" width="3.4" height="3.4" fill-opacity="0.011"/>
<rect x="1116.97" y="356.99" width="3.4" height="3.4" fill-opacity="0.011"/>
<rect x="1081.17" y="323.61" width="3.4" height="3.4" fill-opacity="0.022"/>
<rect x="1081.17" y="356.99" width="3.4" height="3.4" fill-opacity="0.022"/>
<rect x="1118.63" y="323.61" width="3.4" height="3.4" fill-opacity="0.022"/>
<rect x="1118.63" y="356.99" width="3.4" height="3.4" fill-opacity="0.022"/>
<rect x="1080.34" y="323.61" width="3.4" height="3.4" fill-opacity="0.011"/>
<rect x="1080.34" y="356.99" width="3.4" height="3.4" fill-opacity="0.011"/>
<rect x="1119.46" y="323.61" width="3.4" height="3.4" fill-opacity="0.011"/>
<rect x="1119.46" y="356.99" width="3.4" height="3.4" fill-opacity="0.011"/>
<rect x="1079.51" y="323.61" width="3.4" height="3.4" fill-opacity="0.011"/>
<rect x="1079.51" y="356.99" width="3.4" height="3.4" fill-opacity="0.011"/>
<rect x="1120.29" y="323.61" width="3.4" height="3.4" fill-opacity="0.011"/>
<rect x="1120.29" y="356.99" width="3.4" height="3.4" fill-opacity="0.011"/>
<rect x="1078.68" y="323.61" width="3.4" height="3.4" fill-opacity="0.011"/>
<rect x="1078.68" y="356.99" width="3.4" height="3.4" fill-opacity="0.011"/>
<rect x="1121.12" y="323.61" width="3.4" height="3.4" fill-opacity="0.011"/>
<rect x="1121.12" y="356.99" width="3.4" height="3.4" fill-opacity="0.011"/>
<rect x="1077.85" y="323.61" width="3.4" height="3.4" fill-opacity="0.011"/>
<rect x="1077.85" y="356.99" width="3.4" height="3.4" fill-opacity="0.011"/>
<rect x="1121.95" y="323.61" width="3.4" height="3.4" fill-opacity="0.011"/>
<rect x="1121.95" y="356.99" width="3.4" height="3.4" fill-opacity="0.011"/>
<rect x="1077.02" y="323.61" width="3.4" height="3.4" fill-opacity="0.011"/>
<rect x="1077.02" y="356.99" width="3.4" height="3.4" fill-opacity="0.011"/>
<rect x="1122.78" y="323.61" width="3.4" height="3.4" fill-opacity="0.011"/>
<rect x="1122.78" y="356.99" width="3.4" height="3.4" fill-opacity="0.011"/>
<rect x="1073.7" y="323.61" width="3.4" height="3.4" fill-opacity="0.022"/>
<rect x="1073.7" y="356.99" width="3.4" height="3.4" fill-opacity="0.022"/>
<rect x="1126.1" y="323.61" width="3.4" height="3.4" fill-opacity="0.022"/>
<rect x="1126.1" y="356.99" width="3.4" height="3.4" fill-opacity="0.022"/>
<rect x="1082.83" y="324.35" width="3.4" height="3.4" fill-opacity="0.022"/>
<rect x="1082.83" y="356.25" width="3.4" height="3.4" fill-opacity="0.022"/>
<rect x="1116.97" y="324.35" width="3.4" height="3.4" fill-opacity="0.022"/>
<rect x="1116.97" y="356.25" width="3.4" height="3.4" fill-opacity="0.022"/>
<rect x="1081.17" y="324.35" width="3.4" height="3.4" fill-opacity="0.022"/>
<rect x="1081.17" y="356.25" width="3.4" height="3.4" fill-opacity="0.022"/>
<rect x="1118.63" y="324.35" width="3.4" height="3.4" fill-opacity="0.022"/>
<rect x="1118.63" y="356.25" width="3.4" height="3.4" fill-opacity="0.022"/>
<rect x="1080.34" y="324.35" width="3.4" height="3.4" fill-opacity="0.011"/>
<rect x="1080.34" y="356.25" width="3.4" height="3.4" fill-opacity="0.011"/>
<rect x="1119.46" y="324.35" width="3.4" height="3.4" fill-opacity="0.011"/>
<rect x="1119.46" y="356.25" width="3.4" height="3.4" fill-opacity="0.011"/>
<rect x="1079.51" y="324.35" width="3.4" height="3.4" fill-opacity="0.011"/>
<rect x="1079.51" y="356.25" width="3.4" height="3.4" fill-opacity="0.011"/>
<rect x="1120.29" y="324.35" width="3.4" height="3.4" fill-opacity="0.011"/>
<rect x="1120.29" y="356.25" width="3.4" height="3.4" fill-opacity="0.011"/>
<rect x="1078.68" y="324.35" width="3.4" height="3.4" fill-opacity="0.033"/>
<rect x="1078.68" y="356.25" width="3.4" height="3.4" fill-opacity="0.033"/>
<rect x="1121.12" y="324.35" width="3.4" height="3.4" fill-opacity="0.033"/>
<rect x="1121.12" y="356.25" width="3.4" height="3.4" fill-opacity="0.033"/>
<rect x="1077.02" y="324.35" width="3.4" height="3.4" fill-opacity="0.048"/>
<rect x="1077.02" y="356.25" width="3.4" height="3.4" fill-opacity="0.048"/>
<rect x="1122.78" y="324.35" width="3.4" height="3.4" fill-opacity="0.048"/>
<rect x="1122.78" y="356.25" width="3.4" height="3.4" fill-opacity="0.048"/>
<rect x="1075.36" y="324.35" width="3.4" height="3.4" fill-opacity="0.022"/>
<rect x="1075.36" y="356.25" width="3.4" height="3.4" fill-opacity="0.022"/>
<rect x="1124.44" y="324.35" width="3.4" height="3.4" fill-opacity="0.022"/>
<rect x="1124.44" y="356.25" width="3.4" height="3.4" fill-opacity="0.022"/>
<rect x="1074.53" y="324.35" width="3.4" height="3.4" fill-opacity="0.022"/>
<rect x="1074.53" y="356.25" width="3.4" height="3.4" fill-opacity="0.022"/>
<rect x="1125.27" y="324.35" width="3.4" height="3.4" fill-opacity="0.022"/>
<rect x="1125.27" y="356.25" width="3.4" height="3.4" fill-opacity="0.022"/>
<rect x="1073.7" y="324.35" width="3.4" height="3.4" fill-opacity="0.033"/>
<rect x="1073.7" y="356.25" width="3.4" height="3.4" fill-opacity="0.033"/>
<rect x="1126.1" y="324.35" width="3.4" height="3.4" fill-opacity="0.033"/>
<rect x="1126.1" y="356.25" width="3.4" height="3.4" fill-opacity="0.033"/>
<rect x="1071.21" y="324.35" width="3.4" height="3.4" fill-opacity="0.011"/>
<rect x="1071.21" y="356.25" width="3.4" height="3.4" fill-opacity="0.011"/>
<rect x="1128.59" y="324.35" width="3.4" height="3.4" fill-opacity="0.011"/>
<rect x="1128.59" y="356.25" width="3.4" height="3.4" fill-opacity="0.011"/>
<rect x="1082.83" y="325.09" width="3.4" height="3.4" fill-opacity="0.011"/>
<rect x="1082.83" y="355.51" width="3.4" height="3.4" fill-opacity="0.011"/>
<rect x="1116.97" y="325.09" width="3.4" height="3.4" fill-opacity="0.011"/>
<rect x="1116.97" y="355.51" width="3.4" height="3.4" fill-opacity="0.011"/>
<rect x="1081.17" y="325.09" width="3.4" height="3.4" fill-opacity="0.033"/>
<rect x="1081.17" y="355.51" width="3.4" height="3.4" fill-opacity="0.033"/>
<rect x="1118.63" y="325.09" width="3.4" height="3.4" fill-opacity="0.033"/>
<rect x="1118.63" y="355.51" width="3.4" height="3.4" fill-opacity="0.033"/>
<rect x="1080.34" y="325.09" width="3.4" height="3.4" fill-opacity="0.011"/>
<rect x="1080.34" y="355.51" width="3.4" height="3.4" fill-opacity="0.011"/>
<rect x="1119.46" y="325.09" width="3.4" height="3.4" fill-opacity="0.011"/>
<rect x="1119.46" y="355.51" width="3.4" height="3.4" fill-opacity="0.011"/>
<rect x="1079.51" y="325.09" width="3.4" height="3.4" fill-opacity="0.011"/>
<rect x="1079.51" y="355.51" width="3.4" height="3.4" fill-opacity="0.011"/>
<rect x="1120.29" y="325.09" width="3.4" height="3.4" fill-opacity="0.011"/>
<rect x="1120.29" y="355.51" width="3.4" height="3.4" fill-opacity="0.011"/>
<rect x="1078.68" y="325.09" width="3.4" height="3.4" fill-opacity="0.011"/>
<rect x="1078.68" y="355.51" width="3.4" height="3.4" fill-opacity="0.011"/>
<rect x="1121.12" y="325.09" width="3.4" height="3.4" fill-opacity="0.011"/>
<rect x="1121.12" y="355.51" width="3.4" height="3.4" fill-opacity="0.011"/>
<rect x="1077.02" y="325.09" width="3.4" height="3.4" fill-opacity="0.011"/>
<rect x="1077.02" y="355.51" width="3.4" height="3.4" fill-opacity="0.011"/>
<rect x="1122.78" y="325.09" width="3.4" height="3.4" fill-opacity="0.011"/>
<rect x="1122.78" y="355.51" width="3.4" height="3.4" fill-opacity="0.011"/>
<rect x="1084.49" y="325.84" width="3.4" height="3.4" fill-opacity="0.011"/>
<rect x="1084.49" y="354.76" width="3.4" height="3.4" fill-opacity="0.011"/>
<rect x="1115.31" y="325.84" width="3.4" height="3.4" fill-opacity="0.011"/>
<rect x="1115.31" y="354.76" width="3.4" height="3.4" fill-opacity="0.011"/>
<rect x="1083.66" y="325.84" width="3.4" height="3.4" fill-opacity="0.011"/>
<rect x="1083.66" y="354.76" width="3.4" height="3.4" fill-opacity="0.011"/>
<rect x="1116.14" y="325.84" width="3.4" height="3.4" fill-opacity="0.011"/>
<rect x="1116.14" y="354.76" width="3.4" height="3.4" fill-opacity="0.011"/>
<rect x="1082.83" y="325.84" width="3.4" height="3.4" fill-opacity="0.022"/>
<rect x="1082.83" y="354.76" width="3.4" height="3.4" fill-opacity="0.022"/>
<rect x="1116.97" y="325.84" width="3.4" height="3.4" fill-opacity="0.022"/>
<rect x="1116.97" y="354.76" width="3.4" height="3.4" fill-opacity="0.022"/>
<rect x="1081.17" y="325.84" width="3.4" height="3.4" fill-opacity="0.033"/>
<rect x="1081.17" y="354.76" width="3.4" height="3.4" fill-opacity="0.033"/>
<rect x="1118.63" y="325.84" width="3.4" height="3.4" fill-opacity="0.033"/>
<rect x="1118.63" y="354.76" width="3.4" height="3.4" fill-opacity="0.033"/>
<rect x="1079.51" y="325.84" width="3.4" height="3.4" fill-opacity="0.022"/>
<rect x="1079.51" y="354.76" width="3.4" height="3.4" fill-opacity="0.022"/>
<rect x="1120.29" y="325.84" width="3.4" height="3.4" fill-opacity="0.022"/>
<rect x="1120.29" y="354.76" width="3.4" height="3.4" fill-opacity="0.022"/>
<rect x="1078.68" y="325.84" width="3.4" height="3.4" fill-opacity="0.022"/>
<rect x="1078.68" y="354.76" width="3.4" height="3.4" fill-opacity="0.022"/>
<rect x="1121.12" y="325.84" width="3.4" height="3.4" fill-opacity="0.022"/>
<rect x="1121.12" y="354.76" width="3.4" height="3.4" fill-opacity="0.022"/>
<rect x="1077.02" y="325.84" width="3.4" height="3.4" fill-opacity="0.011"/>
<rect x="1077.02" y="354.76" width="3.4" height="3.4" fill-opacity="0.011"/>
<rect x="1122.78" y="325.84" width="3.4" height="3.4" fill-opacity="0.011"/>
<rect x="1122.78" y="354.76" width="3.4" height="3.4" fill-opacity="0.011"/>
<rect x="1074.53" y="325.84" width="3.4" height="3.4" fill-opacity="0.022"/>
<rect x="1074.53" y="354.76" width="3.4" height="3.4" fill-opacity="0.022"/>
<rect x="1125.27" y="325.84" width="3.4" height="3.4" fill-opacity="0.022"/>
<rect x="1125.27" y="354.76" width="3.4" height="3.4" fill-opacity="0.022"/>
<rect x="1073.7" y="325.84" width="3.4" height="3.4" fill-opacity="0.011"/>
<rect x="1073.7" y="354.76" width="3.4" height="3.4" fill-opacity="0.011"/>
<rect x="1126.1" y="325.84" width="3.4" height="3.4" fill-opacity="0.011"/>
<rect x="1126.1" y="354.76" width="3.4" height="3.4" fill-opacity="0.011"/>
<rect x="1082.83" y="326.58" width="3.4" height="3.4" fill-opacity="0.011"/>
<rect x="1082.83" y="354.02" width="3.4" height="3.4" fill-opacity="0.011"/>
<rect x="1116.97" y="326.58" width="3.4" height="3.4" fill-opacity="0.011"/>
<rect x="1116.97" y="354.02" width="3.4" height="3.4" fill-opacity="0.011"/>
<rect x="1082" y="326.58" width="3.4" height="3.4" fill-opacity="0.011"/>
<rect x="1082" y="354.02" width="3.4" height="3.4" fill-opacity="0.011"/>
<rect x="1117.8" y="326.58" width="3.4" height="3.4" fill-opacity="0.011"/>
<rect x="1117.8" y="354.02" width="3.4" height="3.4" fill-opacity="0.011"/>
<rect x="1081.17" y="326.58" width="3.4" height="3.4" fill-opacity="0.011"/>
<rect x="1081.17" y="354.02" width="3.4" height="3.4" fill-opacity="0.011"/>
<rect x="1118.63" y="326.58" width="3.4" height="3.4" fill-opacity="0.011"/>
<rect x="1118.63" y="354.02" width="3.4" height="3.4" fill-opacity="0.011"/>
<rect x="1082" y="327.32" width="3.4" height="3.4" fill-opacity="0.011"/>
<rect x="1082" y="353.28" width="3.4" height="3.4" fill-opacity="0.011"/>
<rect x="1117.8" y="327.32" width="3.4" height="3.4" fill-opacity="0.011"/>
<rect x="1117.8" y="353.28" width="3.4" height="3.4" fill-opacity="0.011"/>
<rect x="1086.98" y="328.07" width="3.4" height="3.4" fill-opacity="0.011"/>
<rect x="1086.98" y="352.53" width="3.4" height="3.4" fill-opacity="0.011"/>
<rect x="1112.82" y="328.07" width="3.4" height="3.4" fill-opacity="0.011"/>
<rect x="1112.82" y="352.53" width="3.4" height="3.4" fill-opacity="0.011"/>
<rect x="1084.49" y="328.07" width="3.4" height="3.4" fill-opacity="0.011"/>
<rect x="1084.49" y="352.53" width="3.4" height="3.4" fill-opacity="0.011"/>
<rect x="1115.31" y="328.07" width="3.4" height="3.4" fill-opacity="0.011"/>
<rect x="1115.31" y="352.53" width="3.4" height="3.4" fill-opacity="0.011"/>
<rect x="1082.83" y="328.07" width="3.4" height="3.4" fill-opacity="0.011"/>
<rect x="1082.83" y="352.53" width="3.4" height="3.4" fill-opacity="0.011"/>
<rect x="1116.97" y="328.07" width="3.4" height="3.4" fill-opacity="0.011"/>
<rect x="1116.97" y="352.53" width="3.4" height="3.4" fill-opacity="0.011"/>
<rect x="1099.44" y="339.97" width="3.4" height="3.4" fill-opacity="0.011"/>
<rect x="1099.44" y="340.63" width="3.4" height="3.4" fill-opacity="0.011"/>
<rect x="1100.36" y="339.97" width="3.4" height="3.4" fill-opacity="0.011"/>
<rect x="1100.36" y="340.63" width="3.4" height="3.4" fill-opacity="0.011"/>
</g>
<g>
<rect x="159.9" y="812.7" width="10.6" height="11.75" fill="#33a5f5"/>
<rect x="170.2" y="812.7" width="10.6" height="11.75" fill="#7db7f3"/>
<rect x="201.1" y="812.7" width="10.6" height="11.75" fill="#7db7f3"/>
<rect x="242.3" y="812.7" width="10.6" height="11.75" fill="#33a5f5"/>
<rect x="262.9" y="812.7" width="10.6" height="11.75" fill="#7db7f3"/>
<rect x="396.8" y="812.7" width="10.6" height="11.75" fill="#7db7f3"/>
<rect x="438" y="812.7" width="10.6" height="11.75" fill="#7db7f3"/>
<rect x="458.6" y="812.7" width="10.6" height="11.75" fill="#7db7f3"/>
<rect x="510.1" y="812.7" width="10.6" height="11.75" fill="#7db7f3"/>
<rect x="149.6" y="824.15" width="10.6" height="11.75" fill="#7db7f3"/>
<rect x="159.9" y="824.15" width="10.6" height="11.75" fill="#33a5f5"/>
<rect x="180.5" y="824.15" width="10.6" height="11.75" fill="#7db7f3"/>
<rect x="211.4" y="824.15" width="31.2" height="11.75" fill="#7db7f3"/>
<rect x="273.2" y="824.15" width="10.6" height="11.75" fill="#7db7f3"/>
<rect x="376.2" y="824.15" width="10.6" height="11.75" fill="#7db7f3"/>
<rect x="427.7" y="824.15" width="10.6" height="11.75" fill="#7db7f3"/>
<rect x="530.7" y="824.15" width="10.6" height="11.75" fill="#7db7f3"/>
<rect x="633.7" y="824.15" width="10.6" height="11.75" fill="#7db7f3"/>
<rect x="159.9" y="835.59" width="10.6" height="11.75" fill="#7db7f3"/>
<rect x="190.8" y="835.59" width="10.6" height="11.75" fill="#7db7f3"/>
<rect x="221.7" y="835.59" width="10.6" height="11.75" fill="#7db7f3"/>
<rect x="314.4" y="835.59" width="10.6" height="11.75" fill="#7db7f3"/>
<rect x="376.2" y="835.59" width="20.9" height="11.75" fill="#7db7f3"/>
<rect x="407.1" y="835.59" width="10.6" height="11.75" fill="#7db7f3"/>
<rect x="499.8" y="835.59" width="10.6" height="11.75" fill="#7db7f3"/>
<rect x="561.6" y="835.59" width="10.6" height="11.75" fill="#7db7f3"/>
<rect x="592.5" y="835.59" width="10.6" height="11.75" fill="#7db7f3"/>
<rect x="159.9" y="847.04" width="10.6" height="11.75" fill="#7db7f3"/>
<rect x="201.1" y="847.04" width="10.6" height="11.75" fill="#7db7f3"/>
<rect x="252.6" y="847.04" width="10.6" height="11.75" fill="#7db7f3"/>
<rect x="273.2" y="847.04" width="10.6" height="11.75" fill="#7db7f3"/>
<rect x="355.6" y="847.04" width="10.6" height="11.75" fill="#7db7f3"/>
<rect x="407.1" y="847.04" width="10.6" height="11.75" fill="#7db7f3"/>
<rect x="427.7" y="847.04" width="10.6" height="11.75" fill="#33a5f5"/>
<rect x="458.6" y="847.04" width="10.6" height="11.75" fill="#7db7f3"/>
<rect x="499.8" y="847.04" width="10.6" height="11.75" fill="#2a90d8"/>
<rect x="510.1" y="847.04" width="10.6" height="11.75" fill="#33a5f5"/>
<rect x="170.2" y="858.49" width="10.6" height="11.75" fill="#7db7f3"/>
<rect x="211.4" y="858.49" width="10.6" height="11.75" fill="#7db7f3"/>
<rect x="252.6" y="858.49" width="10.6" height="11.75" fill="#7db7f3"/>
<rect x="407.1" y="858.49" width="10.6" height="11.75" fill="#7db7f3"/>
<rect x="180.5" y="869.94" width="10.6" height="11.75" fill="#7db7f3"/>
<rect x="211.4" y="869.94" width="20.9" height="11.75" fill="#7db7f3"/>
<rect x="242.3" y="869.94" width="10.6" height="11.75" fill="#33a5f5"/>
<rect x="427.7" y="869.94" width="10.6" height="11.75" fill="#7db7f3"/>
<rect x="448.3" y="869.94" width="31.2" height="11.75" fill="#7db7f3"/>
<rect x="541" y="869.94" width="10.6" height="11.75" fill="#7db7f3"/>
<rect x="190.8" y="881.38" width="10.6" height="11.75" fill="#7db7f3"/>
<rect x="262.9" y="881.38" width="10.6" height="11.75" fill="#7db7f3"/>
<rect x="304.1" y="881.38" width="20.9" height="11.75" fill="#7db7f3"/>
<rect x="386.5" y="881.38" width="10.6" height="11.75" fill="#7db7f3"/>
<rect x="448.3" y="881.38" width="10.6" height="11.75" fill="#7db7f3"/>
<rect x="489.5" y="881.38" width="10.6" height="11.75" fill="#7db7f3"/>
<rect x="170.2" y="892.83" width="20.9" height="11.75" fill="#7db7f3"/>
<rect x="262.9" y="892.83" width="10.6" height="11.75" fill="#7db7f3"/>
<rect x="386.5" y="892.83" width="10.6" height="11.75" fill="#33a5f5"/>
<rect x="510.1" y="892.83" width="10.6" height="11.75" fill="#7db7f3"/>
<rect x="561.6" y="892.83" width="20.9" height="11.75" fill="#7db7f3"/>
<rect x="633.7" y="892.83" width="10.6" height="11.75" fill="#7db7f3"/>
<rect x="159.9" y="904.28" width="10.6" height="11.75" fill="#7db7f3"/>
<rect x="232" y="904.28" width="10.6" height="11.75" fill="#7db7f3"/>
<rect x="345.3" y="904.28" width="20.9" height="11.75" fill="#7db7f3"/>
<rect x="427.7" y="904.28" width="10.6" height="11.75" fill="#33a5f5"/>
<rect x="149.6" y="915.72" width="31.2" height="11.75" fill="#7db7f3"/>
<rect x="262.9" y="915.72" width="10.6" height="11.75" fill="#7db7f3"/>
<rect x="283.5" y="915.72" width="10.6" height="11.75" fill="#7db7f3"/>
<rect x="407.1" y="915.72" width="10.6" height="11.75" fill="#33a5f5"/>
<rect x="510.1" y="915.72" width="20.9" height="11.75" fill="#7db7f3"/>
<rect x="644" y="915.72" width="10.6" height="11.75" fill="#7db7f3"/>
<rect x="159.9" y="927.17" width="10.6" height="11.75" fill="#7db7f3"/>
<rect x="170.2" y="927.17" width="10.6" height="11.75" fill="#33a5f5"/>
<rect x="190.8" y="927.17" width="10.6" height="11.75" fill="#7db7f3"/>
<rect x="273.2" y="927.17" width="10.6" height="11.75" fill="#7db7f3"/>
<rect x="376.2" y="927.17" width="10.6" height="11.75" fill="#33a5f5"/>
<rect x="417.4" y="927.17" width="20.9" height="11.75" fill="#7db7f3"/>
<rect x="530.7" y="927.17" width="10.6" height="11.75" fill="#7db7f3"/>
<rect x="170.2" y="938.62" width="10.6" height="11.75" fill="#7db7f3"/>
<rect x="190.8" y="938.62" width="10.6" height="11.75" fill="#7db7f3"/>
<rect x="345.3" y="938.62" width="10.6" height="11.75" fill="#7db7f3"/>
<rect x="438" y="938.62" width="20.9" height="11.75" fill="#7db7f3"/>
<rect x="520.4" y="938.62" width="10.6" height="11.75" fill="#33a5f5"/>
<rect x="654.3" y="938.62" width="10.6" height="11.75" fill="#7db7f3"/>
<rect x="159.9" y="950.06" width="10.6" height="11.75" fill="#7db7f3"/>
<rect x="201.1" y="950.06" width="10.6" height="11.75" fill="#33a5f5"/>
<rect x="211.4" y="950.06" width="10.6" height="11.75" fill="#7db7f3"/>
<rect x="242.3" y="950.06" width="10.6" height="11.75" fill="#7db7f3"/>
<rect x="355.6" y="950.06" width="10.6" height="11.75" fill="#33a5f5"/>
<rect x="386.5" y="950.06" width="20.9" height="11.75" fill="#7db7f3"/>
<rect x="407.1" y="950.06" width="10.6" height="11.75" fill="#33a5f5"/>
<rect x="561.6" y="950.06" width="10.6" height="11.75" fill="#7db7f3"/>
<rect x="582.2" y="950.06" width="10.6" height="11.75" fill="#33a5f5"/>
<rect x="592.5" y="950.06" width="10.6" height="11.75" fill="#7db7f3"/>
<rect x="623.4" y="950.06" width="10.6" height="11.75" fill="#7db7f3"/>
<rect x="654.3" y="950.06" width="10.6" height="11.75" fill="#7db7f3"/>
<rect x="170.2" y="961.51" width="10.6" height="11.75" fill="#7db7f3"/>
<rect x="283.5" y="961.51" width="10.6" height="11.75" fill="#7db7f3"/>
<rect x="304.1" y="961.51" width="10.6" height="11.75" fill="#7db7f3"/>
<rect x="355.6" y="961.51" width="20.9" height="11.75" fill="#7db7f3"/>
<rect x="386.5" y="961.51" width="20.9" height="11.75" fill="#7db7f3"/>
<rect x="427.7" y="961.51" width="10.6" height="11.75" fill="#33a5f5"/>
<rect x="438" y="961.51" width="20.9" height="11.75" fill="#7db7f3"/>
<rect x="499.8" y="961.51" width="10.6" height="11.75" fill="#7db7f3"/>
<rect x="561.6" y="961.51" width="10.6" height="11.75" fill="#7db7f3"/>
<rect x="592.5" y="961.51" width="10.6" height="11.75" fill="#7db7f3"/>
<rect x="613.1" y="961.51" width="20.9" height="11.75" fill="#7db7f3"/>
<rect x="644" y="961.51" width="10.6" height="11.75" fill="#7db7f3"/>
<rect x="159.9" y="972.96" width="10.6" height="11.75" fill="#33a5f5"/>
<rect x="180.5" y="972.96" width="31.2" height="11.75" fill="#7db7f3"/>
<rect x="273.2" y="972.96" width="10.6" height="11.75" fill="#7db7f3"/>
<rect x="304.1" y="972.96" width="10.6" height="11.75" fill="#7db7f3"/>
<rect x="345.3" y="972.96" width="10.6" height="11.75" fill="#33a5f5"/>
<rect x="355.6" y="972.96" width="31.2" height="11.75" fill="#7db7f3"/>
<rect x="407.1" y="972.96" width="10.6" height="11.75" fill="#7db7f3"/>
<rect x="448.3" y="972.96" width="10.6" height="11.75" fill="#7db7f3"/>
<rect x="489.5" y="972.96" width="10.6" height="11.75" fill="#33a5f5"/>
<rect x="510.1" y="972.96" width="10.6" height="11.75" fill="#7db7f3"/>
<rect x="592.5" y="972.96" width="10.6" height="11.75" fill="#7db7f3"/>
<rect x="654.3" y="972.96" width="10.6" height="11.75" fill="#7db7f3"/>
<rect x="170.2" y="984.4" width="10.6" height="11.75" fill="#7db7f3"/>
<rect x="232" y="984.4" width="10.6" height="11.75" fill="#7db7f3"/>
<rect x="293.8" y="984.4" width="10.6" height="11.75" fill="#7db7f3"/>
<rect x="314.4" y="984.4" width="10.6" height="11.75" fill="#7db7f3"/>
<rect x="324.7" y="984.4" width="10.6" height="11.75" fill="#33a5f5"/>
<rect x="355.6" y="984.4" width="10.6" height="11.75" fill="#33a5f5"/>
<rect x="376.2" y="984.4" width="20.9" height="11.75" fill="#7db7f3"/>
<rect x="407.1" y="984.4" width="10.6" height="11.75" fill="#7db7f3"/>
<rect x="448.3" y="984.4" width="10.6" height="11.75" fill="#7db7f3"/>
<rect x="468.9" y="984.4" width="20.9" height="11.75" fill="#7db7f3"/>
<rect x="571.9" y="984.4" width="10.6" height="11.75" fill="#33a5f5"/>
<rect x="602.8" y="984.4" width="20.9" height="11.75" fill="#7db7f3"/>
<rect x="159.9" y="995.85" width="10.6" height="11.75" fill="#2a90d8"/>
<rect x="170.2" y="995.85" width="20.9" height="11.75" fill="#7db7f3"/>
<rect x="201.1" y="995.85" width="10.6" height="11.75" fill="#7db7f3"/>
<rect x="283.5" y="995.85" width="10.6" height="11.75" fill="#7db7f3"/>
<rect x="304.1" y="995.85" width="20.9" height="11.75" fill="#7db7f3"/>
<rect x="365.9" y="995.85" width="10.6" height="11.75" fill="#33a5f5"/>
<rect x="407.1" y="995.85" width="10.6" height="11.75" fill="#7db7f3"/>
<rect x="427.7" y="995.85" width="10.6" height="11.75" fill="#7db7f3"/>
<rect x="438" y="995.85" width="10.6" height="11.75" fill="#2a90d8"/>
<rect x="479.2" y="995.85" width="10.6" height="11.75" fill="#7db7f3"/>
<rect x="499.8" y="995.85" width="10.6" height="11.75" fill="#7db7f3"/>
<rect x="541" y="995.85" width="20.9" height="11.75" fill="#7db7f3"/>
<rect x="571.9" y="995.85" width="20.9" height="11.75" fill="#7db7f3"/>
<rect x="159.9" y="1007.3" width="10.6" height="11.75" fill="#7db7f3"/>
<rect x="335" y="1007.3" width="10.6" height="11.75" fill="#7db7f3"/>
<rect x="345.3" y="1007.3" width="10.6" height="11.75" fill="#33a5f5"/>
<rect x="417.4" y="1007.3" width="10.6" height="11.75" fill="#33a5f5"/>
<rect x="427.7" y="1007.3" width="31.2" height="11.75" fill="#7db7f3"/>
<rect x="458.6" y="1007.3" width="10.6" height="11.75" fill="#33a5f5"/>
<rect x="520.4" y="1007.3" width="10.6" height="11.75" fill="#7db7f3"/>
<rect x="602.8" y="1007.3" width="20.9" height="11.75" fill="#7db7f3"/>
<rect x="149.6" y="1018.75" width="10.6" height="11.75" fill="#7db7f3"/>
<rect x="232" y="1018.75" width="10.6" height="11.75" fill="#7db7f3"/>
<rect x="273.2" y="1018.75" width="10.6" height="11.75" fill="#7db7f3"/>
<rect x="304.1" y="1018.75" width="10.6" height="11.75" fill="#33a5f5"/>
<rect x="345.3" y="1018.75" width="10.6" height="11.75" fill="#7db7f3"/>
<rect x="386.5" y="1018.75" width="10.6" height="11.75" fill="#2a90d8"/>
<rect x="396.8" y="1018.75" width="10.6" height="11.75" fill="#7db7f3"/>
<rect x="407.1" y="1018.75" width="10.6" height="11.75" fill="#33a5f5"/>
<rect x="417.4" y="1018.75" width="10.6" height="11.75" fill="#7db7f3"/>
<rect x="427.7" y="1018.75" width="10.6" height="11.75" fill="#33a5f5"/>
<rect x="448.3" y="1018.75" width="10.6" height="11.75" fill="#7db7f3"/>
<rect x="468.9" y="1018.75" width="10.6" height="11.75" fill="#33a5f5"/>
<rect x="479.2" y="1018.75" width="10.6" height="11.75" fill="#7db7f3"/>
<rect x="520.4" y="1018.75" width="10.6" height="11.75" fill="#7db7f3"/>
<rect x="644" y="1018.75" width="10.6" height="11.75" fill="#7db7f3"/>
<rect x="149.6" y="1030.19" width="10.6" height="11.75" fill="#7db7f3"/>
<rect x="159.9" y="1030.19" width="10.6" height="11.75" fill="#33a5f5"/>
<rect x="180.5" y="1030.19" width="10.6" height="11.75" fill="#7db7f3"/>
<rect x="190.8" y="1030.19" width="10.6" height="11.75" fill="#33a5f5"/>
<rect x="242.3" y="1030.19" width="20.9" height="11.75" fill="#7db7f3"/>
<rect x="283.5" y="1030.19" width="10.6" height="11.75" fill="#7db7f3"/>
<rect x="304.1" y="1030.19" width="10.6" height="11.75" fill="#7db7f3"/>
<rect x="324.7" y="1030.19" width="10.6" height="11.75" fill="#7db7f3"/>
<rect x="365.9" y="1030.19" width="10.6" height="11.75" fill="#7db7f3"/>
<rect x="386.5" y="1030.19" width="10.6" height="11.75" fill="#7db7f3"/>
<rect x="417.4" y="1030.19" width="20.9" height="11.75" fill="#7db7f3"/>
<rect x="479.2" y="1030.19" width="10.6" height="11.75" fill="#7db7f3"/>
<rect x="520.4" y="1030.19" width="10.6" height="11.75" fill="#7db7f3"/>
<rect x="613.1" y="1030.19" width="20.9" height="11.75" fill="#7db7f3"/>
<rect x="644" y="1030.19" width="10.6" height="11.75" fill="#7db7f3"/>
<rect x="159.9" y="1041.64" width="10.6" height="11.75" fill="#2a90d8"/>
<rect x="170.2" y="1041.64" width="10.6" height="11.75" fill="#7db7f3"/>
<rect x="201.1" y="1041.64" width="10.6" height="11.75" fill="#33a5f5"/>
<rect x="232" y="1041.64" width="10.6" height="11.75" fill="#7db7f3"/>
<rect x="252.6" y="1041.64" width="10.6" height="11.75" fill="#33a5f5"/>
<rect x="283.5" y="1041.64" width="10.6" height="11.75" fill="#7db7f3"/>
<rect x="324.7" y="1041.64" width="31.2" height="11.75" fill="#7db7f3"/>
<rect x="386.5" y="1041.64" width="41.5" height="11.75" fill="#7db7f3"/>
<rect x="448.3" y="1041.64" width="10.6" height="11.75" fill="#7db7f3"/>
<rect x="479.2" y="1041.64" width="10.6" height="11.75" fill="#7db7f3"/>
<rect x="510.1" y="1041.64" width="10.6" height="11.75" fill="#7db7f3"/>
<rect x="541" y="1041.64" width="10.6" height="11.75" fill="#7db7f3"/>
<rect x="551.3" y="1041.64" width="10.6" height="11.75" fill="#33a5f5"/>
<rect x="159.9" y="1053.09" width="10.6" height="11.75" fill="#7db7f3"/>
<rect x="180.5" y="1053.09" width="10.6" height="11.75" fill="#7db7f3"/>
<rect x="273.2" y="1053.09" width="10.6" height="11.75" fill="#7db7f3"/>
<rect x="293.8" y="1053.09" width="62.1" height="11.75" fill="#7db7f3"/>
<rect x="365.9" y="1053.09" width="10.6" height="11.75" fill="#2a90d8"/>
<rect x="376.2" y="1053.09" width="10.6" height="11.75" fill="#7db7f3"/>
<rect x="396.8" y="1053.09" width="10.6" height="11.75" fill="#33a5f5"/>
<rect x="407.1" y="1053.09" width="10.6" height="11.75" fill="#7db7f3"/>
<rect x="458.6" y="1053.09" width="10.6" height="11.75" fill="#7db7f3"/>
<rect x="479.2" y="1053.09" width="10.6" height="11.75" fill="#7db7f3"/>
<rect x="499.8" y="1053.09" width="10.6" height="11.75" fill="#7db7f3"/>
<rect x="520.4" y="1053.09" width="10.6" height="11.75" fill="#7db7f3"/>
<rect x="582.2" y="1053.09" width="10.6" height="11.75" fill="#7db7f3"/>
<rect x="613.1" y="1053.09" width="10.6" height="11.75" fill="#7db7f3"/>
<rect x="159.9" y="1064.53" width="20.9" height="11.75" fill="#7db7f3"/>
<rect x="190.8" y="1064.53" width="10.6" height="11.75" fill="#7db7f3"/>
<rect x="304.1" y="1064.53" width="20.9" height="11.75" fill="#7db7f3"/>
<rect x="355.6" y="1064.53" width="10.6" height="11.75" fill="#7db7f3"/>
<rect x="365.9" y="1064.53" width="10.6" height="11.75" fill="#33a5f5"/>
<rect x="417.4" y="1064.53" width="10.6" height="11.75" fill="#7db7f3"/>
<rect x="438" y="1064.53" width="10.6" height="11.75" fill="#7db7f3"/>
<rect x="541" y="1064.53" width="20.9" height="11.75" fill="#7db7f3"/>
<rect x="602.8" y="1064.53" width="10.6" height="11.75" fill="#7db7f3"/>
<rect x="170.2" y="1075.98" width="10.6" height="11.75" fill="#7db7f3"/>
<rect x="201.1" y="1075.98" width="20.9" height="11.75" fill="#7db7f3"/>
<rect x="262.9" y="1075.98" width="10.6" height="11.75" fill="#7db7f3"/>
<rect x="293.8" y="1075.98" width="20.9" height="11.75" fill="#7db7f3"/>
<rect x="324.7" y="1075.98" width="10.6" height="11.75" fill="#7db7f3"/>
<rect x="448.3" y="1075.98" width="10.6" height="11.75" fill="#7db7f3"/>
<rect x="510.1" y="1075.98" width="10.6" height="11.75" fill="#7db7f3"/>
<rect x="530.7" y="1075.98" width="10.6" height="11.75" fill="#7db7f3"/>
<rect x="602.8" y="1075.98" width="20.9" height="11.75" fill="#7db7f3"/>
<rect x="242.3" y="1087.43" width="10.6" height="11.75" fill="#7db7f3"/>
<rect x="273.2" y="1087.43" width="31.2" height="11.75" fill="#7db7f3"/>
<rect x="324.7" y="1087.43" width="10.6" height="11.75" fill="#33a5f5"/>
<rect x="335" y="1087.43" width="10.6" height="11.75" fill="#7db7f3"/>
<rect x="345.3" y="1087.43" width="10.6" height="11.75" fill="#33a5f5"/>
<rect x="355.6" y="1087.43" width="10.6" height="11.75" fill="#7db7f3"/>
<rect x="365.9" y="1087.43" width="10.6" height="11.75" fill="#2a90d8"/>
<rect x="376.2" y="1087.43" width="20.9" height="11.75" fill="#7db7f3"/>
<rect x="427.7" y="1087.43" width="10.6" height="11.75" fill="#7db7f3"/>
<rect x="448.3" y="1087.43" width="10.6" height="11.75" fill="#7db7f3"/>
<rect x="479.2" y="1087.43" width="20.9" height="11.75" fill="#7db7f3"/>
<rect x="541" y="1087.43" width="10.6" height="11.75" fill="#7db7f3"/>
<rect x="582.2" y="1087.43" width="10.6" height="11.75" fill="#7db7f3"/>
<rect x="602.8" y="1087.43" width="10.6" height="11.75" fill="#7db7f3"/>
<rect x="170.2" y="1098.88" width="10.6" height="11.75" fill="#3b6791"/>
<rect x="242.3" y="1098.88" width="10.6" height="11.75" fill="#7db7f3"/>
<rect x="262.9" y="1098.88" width="10.6" height="11.75" fill="#7db7f3"/>
<rect x="283.5" y="1098.88" width="10.6" height="11.75" fill="#7db7f3"/>
<rect x="314.4" y="1098.88" width="10.6" height="11.75" fill="#7db7f3"/>
<rect x="345.3" y="1098.88" width="10.6" height="11.75" fill="#7db7f3"/>
<rect x="365.9" y="1098.88" width="10.6" height="11.75" fill="#7db7f3"/>
<rect x="386.5" y="1098.88" width="10.6" height="11.75" fill="#7db7f3"/>
<rect x="407.1" y="1098.88" width="20.9" height="11.75" fill="#7db7f3"/>
<rect x="448.3" y="1098.88" width="20.9" height="11.75" fill="#7db7f3"/>
<rect x="479.2" y="1098.88" width="10.6" height="11.75" fill="#7db7f3"/>
<rect x="510.1" y="1098.88" width="10.6" height="11.75" fill="#7db7f3"/>
<rect x="541" y="1098.88" width="10.6" height="11.75" fill="#7db7f3"/>
<rect x="582.2" y="1098.88" width="20.9" height="11.75" fill="#7db7f3"/>
<rect x="159.9" y="1110.32" width="20.9" height="11.75" fill="#2a90d8"/>
<rect x="180.5" y="1110.32" width="10.6" height="11.75" fill="#33a5f5"/>
<rect x="190.8" y="1110.32" width="10.6" height="11.75" fill="#7db7f3"/>
<rect x="242.3" y="1110.32" width="10.6" height="11.75" fill="#33a5f5"/>
<rect x="252.6" y="1110.32" width="10.6" height="11.75" fill="#2a90d8"/>
<rect x="262.9" y="1110.32" width="10.6" height="11.75" fill="#33a5f5"/>
<rect x="273.2" y="1110.32" width="10.6" height="11.75" fill="#337cb6"/>
<rect x="283.5" y="1110.32" width="10.6" height="11.75" fill="#7db7f3"/>
<rect x="293.8" y="1110.32" width="10.6" height="11.75" fill="#3b6791"/>
<rect x="304.1" y="1110.32" width="10.6" height="11.75" fill="#2a90d8"/>
<rect x="314.4" y="1110.32" width="10.6" height="11.75" fill="#7db7f3"/>
<rect x="324.7" y="1110.32" width="10.6" height="11.75" fill="#2a90d8"/>
<rect x="335" y="1110.32" width="20.9" height="11.75" fill="#33a5f5"/>
<rect x="365.9" y="1110.32" width="20.9" height="11.75" fill="#7db7f3"/>
<rect x="386.5" y="1110.32" width="10.6" height="11.75" fill="#2a90d8"/>
<rect x="458.6" y="1110.32" width="10.6" height="11.75" fill="#7db7f3"/>
<rect x="479.2" y="1110.32" width="10.6" height="11.75" fill="#33a5f5"/>
<rect x="530.7" y="1110.32" width="10.6" height="11.75" fill="#7db7f3"/>
<rect x="623.4" y="1110.32" width="10.6" height="11.75" fill="#7db7f3"/>
<rect x="159.9" y="1121.77" width="10.6" height="11.75" fill="#33a5f5"/>
<rect x="170.2" y="1121.77" width="10.6" height="11.75" fill="#7db7f3"/>
<rect x="201.1" y="1121.77" width="31.2" height="11.75" fill="#33a5f5"/>
<rect x="232" y="1121.77" width="10.6" height="11.75" fill="#7db7f3"/>
<rect x="242.3" y="1121.77" width="20.9" height="11.75" fill="#2a90d8"/>
<rect x="283.5" y="1121.77" width="20.9" height="11.75" fill="#33a5f5"/>
<rect x="335" y="1121.77" width="10.6" height="11.75" fill="#33a5f5"/>
<rect x="345.3" y="1121.77" width="10.6" height="11.75" fill="#337cb6"/>
<rect x="355.6" y="1121.77" width="10.6" height="11.75" fill="#33a5f5"/>
<rect x="386.5" y="1121.77" width="10.6" height="11.75" fill="#3b6791"/>
<rect x="396.8" y="1121.77" width="20.9" height="11.75" fill="#7db7f3"/>
<rect x="427.7" y="1121.77" width="20.9" height="11.75" fill="#7db7f3"/>
<rect x="458.6" y="1121.77" width="20.9" height="11.75" fill="#33a5f5"/>
<rect x="479.2" y="1121.77" width="10.6" height="11.75" fill="#7db7f3"/>
<rect x="613.1" y="1121.77" width="10.6" height="11.75" fill="#7db7f3"/>
<rect x="644" y="1121.77" width="10.6" height="11.75" fill="#33a5f5"/>
<rect x="159.9" y="1133.22" width="10.6" height="11.75" fill="#33a5f5"/>
<rect x="170.2" y="1133.22" width="10.6" height="11.75" fill="#7db7f3"/>
<rect x="190.8" y="1133.22" width="20.9" height="11.75" fill="#33a5f5"/>
<rect x="242.3" y="1133.22" width="10.6" height="11.75" fill="#2a90d8"/>
<rect x="252.6" y="1133.22" width="10.6" height="11.75" fill="#7db7f3"/>
<rect x="262.9" y="1133.22" width="10.6" height="11.75" fill="#337cb6"/>
<rect x="273.2" y="1133.22" width="10.6" height="11.75" fill="#7db7f3"/>
<rect x="293.8" y="1133.22" width="41.5" height="11.75" fill="#7db7f3"/>
<rect x="335" y="1133.22" width="10.6" height="11.75" fill="#33a5f5"/>
<rect x="345.3" y="1133.22" width="10.6" height="11.75" fill="#3b6791"/>
<rect x="365.9" y="1133.22" width="10.6" height="11.75" fill="#33a5f5"/>
<rect x="376.2" y="1133.22" width="10.6" height="11.75" fill="#7db7f3"/>
<rect x="386.5" y="1133.22" width="10.6" height="11.75" fill="#33a5f5"/>
<rect x="396.8" y="1133.22" width="31.2" height="11.75" fill="#7db7f3"/>
<rect x="427.7" y="1133.22" width="10.6" height="11.75" fill="#33a5f5"/>
<rect x="458.6" y="1133.22" width="10.6" height="11.75" fill="#7db7f3"/>
<rect x="520.4" y="1133.22" width="10.6" height="11.75" fill="#33a5f5"/>
<rect x="530.7" y="1133.22" width="10.6" height="11.75" fill="#7db7f3"/>
<rect x="551.3" y="1133.22" width="10.6" height="11.75" fill="#7db7f3"/>
<rect x="602.8" y="1133.22" width="10.6" height="11.75" fill="#7db7f3"/>
<rect x="633.7" y="1133.22" width="10.6" height="11.75" fill="#7db7f3"/>
<rect x="654.3" y="1133.22" width="10.6" height="11.75" fill="#7db7f3"/>
<rect x="159.9" y="1144.66" width="10.6" height="11.75" fill="#7db7f3"/>
<rect x="170.2" y="1144.66" width="10.6" height="11.75" fill="#3d546e"/>
<rect x="180.5" y="1144.66" width="20.9" height="11.75" fill="#3b6791"/>
<rect x="201.1" y="1144.66" width="10.6" height="11.75" fill="#33a5f5"/>
<rect x="211.4" y="1144.66" width="10.6" height="11.75" fill="#7db7f3"/>
<rect x="232" y="1144.66" width="10.6" height="11.75" fill="#2a90d8"/>
<rect x="242.3" y="1144.66" width="10.6" height="11.75" fill="#7db7f3"/>
<rect x="252.6" y="1144.66" width="10.6" height="11.75" fill="#33a5f5"/>
<rect x="262.9" y="1144.66" width="10.6" height="11.75" fill="#7db7f3"/>
<rect x="283.5" y="1144.66" width="10.6" height="11.75" fill="#2a90d8"/>
<rect x="293.8" y="1144.66" width="10.6" height="11.75" fill="#3d546e"/>
<rect x="304.1" y="1144.66" width="10.6" height="11.75" fill="#7db7f3"/>
<rect x="314.4" y="1144.66" width="10.6" height="11.75" fill="#2a90d8"/>
<rect x="324.7" y="1144.66" width="10.6" height="11.75" fill="#33a5f5"/>
<rect x="335" y="1144.66" width="20.9" height="11.75" fill="#2a90d8"/>
<rect x="355.6" y="1144.66" width="10.6" height="11.75" fill="#7db7f3"/>
<rect x="365.9" y="1144.66" width="10.6" height="11.75" fill="#2a90d8"/>
<rect x="376.2" y="1144.66" width="10.6" height="11.75" fill="#7db7f3"/>
<rect x="386.5" y="1144.66" width="10.6" height="11.75" fill="#33a5f5"/>
<rect x="427.7" y="1144.66" width="10.6" height="11.75" fill="#33a5f5"/>
<rect x="448.3" y="1144.66" width="20.9" height="11.75" fill="#7db7f3"/>
<rect x="530.7" y="1144.66" width="10.6" height="11.75" fill="#7db7f3"/>
<rect x="159.9" y="1156.11" width="10.6" height="11.75" fill="#7db7f3"/>
<rect x="170.2" y="1156.11" width="10.6" height="11.75" fill="#33a5f5"/>
<rect x="180.5" y="1156.11" width="10.6" height="11.75" fill="#3d546e"/>
<rect x="190.8" y="1156.11" width="31.2" height="11.75" fill="#7db7f3"/>
<rect x="221.7" y="1156.11" width="10.6" height="11.75" fill="#33a5f5"/>
<rect x="232" y="1156.11" width="10.6" height="11.75" fill="#7db7f3"/>
<rect x="242.3" y="1156.11" width="10.6" height="11.75" fill="#33a5f5"/>
<rect x="252.6" y="1156.11" width="20.9" height="11.75" fill="#7db7f3"/>
<rect x="273.2" y="1156.11" width="10.6" height="11.75" fill="#337cb6"/>
<rect x="283.5" y="1156.11" width="10.6" height="11.75" fill="#33a5f5"/>
<rect x="293.8" y="1156.11" width="10.6" height="11.75" fill="#7db7f3"/>
<rect x="304.1" y="1156.11" width="10.6" height="11.75" fill="#33a5f5"/>
<rect x="314.4" y="1156.11" width="10.6" height="11.75" fill="#2a90d8"/>
<rect x="324.7" y="1156.11" width="10.6" height="11.75" fill="#337cb6"/>
<rect x="335" y="1156.11" width="10.6" height="11.75" fill="#2a90d8"/>
<rect x="345.3" y="1156.11" width="10.6" height="11.75" fill="#33a5f5"/>
<rect x="355.6" y="1156.11" width="10.6" height="11.75" fill="#337cb6"/>
<rect x="376.2" y="1156.11" width="10.6" height="11.75" fill="#33a5f5"/>
<rect x="386.5" y="1156.11" width="10.6" height="11.75" fill="#337cb6"/>
<rect x="407.1" y="1156.11" width="10.6" height="11.75" fill="#7db7f3"/>
<rect x="427.7" y="1156.11" width="10.6" height="11.75" fill="#7db7f3"/>
<rect x="448.3" y="1156.11" width="10.6" height="11.75" fill="#7db7f3"/>
<rect x="510.1" y="1156.11" width="20.9" height="11.75" fill="#7db7f3"/>
<rect x="561.6" y="1156.11" width="10.6" height="11.75" fill="#7db7f3"/>
<rect x="592.5" y="1156.11" width="10.6" height="11.75" fill="#7db7f3"/>
<rect x="644" y="1156.11" width="10.6" height="11.75" fill="#7db7f3"/>
<rect x="149.6" y="1167.56" width="20.9" height="11.75" fill="#7db7f3"/>
<rect x="170.2" y="1167.56" width="10.6" height="11.75" fill="#33a5f5"/>
<rect x="190.8" y="1167.56" width="10.6" height="11.75" fill="#3b6791"/>
<rect x="201.1" y="1167.56" width="10.6" height="11.75" fill="#33a5f5"/>
<rect x="211.4" y="1167.56" width="10.6" height="11.75" fill="#3d546e"/>
<rect x="221.7" y="1167.56" width="20.9" height="11.75" fill="#33a5f5"/>
<rect x="242.3" y="1167.56" width="10.6" height="11.75" fill="#3d546e"/>
<rect x="252.6" y="1167.56" width="20.9" height="11.75" fill="#2a90d8"/>
<rect x="273.2" y="1167.56" width="10.6" height="11.75" fill="#337cb6"/>
<rect x="283.5" y="1167.56" width="10.6" height="11.75" fill="#33a5f5"/>
<rect x="293.8" y="1167.56" width="20.9" height="11.75" fill="#3b6791"/>
<rect x="314.4" y="1167.56" width="20.9" height="11.75" fill="#33a5f5"/>
<rect x="335" y="1167.56" width="10.6" height="11.75" fill="#3b6791"/>
<rect x="345.3" y="1167.56" width="10.6" height="11.75" fill="#2a90d8"/>
<rect x="355.6" y="1167.56" width="10.6" height="11.75" fill="#7db7f3"/>
<rect x="365.9" y="1167.56" width="10.6" height="11.75" fill="#2a90d8"/>
<rect x="396.8" y="1167.56" width="10.6" height="11.75" fill="#2a90d8"/>
<rect x="407.1" y="1167.56" width="10.6" height="11.75" fill="#7db7f3"/>
<rect x="468.9" y="1167.56" width="20.9" height="11.75" fill="#7db7f3"/>
<rect x="499.8" y="1167.56" width="10.6" height="11.75" fill="#7db7f3"/>
<rect x="520.4" y="1167.56" width="10.6" height="11.75" fill="#7db7f3"/>
<rect x="561.6" y="1167.56" width="10.6" height="11.75" fill="#7db7f3"/>
<rect x="633.7" y="1167.56" width="31.2" height="11.75" fill="#7db7f3"/>
<rect x="159.9" y="1179" width="10.6" height="11.75" fill="#33a5f5"/>
<rect x="170.2" y="1179" width="10.6" height="11.75" fill="#7db7f3"/>
<rect x="180.5" y="1179" width="10.6" height="11.75" fill="#33a5f5"/>
<rect x="190.8" y="1179" width="10.6" height="11.75" fill="#7db7f3"/>
<rect x="201.1" y="1179" width="10.6" height="11.75" fill="#2a90d8"/>
<rect x="211.4" y="1179" width="10.6" height="11.75" fill="#337cb6"/>
<rect x="221.7" y="1179" width="10.6" height="11.75" fill="#3b6791"/>
<rect x="232" y="1179" width="10.6" height="11.75" fill="#2a90d8"/>
<rect x="242.3" y="1179" width="10.6" height="11.75" fill="#337cb6"/>
<rect x="252.6" y="1179" width="10.6" height="11.75" fill="#7db7f3"/>
<rect x="262.9" y="1179" width="20.9" height="11.75" fill="#33a5f5"/>
<rect x="283.5" y="1179" width="10.6" height="11.75" fill="#337cb6"/>
<rect x="293.8" y="1179" width="10.6" height="11.75" fill="#3b6791"/>
<rect x="304.1" y="1179" width="10.6" height="11.75" fill="#2a90d8"/>
<rect x="314.4" y="1179" width="10.6" height="11.75" fill="#3d546e"/>
<rect x="324.7" y="1179" width="10.6" height="11.75" fill="#337cb6"/>
<rect x="335" y="1179" width="20.9" height="11.75" fill="#7db7f3"/>
<rect x="355.6" y="1179" width="10.6" height="11.75" fill="#337cb6"/>
<rect x="365.9" y="1179" width="10.6" height="11.75" fill="#2a90d8"/>
<rect x="376.2" y="1179" width="20.9" height="11.75" fill="#33a5f5"/>
<rect x="407.1" y="1179" width="10.6" height="11.75" fill="#7db7f3"/>
<rect x="468.9" y="1179" width="10.6" height="11.75" fill="#33a5f5"/>
<rect x="479.2" y="1179" width="10.6" height="11.75" fill="#7db7f3"/>
<rect x="510.1" y="1179" width="20.9" height="11.75" fill="#7db7f3"/>
<rect x="571.9" y="1179" width="10.6" height="11.75" fill="#7db7f3"/>
<rect x="170.2" y="1190.45" width="20.9" height="11.75" fill="#2a90d8"/>
<rect x="201.1" y="1190.45" width="10.6" height="11.75" fill="#7db7f3"/>
<rect x="211.4" y="1190.45" width="10.6" height="11.75" fill="#3b6791"/>
<rect x="221.7" y="1190.45" width="10.6" height="11.75" fill="#7db7f3"/>
<rect x="232" y="1190.45" width="10.6" height="11.75" fill="#3d546e"/>
<rect x="242.3" y="1190.45" width="10.6" height="11.75" fill="#3b6791"/>
<rect x="252.6" y="1190.45" width="10.6" height="11.75" fill="#2a90d8"/>
<rect x="262.9" y="1190.45" width="20.9" height="11.75" fill="#3b6791"/>
<rect x="283.5" y="1190.45" width="20.9" height="11.75" fill="#3d546e"/>
<rect x="304.1" y="1190.45" width="10.6" height="11.75" fill="#2a90d8"/>
<rect x="314.4" y="1190.45" width="10.6" height="11.75" fill="#33a5f5"/>
<rect x="324.7" y="1190.45" width="10.6" height="11.75" fill="#337cb6"/>
<rect x="335" y="1190.45" width="10.6" height="11.75" fill="#33a5f5"/>
<rect x="355.6" y="1190.45" width="20.9" height="11.75" fill="#33a5f5"/>
<rect x="386.5" y="1190.45" width="10.6" height="11.75" fill="#337cb6"/>
<rect x="396.8" y="1190.45" width="10.6" height="11.75" fill="#7db7f3"/>
<rect x="407.1" y="1190.45" width="10.6" height="11.75" fill="#33a5f5"/>
<rect x="458.6" y="1190.45" width="10.6" height="11.75" fill="#7db7f3"/>
<rect x="510.1" y="1190.45" width="10.6" height="11.75" fill="#7db7f3"/>
<rect x="571.9" y="1190.45" width="10.6" height="11.75" fill="#7db7f3"/>
<rect x="613.1" y="1190.45" width="10.6" height="11.75" fill="#7db7f3"/>
<rect x="170.2" y="1201.9" width="10.6" height="11.75" fill="#2a90d8"/>
<rect x="180.5" y="1201.9" width="20.9" height="11.75" fill="#7db7f3"/>
<rect x="201.1" y="1201.9" width="10.6" height="11.75" fill="#33a5f5"/>
<rect x="221.7" y="1201.9" width="10.6" height="11.75" fill="#7db7f3"/>
<rect x="232" y="1201.9" width="20.9" height="11.75" fill="#2a90d8"/>
<rect x="252.6" y="1201.9" width="10.6" height="11.75" fill="#33a5f5"/>
<rect x="262.9" y="1201.9" width="20.9" height="11.75" fill="#2a90d8"/>
<rect x="283.5" y="1201.9" width="20.9" height="11.75" fill="#337cb6"/>
<rect x="304.1" y="1201.9" width="10.6" height="11.75" fill="#7db7f3"/>
<rect x="314.4" y="1201.9" width="10.6" height="11.75" fill="#33a5f5"/>
<rect x="324.7" y="1201.9" width="10.6" height="11.75" fill="#3d546e"/>
<rect x="335" y="1201.9" width="10.6" height="11.75" fill="#337cb6"/>
<rect x="345.3" y="1201.9" width="20.9" height="11.75" fill="#3d546e"/>
<rect x="365.9" y="1201.9" width="10.6" height="11.75" fill="#7db7f3"/>
<rect x="386.5" y="1201.9" width="10.6" height="11.75" fill="#7db7f3"/>
<rect x="427.7" y="1201.9" width="20.9" height="11.75" fill="#7db7f3"/>
<rect x="468.9" y="1201.9" width="10.6" height="11.75" fill="#7db7f3"/>
<rect x="489.5" y="1201.9" width="10.6" height="11.75" fill="#33a5f5"/>
<rect x="541" y="1201.9" width="10.6" height="11.75" fill="#33a5f5"/>
<rect x="633.7" y="1201.9" width="10.6" height="11.75" fill="#7db7f3"/>
<rect x="159.9" y="1213.35" width="20.9" height="11.75" fill="#337cb6"/>
<rect x="180.5" y="1213.35" width="10.6" height="11.75" fill="#2a90d8"/>
<rect x="190.8" y="1213.35" width="20.9" height="11.75" fill="#7db7f3"/>
<rect x="211.4" y="1213.35" width="10.6" height="11.75" fill="#2a90d8"/>
<rect x="221.7" y="1213.35" width="10.6" height="11.75" fill="#33a5f5"/>
<rect x="232" y="1213.35" width="10.6" height="11.75" fill="#337cb6"/>
<rect x="242.3" y="1213.35" width="10.6" height="11.75" fill="#3d546e"/>
<rect x="252.6" y="1213.35" width="10.6" height="11.75" fill="#2a90d8"/>
<rect x="262.9" y="1213.35" width="10.6" height="11.75" fill="#3b6791"/>
<rect x="283.5" y="1213.35" width="20.9" height="11.75" fill="#3b6791"/>
<rect x="304.1" y="1213.35" width="10.6" height="11.75" fill="#2a90d8"/>
<rect x="314.4" y="1213.35" width="10.6" height="11.75" fill="#7db7f3"/>
<rect x="324.7" y="1213.35" width="10.6" height="11.75" fill="#2a90d8"/>
<rect x="335" y="1213.35" width="10.6" height="11.75" fill="#3b6791"/>
<rect x="345.3" y="1213.35" width="10.6" height="11.75" fill="#337cb6"/>
<rect x="355.6" y="1213.35" width="10.6" height="11.75" fill="#2a90d8"/>
<rect x="365.9" y="1213.35" width="20.9" height="11.75" fill="#7db7f3"/>
<rect x="386.5" y="1213.35" width="10.6" height="11.75" fill="#2a90d8"/>
<rect x="396.8" y="1213.35" width="10.6" height="11.75" fill="#337cb6"/>
<rect x="427.7" y="1213.35" width="20.9" height="11.75" fill="#7db7f3"/>
<rect x="479.2" y="1213.35" width="10.6" height="11.75" fill="#7db7f3"/>
<rect x="541" y="1213.35" width="10.6" height="11.75" fill="#7db7f3"/>
<rect x="149.6" y="1224.79" width="10.6" height="11.75" fill="#7db7f3"/>
<rect x="159.9" y="1224.79" width="10.6" height="11.75" fill="#2a90d8"/>
<rect x="170.2" y="1224.79" width="20.9" height="11.75" fill="#3b6791"/>
<rect x="201.1" y="1224.79" width="10.6" height="11.75" fill="#33a5f5"/>
<rect x="211.4" y="1224.79" width="10.6" height="11.75" fill="#337cb6"/>
<rect x="221.7" y="1224.79" width="10.6" height="11.75" fill="#33a5f5"/>
<rect x="232" y="1224.79" width="20.9" height="11.75" fill="#337cb6"/>
<rect x="252.6" y="1224.79" width="10.6" height="11.75" fill="#2a90d8"/>
<rect x="262.9" y="1224.79" width="10.6" height="11.75" fill="#337cb6"/>
<rect x="273.2" y="1224.79" width="10.6" height="11.75" fill="#33a5f5"/>
<rect x="283.5" y="1224.79" width="10.6" height="11.75" fill="#2a90d8"/>
<rect x="293.8" y="1224.79" width="10.6" height="11.75" fill="#3b6791"/>
<rect x="304.1" y="1224.79" width="10.6" height="11.75" fill="#33a5f5"/>
<rect x="314.4" y="1224.79" width="10.6" height="11.75" fill="#3d546e"/>
<rect x="324.7" y="1224.79" width="10.6" height="11.75" fill="#337cb6"/>
<rect x="335" y="1224.79" width="10.6" height="11.75" fill="#7db7f3"/>
<rect x="355.6" y="1224.79" width="20.9" height="11.75" fill="#7db7f3"/>
<rect x="376.2" y="1224.79" width="10.6" height="11.75" fill="#2a90d8"/>
<rect x="396.8" y="1224.79" width="10.6" height="11.75" fill="#7db7f3"/>
<rect x="417.4" y="1224.79" width="10.6" height="11.75" fill="#7db7f3"/>
<rect x="458.6" y="1224.79" width="10.6" height="11.75" fill="#7db7f3"/>
<rect x="510.1" y="1224.79" width="10.6" height="11.75" fill="#7db7f3"/>
<rect x="654.3" y="1224.79" width="10.6" height="11.75" fill="#7db7f3"/>
<rect x="159.9" y="1236.24" width="10.6" height="11.75" fill="#2a90d8"/>
<rect x="170.2" y="1236.24" width="20.9" height="11.75" fill="#7db7f3"/>
<rect x="201.1" y="1236.24" width="20.9" height="11.75" fill="#337cb6"/>
<rect x="221.7" y="1236.24" width="10.6" height="11.75" fill="#3d546e"/>
<rect x="232" y="1236.24" width="10.6" height="11.75" fill="#7db7f3"/>
<rect x="242.3" y="1236.24" width="10.6" height="11.75" fill="#2a90d8"/>
<rect x="252.6" y="1236.24" width="10.6" height="11.75" fill="#3d546e"/>
<rect x="273.2" y="1236.24" width="10.6" height="11.75" fill="#337cb6"/>
<rect x="283.5" y="1236.24" width="10.6" height="11.75" fill="#3b6791"/>
<rect x="293.8" y="1236.24" width="10.6" height="11.75" fill="#33a5f5"/>
<rect x="304.1" y="1236.24" width="10.6" height="11.75" fill="#3d546e"/>
<rect x="314.4" y="1236.24" width="10.6" height="11.75" fill="#2a90d8"/>
<rect x="324.7" y="1236.24" width="10.6" height="11.75" fill="#7db7f3"/>
<rect x="335" y="1236.24" width="10.6" height="11.75" fill="#3d546e"/>
<rect x="345.3" y="1236.24" width="10.6" height="11.75" fill="#7db7f3"/>
<rect x="355.6" y="1236.24" width="10.6" height="11.75" fill="#337cb6"/>
<rect x="365.9" y="1236.24" width="10.6" height="11.75" fill="#2a90d8"/>
<rect x="376.2" y="1236.24" width="10.6" height="11.75" fill="#3b6791"/>
<rect x="386.5" y="1236.24" width="10.6" height="11.75" fill="#2a90d8"/>
<rect x="427.7" y="1236.24" width="20.9" height="11.75" fill="#7db7f3"/>
<rect x="458.6" y="1236.24" width="10.6" height="11.75" fill="#7db7f3"/>
<rect x="541" y="1236.24" width="10.6" height="11.75" fill="#7db7f3"/>
<rect x="644" y="1236.24" width="10.6" height="11.75" fill="#33a5f5"/>
<rect x="149.6" y="1247.69" width="20.9" height="11.75" fill="#7db7f3"/>
<rect x="170.2" y="1247.69" width="10.6" height="11.75" fill="#33a5f5"/>
<rect x="180.5" y="1247.69" width="41.5" height="11.75" fill="#7db7f3"/>
<rect x="221.7" y="1247.69" width="10.6" height="11.75" fill="#33a5f5"/>
<rect x="232" y="1247.69" width="20.9" height="11.75" fill="#337cb6"/>
<rect x="252.6" y="1247.69" width="10.6" height="11.75" fill="#3b6791"/>
<rect x="262.9" y="1247.69" width="10.6" height="11.75" fill="#337cb6"/>
<rect x="273.2" y="1247.69" width="10.6" height="11.75" fill="#33a5f5"/>
<rect x="283.5" y="1247.69" width="20.9" height="11.75" fill="#3d546e"/>
<rect x="304.1" y="1247.69" width="10.6" height="11.75" fill="#33a5f5"/>
<rect x="314.4" y="1247.69" width="10.6" height="11.75" fill="#2a90d8"/>
<rect x="324.7" y="1247.69" width="10.6" height="11.75" fill="#3d546e"/>
<rect x="335" y="1247.69" width="10.6" height="11.75" fill="#2a90d8"/>
<rect x="345.3" y="1247.69" width="20.9" height="11.75" fill="#33a5f5"/>
<rect x="376.2" y="1247.69" width="20.9" height="11.75" fill="#2a90d8"/>
<rect x="396.8" y="1247.69" width="20.9" height="11.75" fill="#7db7f3"/>
<rect x="438" y="1247.69" width="10.6" height="11.75" fill="#7db7f3"/>
<rect x="510.1" y="1247.69" width="20.9" height="11.75" fill="#7db7f3"/>
<rect x="602.8" y="1247.69" width="10.6" height="11.75" fill="#7db7f3"/>
<rect x="633.7" y="1247.69" width="20.9" height="11.75" fill="#7db7f3"/>
<rect x="159.9" y="1259.13" width="10.6" height="11.75" fill="#3b6791"/>
<rect x="170.2" y="1259.13" width="10.6" height="11.75" fill="#7db7f3"/>
<rect x="190.8" y="1259.13" width="10.6" height="11.75" fill="#33a5f5"/>
<rect x="201.1" y="1259.13" width="20.9" height="11.75" fill="#7db7f3"/>
<rect x="221.7" y="1259.13" width="10.6" height="11.75" fill="#3d546e"/>
<rect x="232" y="1259.13" width="10.6" height="11.75" fill="#337cb6"/>
<rect x="242.3" y="1259.13" width="10.6" height="11.75" fill="#33a5f5"/>
<rect x="252.6" y="1259.13" width="10.6" height="11.75" fill="#3d546e"/>
<rect x="262.9" y="1259.13" width="10.6" height="11.75" fill="#337cb6"/>
<rect x="273.2" y="1259.13" width="10.6" height="11.75" fill="#3b6791"/>
<rect x="283.5" y="1259.13" width="10.6" height="11.75" fill="#2a90d8"/>
<rect x="293.8" y="1259.13" width="10.6" height="11.75" fill="#3d546e"/>
<rect x="304.1" y="1259.13" width="10.6" height="11.75" fill="#7db7f3"/>
<rect x="314.4" y="1259.13" width="10.6" height="11.75" fill="#33a5f5"/>
<rect x="324.7" y="1259.13" width="10.6" height="11.75" fill="#3d546e"/>
<rect x="335" y="1259.13" width="10.6" height="11.75" fill="#33a5f5"/>
<rect x="345.3" y="1259.13" width="10.6" height="11.75" fill="#337cb6"/>
<rect x="355.6" y="1259.13" width="10.6" height="11.75" fill="#3d546e"/>
<rect x="365.9" y="1259.13" width="10.6" height="11.75" fill="#7db7f3"/>
<rect x="376.2" y="1259.13" width="10.6" height="11.75" fill="#2a90d8"/>
<rect x="386.5" y="1259.13" width="10.6" height="11.75" fill="#33a5f5"/>
<rect x="396.8" y="1259.13" width="10.6" height="11.75" fill="#7db7f3"/>
<rect x="427.7" y="1259.13" width="20.9" height="11.75" fill="#7db7f3"/>
<rect x="479.2" y="1259.13" width="10.6" height="11.75" fill="#7db7f3"/>
<rect x="499.8" y="1259.13" width="10.6" height="11.75" fill="#7db7f3"/>
<rect x="520.4" y="1259.13" width="10.6" height="11.75" fill="#7db7f3"/>
<rect x="541" y="1259.13" width="10.6" height="11.75" fill="#7db7f3"/>
<rect x="159.9" y="1270.58" width="10.6" height="11.75" fill="#33a5f5"/>
<rect x="180.5" y="1270.58" width="10.6" height="11.75" fill="#3d546e"/>
<rect x="201.1" y="1270.58" width="20.9" height="11.75" fill="#2a90d8"/>
<rect x="221.7" y="1270.58" width="10.6" height="11.75" fill="#7db7f3"/>
<rect x="232" y="1270.58" width="10.6" height="11.75" fill="#2a90d8"/>
<rect x="242.3" y="1270.58" width="10.6" height="11.75" fill="#33a5f5"/>
<rect x="252.6" y="1270.58" width="10.6" height="11.75" fill="#2a90d8"/>
<rect x="262.9" y="1270.58" width="10.6" height="11.75" fill="#33a5f5"/>
<rect x="273.2" y="1270.58" width="10.6" height="11.75" fill="#3b6791"/>
<rect x="283.5" y="1270.58" width="10.6" height="11.75" fill="#7db7f3"/>
<rect x="293.8" y="1270.58" width="20.9" height="11.75" fill="#33a5f5"/>
<rect x="314.4" y="1270.58" width="10.6" height="11.75" fill="#337cb6"/>
<rect x="324.7" y="1270.58" width="10.6" height="11.75" fill="#3d546e"/>
<rect x="335" y="1270.58" width="10.6" height="11.75" fill="#337cb6"/>
<rect x="345.3" y="1270.58" width="20.9" height="11.75" fill="#33a5f5"/>
<rect x="386.5" y="1270.58" width="10.6" height="11.75" fill="#337cb6"/>
<rect x="396.8" y="1270.58" width="10.6" height="11.75" fill="#33a5f5"/>
<rect x="417.4" y="1270.58" width="10.6" height="11.75" fill="#7db7f3"/>
<rect x="438" y="1270.58" width="10.6" height="11.75" fill="#7db7f3"/>
<rect x="458.6" y="1270.58" width="10.6" height="11.75" fill="#7db7f3"/>
<rect x="489.5" y="1270.58" width="10.6" height="11.75" fill="#7db7f3"/>
<rect x="561.6" y="1270.58" width="10.6" height="11.75" fill="#7db7f3"/>
<rect x="149.6" y="1282.03" width="10.6" height="11.75" fill="#7db7f3"/>
<rect x="159.9" y="1282.03" width="10.6" height="11.75" fill="#337cb6"/>
<rect x="170.2" y="1282.03" width="10.6" height="11.75" fill="#2a90d8"/>
<rect x="180.5" y="1282.03" width="10.6" height="11.75" fill="#7db7f3"/>
<rect x="201.1" y="1282.03" width="10.6" height="11.75" fill="#337cb6"/>
<rect x="211.4" y="1282.03" width="10.6" height="11.75" fill="#3b6791"/>
<rect x="221.7" y="1282.03" width="10.6" height="11.75" fill="#337cb6"/>
<rect x="232" y="1282.03" width="10.6" height="11.75" fill="#3d546e"/>
<rect x="242.3" y="1282.03" width="10.6" height="11.75" fill="#2a90d8"/>
<rect x="252.6" y="1282.03" width="10.6" height="11.75" fill="#3d546e"/>
<rect x="262.9" y="1282.03" width="10.6" height="11.75" fill="#3b6791"/>
<rect x="273.2" y="1282.03" width="10.6" height="11.75" fill="#33a5f5"/>
<rect x="283.5" y="1282.03" width="10.6" height="11.75" fill="#3d546e"/>
<rect x="293.8" y="1282.03" width="10.6" height="11.75" fill="#33a5f5"/>
<rect x="304.1" y="1282.03" width="10.6" height="11.75" fill="#2a90d8"/>
<rect x="314.4" y="1282.03" width="10.6" height="11.75" fill="#3b6791"/>
<rect x="324.7" y="1282.03" width="10.6" height="11.75" fill="#337cb6"/>
<rect x="335" y="1282.03" width="10.6" height="11.75" fill="#3b6791"/>
<rect x="345.3" y="1282.03" width="10.6" height="11.75" fill="#337cb6"/>
<rect x="355.6" y="1282.03" width="10.6" height="11.75" fill="#3d546e"/>
<rect x="386.5" y="1282.03" width="10.6" height="11.75" fill="#33a5f5"/>
<rect x="407.1" y="1282.03" width="10.6" height="11.75" fill="#7db7f3"/>
<rect x="458.6" y="1282.03" width="10.6" height="11.75" fill="#7db7f3"/>
<rect x="489.5" y="1282.03" width="10.6" height="11.75" fill="#33a5f5"/>
<rect x="499.8" y="1282.03" width="10.6" height="11.75" fill="#7db7f3"/>
<rect x="530.7" y="1282.03" width="10.6" height="11.75" fill="#7db7f3"/>
<rect x="551.3" y="1282.03" width="20.9" height="11.75" fill="#7db7f3"/>
<rect x="602.8" y="1282.03" width="10.6" height="11.75" fill="#33a5f5"/>
<rect x="633.7" y="1282.03" width="10.6" height="11.75" fill="#7db7f3"/>
<rect x="159.9" y="1293.47" width="10.6" height="11.75" fill="#33a5f5"/>
<rect x="170.2" y="1293.47" width="10.6" height="11.75" fill="#337cb6"/>
<rect x="180.5" y="1293.47" width="20.9" height="11.75" fill="#3b6791"/>
<rect x="201.1" y="1293.47" width="10.6" height="11.75" fill="#3d546e"/>
<rect x="211.4" y="1293.47" width="10.6" height="11.75" fill="#3b6791"/>
<rect x="221.7" y="1293.47" width="20.9" height="11.75" fill="#337cb6"/>
<rect x="242.3" y="1293.47" width="10.6" height="11.75" fill="#7db7f3"/>
<rect x="252.6" y="1293.47" width="10.6" height="11.75" fill="#3d546e"/>
<rect x="262.9" y="1293.47" width="31.2" height="11.75" fill="#337cb6"/>
<rect x="304.1" y="1293.47" width="10.6" height="11.75" fill="#337cb6"/>
<rect x="314.4" y="1293.47" width="10.6" height="11.75" fill="#33a5f5"/>
<rect x="324.7" y="1293.47" width="31.2" height="11.75" fill="#2a90d8"/>
<rect x="355.6" y="1293.47" width="10.6" height="11.75" fill="#33a5f5"/>
<rect x="376.2" y="1293.47" width="10.6" height="11.75" fill="#7db7f3"/>
<rect x="396.8" y="1293.47" width="10.6" height="11.75" fill="#7db7f3"/>
<rect x="427.7" y="1293.47" width="20.9" height="11.75" fill="#33a5f5"/>
<rect x="468.9" y="1293.47" width="10.6" height="11.75" fill="#7db7f3"/>
<rect x="551.3" y="1293.47" width="10.6" height="11.75" fill="#7db7f3"/>
<rect x="571.9" y="1293.47" width="10.6" height="11.75" fill="#7db7f3"/>
<rect x="613.1" y="1293.47" width="10.6" height="11.75" fill="#7db7f3"/>
<rect x="159.9" y="1304.92" width="10.6" height="11.75" fill="#2a90d8"/>
<rect x="170.2" y="1304.92" width="10.6" height="11.75" fill="#33a5f5"/>
<rect x="180.5" y="1304.92" width="10.6" height="11.75" fill="#2a90d8"/>
<rect x="190.8" y="1304.92" width="10.6" height="11.75" fill="#7db7f3"/>
<rect x="201.1" y="1304.92" width="10.6" height="11.75" fill="#2a90d8"/>
<rect x="211.4" y="1304.92" width="10.6" height="11.75" fill="#33a5f5"/>
<rect x="221.7" y="1304.92" width="10.6" height="11.75" fill="#7db7f3"/>
<rect x="232" y="1304.92" width="10.6" height="11.75" fill="#337cb6"/>
<rect x="242.3" y="1304.92" width="20.9" height="11.75" fill="#3d546e"/>
<rect x="262.9" y="1304.92" width="10.6" height="11.75" fill="#7db7f3"/>
<rect x="273.2" y="1304.92" width="10.6" height="11.75" fill="#3b6791"/>
<rect x="283.5" y="1304.92" width="10.6" height="11.75" fill="#3d546e"/>
<rect x="293.8" y="1304.92" width="10.6" height="11.75" fill="#33a5f5"/>
<rect x="304.1" y="1304.92" width="10.6" height="11.75" fill="#7db7f3"/>
<rect x="314.4" y="1304.92" width="41.5" height="11.75" fill="#3b6791"/>
<rect x="355.6" y="1304.92" width="10.6" height="11.75" fill="#337cb6"/>
<rect x="365.9" y="1304.92" width="10.6" height="11.75" fill="#33a5f5"/>
<rect x="376.2" y="1304.92" width="10.6" height="11.75" fill="#7db7f3"/>
<rect x="407.1" y="1304.92" width="10.6" height="11.75" fill="#7db7f3"/>
<rect x="438" y="1304.92" width="10.6" height="11.75" fill="#7db7f3"/>
<rect x="530.7" y="1304.92" width="10.6" height="11.75" fill="#7db7f3"/>
<rect x="149.6" y="1316.37" width="20.9" height="11.75" fill="#33a5f5"/>
<rect x="170.2" y="1316.37" width="10.6" height="11.75" fill="#7db7f3"/>
<rect x="180.5" y="1316.37" width="10.6" height="11.75" fill="#337cb6"/>
<rect x="190.8" y="1316.37" width="10.6" height="11.75" fill="#7db7f3"/>
<rect x="201.1" y="1316.37" width="10.6" height="11.75" fill="#3b6791"/>
<rect x="211.4" y="1316.37" width="10.6" height="11.75" fill="#33a5f5"/>
<rect x="232" y="1316.37" width="10.6" height="11.75" fill="#33a5f5"/>
<rect x="242.3" y="1316.37" width="20.9" height="11.75" fill="#7db7f3"/>
<rect x="262.9" y="1316.37" width="10.6" height="11.75" fill="#2a90d8"/>
<rect x="273.2" y="1316.37" width="20.9" height="11.75" fill="#3d546e"/>
<rect x="304.1" y="1316.37" width="31.2" height="11.75" fill="#33a5f5"/>
<rect x="335" y="1316.37" width="10.6" height="11.75" fill="#337cb6"/>
<rect x="345.3" y="1316.37" width="10.6" height="11.75" fill="#7db7f3"/>
<rect x="355.6" y="1316.37" width="10.6" height="11.75" fill="#2a90d8"/>
<rect x="365.9" y="1316.37" width="31.2" height="11.75" fill="#33a5f5"/>
<rect x="417.4" y="1316.37" width="10.6" height="11.75" fill="#7db7f3"/>
<rect x="438" y="1316.37" width="31.2" height="11.75" fill="#7db7f3"/>
<rect x="468.9" y="1316.37" width="10.6" height="11.75" fill="#33a5f5"/>
<rect x="489.5" y="1316.37" width="10.6" height="11.75" fill="#7db7f3"/>
<rect x="510.1" y="1316.37" width="20.9" height="11.75" fill="#7db7f3"/>
<rect x="551.3" y="1316.37" width="10.6" height="11.75" fill="#33a5f5"/>
<rect x="201.1" y="1327.82" width="10.6" height="11.75" fill="#2a90d8"/>
<rect x="211.4" y="1327.82" width="10.6" height="11.75" fill="#3b6791"/>
<rect x="232" y="1327.82" width="10.6" height="11.75" fill="#33a5f5"/>
<rect x="252.6" y="1327.82" width="20.9" height="11.75" fill="#33a5f5"/>
<rect x="273.2" y="1327.82" width="10.6" height="11.75" fill="#337cb6"/>
<rect x="283.5" y="1327.82" width="10.6" height="11.75" fill="#7db7f3"/>
<rect x="314.4" y="1327.82" width="10.6" height="11.75" fill="#7db7f3"/>
<rect x="324.7" y="1327.82" width="10.6" height="11.75" fill="#2a90d8"/>
<rect x="335" y="1327.82" width="10.6" height="11.75" fill="#7db7f3"/>
<rect x="365.9" y="1327.82" width="10.6" height="11.75" fill="#33a5f5"/>
<rect x="376.2" y="1327.82" width="10.6" height="11.75" fill="#2a90d8"/>
<rect x="386.5" y="1327.82" width="10.6" height="11.75" fill="#7db7f3"/>
<rect x="438" y="1327.82" width="10.6" height="11.75" fill="#7db7f3"/>
<rect x="530.7" y="1327.82" width="20.9" height="11.75" fill="#7db7f3"/>
<rect x="654.3" y="1327.82" width="10.6" height="11.75" fill="#33a5f5"/>
<rect x="159.9" y="1339.26" width="10.6" height="11.75" fill="#7db7f3"/>
<rect x="170.2" y="1339.26" width="10.6" height="11.75" fill="#2a90d8"/>
<rect x="180.5" y="1339.26" width="20.9" height="11.75" fill="#33a5f5"/>
<rect x="201.1" y="1339.26" width="20.9" height="11.75" fill="#3b6791"/>
<rect x="221.7" y="1339.26" width="10.6" height="11.75" fill="#337cb6"/>
<rect x="232" y="1339.26" width="10.6" height="11.75" fill="#3b6791"/>
<rect x="242.3" y="1339.26" width="10.6" height="11.75" fill="#33a5f5"/>
<rect x="252.6" y="1339.26" width="10.6" height="11.75" fill="#2a90d8"/>
<rect x="262.9" y="1339.26" width="10.6" height="11.75" fill="#337cb6"/>
<rect x="273.2" y="1339.26" width="10.6" height="11.75" fill="#33a5f5"/>
<rect x="283.5" y="1339.26" width="10.6" height="11.75" fill="#337cb6"/>
<rect x="293.8" y="1339.26" width="10.6" height="11.75" fill="#33a5f5"/>
<rect x="304.1" y="1339.26" width="10.6" height="11.75" fill="#2a90d8"/>
<rect x="314.4" y="1339.26" width="10.6" height="11.75" fill="#33a5f5"/>
<rect x="324.7" y="1339.26" width="10.6" height="11.75" fill="#3b6791"/>
<rect x="335" y="1339.26" width="20.9" height="11.75" fill="#7db7f3"/>
<rect x="355.6" y="1339.26" width="20.9" height="11.75" fill="#2a90d8"/>
<rect x="376.2" y="1339.26" width="41.5" height="11.75" fill="#7db7f3"/>
<rect x="438" y="1339.26" width="10.6" height="11.75" fill="#7db7f3"/>
<rect x="479.2" y="1339.26" width="10.6" height="11.75" fill="#7db7f3"/>
<rect x="499.8" y="1339.26" width="10.6" height="11.75" fill="#7db7f3"/>
<rect x="520.4" y="1339.26" width="10.6" height="11.75" fill="#7db7f3"/>
<rect x="551.3" y="1339.26" width="10.6" height="11.75" fill="#7db7f3"/>
<rect x="561.6" y="1339.26" width="10.6" height="11.75" fill="#33a5f5"/>
<rect x="149.6" y="1350.71" width="10.6" height="11.75" fill="#33a5f5"/>
<rect x="159.9" y="1350.71" width="10.6" height="11.75" fill="#337cb6"/>
<rect x="170.2" y="1350.71" width="10.6" height="11.75" fill="#33a5f5"/>
<rect x="180.5" y="1350.71" width="10.6" height="11.75" fill="#337cb6"/>
<rect x="190.8" y="1350.71" width="10.6" height="11.75" fill="#3d546e"/>
<rect x="201.1" y="1350.71" width="10.6" height="11.75" fill="#33a5f5"/>
<rect x="211.4" y="1350.71" width="10.6" height="11.75" fill="#3d546e"/>
<rect x="221.7" y="1350.71" width="10.6" height="11.75" fill="#337cb6"/>
<rect x="232" y="1350.71" width="10.6" height="11.75" fill="#7db7f3"/>
<rect x="252.6" y="1350.71" width="10.6" height="11.75" fill="#2a90d8"/>
<rect x="262.9" y="1350.71" width="41.5" height="11.75" fill="#33a5f5"/>
<rect x="304.1" y="1350.71" width="10.6" height="11.75" fill="#7db7f3"/>
<rect x="314.4" y="1350.71" width="10.6" height="11.75" fill="#3b6791"/>
<rect x="324.7" y="1350.71" width="10.6" height="11.75" fill="#33a5f5"/>
<rect x="335" y="1350.71" width="10.6" height="11.75" fill="#7db7f3"/>
<rect x="345.3" y="1350.71" width="10.6" height="11.75" fill="#33a5f5"/>
<rect x="355.6" y="1350.71" width="10.6" height="11.75" fill="#2a90d8"/>
<rect x="365.9" y="1350.71" width="10.6" height="11.75" fill="#337cb6"/>
<rect x="386.5" y="1350.71" width="10.6" height="11.75" fill="#7db7f3"/>
<rect x="407.1" y="1350.71" width="20.9" height="11.75" fill="#7db7f3"/>
<rect x="448.3" y="1350.71" width="10.6" height="11.75" fill="#2a90d8"/>
<rect x="458.6" y="1350.71" width="10.6" height="11.75" fill="#7db7f3"/>
<rect x="551.3" y="1350.71" width="10.6" height="11.75" fill="#7db7f3"/>
<rect x="602.8" y="1350.71" width="10.6" height="11.75" fill="#7db7f3"/>
<rect x="644" y="1350.71" width="10.6" height="11.75" fill="#7db7f3"/>
<rect x="654.3" y="1350.71" width="10.6" height="11.75" fill="#2a90d8"/>
<rect x="159.9" y="1362.16" width="10.6" height="11.75" fill="#2a90d8"/>
<rect x="180.5" y="1362.16" width="10.6" height="11.75" fill="#3d546e"/>
<rect x="190.8" y="1362.16" width="10.6" height="11.75" fill="#33a5f5"/>
<rect x="201.1" y="1362.16" width="10.6" height="11.75" fill="#337cb6"/>
<rect x="211.4" y="1362.16" width="10.6" height="11.75" fill="#7db7f3"/>
<rect x="221.7" y="1362.16" width="20.9" height="11.75" fill="#33a5f5"/>
<rect x="252.6" y="1362.16" width="10.6" height="11.75" fill="#33a5f5"/>
<rect x="262.9" y="1362.16" width="10.6" height="11.75" fill="#337cb6"/>
<rect x="273.2" y="1362.16" width="20.9" height="11.75" fill="#7db7f3"/>
<rect x="293.8" y="1362.16" width="10.6" height="11.75" fill="#33a5f5"/>
<rect x="304.1" y="1362.16" width="20.9" height="11.75" fill="#7db7f3"/>
<rect x="324.7" y="1362.16" width="10.6" height="11.75" fill="#2a90d8"/>
<rect x="335" y="1362.16" width="31.2" height="11.75" fill="#33a5f5"/>
<rect x="365.9" y="1362.16" width="10.6" height="11.75" fill="#337cb6"/>
<rect x="376.2" y="1362.16" width="20.9" height="11.75" fill="#7db7f3"/>
<rect x="396.8" y="1362.16" width="10.6" height="11.75" fill="#337cb6"/>
<rect x="427.7" y="1362.16" width="10.6" height="11.75" fill="#7db7f3"/>
<rect x="448.3" y="1362.16" width="10.6" height="11.75" fill="#7db7f3"/>
<rect x="468.9" y="1362.16" width="10.6" height="11.75" fill="#7db7f3"/>
<rect x="499.8" y="1362.16" width="41.5" height="11.75" fill="#7db7f3"/>
<rect x="551.3" y="1362.16" width="10.6" height="11.75" fill="#7db7f3"/>
<rect x="561.6" y="1362.16" width="10.6" height="11.75" fill="#33a5f5"/>
<rect x="571.9" y="1362.16" width="10.6" height="11.75" fill="#7db7f3"/>
<rect x="602.8" y="1362.16" width="10.6" height="11.75" fill="#33a5f5"/>
<rect x="613.1" y="1362.16" width="20.9" height="11.75" fill="#7db7f3"/>
<rect x="633.7" y="1362.16" width="10.6" height="11.75" fill="#2a90d8"/>
<rect x="654.3" y="1362.16" width="10.6" height="11.75" fill="#7db7f3"/>
<rect x="170.2" y="1373.6" width="20.9" height="11.75" fill="#7db7f3"/>
<rect x="190.8" y="1373.6" width="10.6" height="11.75" fill="#2a90d8"/>
<rect x="201.1" y="1373.6" width="10.6" height="11.75" fill="#7db7f3"/>
<rect x="211.4" y="1373.6" width="10.6" height="11.75" fill="#337cb6"/>
<rect x="232" y="1373.6" width="51.8" height="11.75" fill="#7db7f3"/>
<rect x="283.5" y="1373.6" width="10.6" height="11.75" fill="#2a90d8"/>
<rect x="293.8" y="1373.6" width="31.2" height="11.75" fill="#7db7f3"/>
<rect x="324.7" y="1373.6" width="10.6" height="11.75" fill="#33a5f5"/>
<rect x="345.3" y="1373.6" width="10.6" height="11.75" fill="#7db7f3"/>
<rect x="355.6" y="1373.6" width="10.6" height="11.75" fill="#33a5f5"/>
<rect x="365.9" y="1373.6" width="10.6" height="11.75" fill="#7db7f3"/>
<rect x="386.5" y="1373.6" width="31.2" height="11.75" fill="#7db7f3"/>
<rect x="448.3" y="1373.6" width="10.6" height="11.75" fill="#7db7f3"/>
<rect x="468.9" y="1373.6" width="10.6" height="11.75" fill="#33a5f5"/>
<rect x="541" y="1373.6" width="10.6" height="11.75" fill="#7db7f3"/>
<rect x="551.3" y="1373.6" width="20.9" height="11.75" fill="#33a5f5"/>
<rect x="592.5" y="1373.6" width="20.9" height="11.75" fill="#7db7f3"/>
<rect x="613.1" y="1373.6" width="10.6" height="11.75" fill="#33a5f5"/>
<rect x="633.7" y="1373.6" width="10.6" height="11.75" fill="#7db7f3"/>
<rect x="654.3" y="1373.6" width="10.6" height="11.75" fill="#7db7f3"/>
</g>
<rect x="114.1" y="1391.1" width="9.6" height="2.2"/>
<text x="104.5" y="1402.5" text-anchor="end">0.0</text>
<rect x="114.1" y="1272.7" width="9.6" height="2.2"/>
<text x="104.5" y="1284.1" text-anchor="end">0.2</text>
<rect x="114.1" y="1154.3" width="9.6" height="2.2"/>
<text x="104.5" y="1165.7" text-anchor="end">0.4</text>
<rect x="114.1" y="1035.9" width="9.6" height="2.2"/>
<text x="104.5" y="1047.3" text-anchor="end">0.6</text>
<rect x="114.1" y="917.5" width="9.6" height="2.2"/>
<text x="104.5" y="928.9" text-anchor="end">0.8</text>
<rect x="114.1" y="799.1" width="9.6" height="2.2"/>
<text x="104.5" y="810.5" text-anchor="end">1.0</text>
<rect x="147.1" y="1413.3" width="2.2" height="9.6"/>
<text x="148.2" y="1452.6" text-anchor="middle">0.0</text>
<rect x="252.5" y="1413.3" width="2.2" height="9.6"/>
<text x="253.6" y="1452.6" text-anchor="middle">0.2</text>
<rect x="357.9" y="1413.3" width="2.2" height="9.6"/>
<text x="359" y="1452.6" text-anchor="middle">0.4</text>
<rect x="463.3" y="1413.3" width="2.2" height="9.6"/>
<text x="464.4" y="1452.6" text-anchor="middle">0.6</text>
<rect x="568.7" y="1413.3" width="2.2" height="9.6"/>
<text x="569.8" y="1452.6" text-anchor="middle">0.8</text>
<rect x="674.1" y="1413.3" width="2.2" height="9.6"/>
<text x="675.2" y="1452.6" text-anchor="middle">1.0</text>
<text x="408.4" y="1489" text-anchor="middle">x</text>
<text transform="translate(44 1099.6) rotate(-90)" text-anchor="middle">y</text>
<g>
<rect x="1211.3" y="812.9" width="10.6" height="11.76" fill="#97c0f0"/>
<rect x="1201" y="847.28" width="10.6" height="11.76" fill="#97c0f0"/>
<rect x="1231.9" y="847.28" width="10.6" height="11.76" fill="#97c0f0"/>
<rect x="1262.8" y="847.28" width="10.6" height="11.76" fill="#97c0f0"/>
<rect x="1273.1" y="858.74" width="10.6" height="11.76" fill="#97c0f0"/>
<rect x="1139.2" y="870.2" width="10.6" height="11.76" fill="#97c0f0"/>
<rect x="1180.4" y="881.66" width="20.9" height="11.76" fill="#97c0f0"/>
<rect x="1211.3" y="881.66" width="10.6" height="11.76" fill="#97c0f0"/>
<rect x="1242.2" y="881.66" width="10.6" height="11.76" fill="#97c0f0"/>
<rect x="1128.9" y="893.12" width="10.6" height="11.76" fill="#97c0f0"/>
<rect x="1159.8" y="893.12" width="10.6" height="11.76" fill="#97c0f0"/>
<rect x="1180.4" y="893.12" width="10.6" height="11.76" fill="#97c0f0"/>
<rect x="1221.6" y="893.12" width="20.9" height="11.76" fill="#97c0f0"/>
<rect x="1252.5" y="893.12" width="10.6" height="11.76" fill="#97c0f0"/>
<rect x="1283.4" y="893.12" width="10.6" height="11.76" fill="#97c0f0"/>
<rect x="1304" y="893.12" width="10.6" height="11.76" fill="#97c0f0"/>
<rect x="1046.5" y="904.58" width="10.6" height="11.76" fill="#97c0f0"/>
<rect x="1128.9" y="904.58" width="20.9" height="11.76" fill="#97c0f0"/>
<rect x="1159.8" y="904.58" width="10.6" height="11.76" fill="#97c0f0"/>
<rect x="1180.4" y="904.58" width="10.6" height="11.76" fill="#97c0f0"/>
<rect x="1201" y="904.58" width="20.9" height="11.76" fill="#97c0f0"/>
<rect x="1231.9" y="904.58" width="20.9" height="11.76" fill="#97c0f0"/>
<rect x="1098" y="916.04" width="10.6" height="11.76" fill="#97c0f0"/>
<rect x="1118.6" y="916.04" width="20.9" height="11.76" fill="#97c0f0"/>
<rect x="1149.5" y="916.04" width="20.9" height="11.76" fill="#97c0f0"/>
<rect x="1180.4" y="916.04" width="31.2" height="11.76" fill="#97c0f0"/>
<rect x="1221.6" y="916.04" width="62.1" height="11.76" fill="#97c0f0"/>
<rect x="1077.4" y="927.5" width="10.6" height="11.76" fill="#97c0f0"/>
<rect x="1128.9" y="927.5" width="10.6" height="11.76" fill="#97c0f0"/>
<rect x="1149.5" y="927.5" width="31.2" height="11.76" fill="#97c0f0"/>
<rect x="1190.7" y="927.5" width="10.6" height="11.76" fill="#97c0f0"/>
<rect x="1231.9" y="927.5" width="10.6" height="11.76" fill="#97c0f0"/>
<rect x="1252.5" y="927.5" width="10.6" height="11.76" fill="#97c0f0"/>
<rect x="1273.1" y="927.5" width="10.6" height="11.76" fill="#97c0f0"/>
<rect x="1293.7" y="927.5" width="20.9" height="11.76" fill="#97c0f0"/>
<rect x="1355.5" y="927.5" width="10.6" height="11.76" fill="#97c0f0"/>
<rect x="1087.7" y="938.96" width="10.6" height="11.76" fill="#97c0f0"/>
<rect x="1108.3" y="938.96" width="10.6" height="11.76" fill="#77b5f4"/>
<rect x="1128.9" y="938.96" width="31.2" height="11.76" fill="#97c0f0"/>
<rect x="1159.8" y="938.96" width="10.6" height="11.76" fill="#2a90d8"/>
<rect x="1180.4" y="938.96" width="20.9" height="11.76" fill="#77b5f4"/>
<rect x="1201" y="938.96" width="10.6" height="11.76" fill="#2a90d8"/>
<rect x="1211.3" y="938.96" width="10.6" height="11.76" fill="#77b5f4"/>
<rect x="1221.6" y="938.96" width="20.9" height="11.76" fill="#32a4f4"/>
<rect x="1273.1" y="938.96" width="10.6" height="11.76" fill="#77b5f4"/>
<rect x="1283.4" y="938.96" width="10.6" height="11.76" fill="#97c0f0"/>
<rect x="1087.7" y="950.42" width="10.6" height="11.76" fill="#97c0f0"/>
<rect x="1108.3" y="950.42" width="10.6" height="11.76" fill="#97c0f0"/>
<rect x="1149.5" y="950.42" width="10.6" height="11.76" fill="#97c0f0"/>
<rect x="1159.8" y="950.42" width="10.6" height="11.76" fill="#32a4f4"/>
<rect x="1180.4" y="950.42" width="10.6" height="11.76" fill="#77b5f4"/>
<rect x="1201" y="950.42" width="20.9" height="11.76" fill="#77b5f4"/>
<rect x="1231.9" y="950.42" width="10.6" height="11.76" fill="#97c0f0"/>
<rect x="1252.5" y="950.42" width="10.6" height="11.76" fill="#97c0f0"/>
<rect x="1283.4" y="950.42" width="10.6" height="11.76" fill="#97c0f0"/>
<rect x="1128.9" y="961.88" width="10.6" height="11.76" fill="#77b5f4"/>
<rect x="1149.5" y="961.88" width="10.6" height="11.76" fill="#97c0f0"/>
<rect x="1170.1" y="961.88" width="10.6" height="11.76" fill="#97c0f0"/>
<rect x="1180.4" y="961.88" width="10.6" height="11.76" fill="#2a90d8"/>
<rect x="1190.7" y="961.88" width="10.6" height="11.76" fill="#97c0f0"/>
<rect x="1201" y="961.88" width="20.9" height="11.76" fill="#77b5f4"/>
<rect x="1242.2" y="961.88" width="10.6" height="11.76" fill="#97c0f0"/>
<rect x="1252.5" y="961.88" width="20.9" height="11.76" fill="#77b5f4"/>
<rect x="1273.1" y="961.88" width="10.6" height="11.76" fill="#97c0f0"/>
<rect x="1293.7" y="961.88" width="10.6" height="11.76" fill="#97c0f0"/>
<rect x="1067.1" y="973.34" width="10.6" height="11.76" fill="#97c0f0"/>
<rect x="1108.3" y="973.34" width="20.9" height="11.76" fill="#77b5f4"/>
<rect x="1128.9" y="973.34" width="10.6" height="11.76" fill="#32a4f4"/>
<rect x="1139.2" y="973.34" width="10.6" height="11.76" fill="#77b5f4"/>
<rect x="1149.5" y="973.34" width="10.6" height="11.76" fill="#97c0f0"/>
<rect x="1159.8" y="973.34" width="10.6" height="11.76" fill="#347ab3"/>
<rect x="1170.1" y="973.34" width="20.9" height="11.76" fill="#2a90d8"/>
<rect x="1190.7" y="973.34" width="10.6" height="11.76" fill="#97c0f0"/>
<rect x="1201" y="973.34" width="10.6" height="11.76" fill="#32a4f4"/>
<rect x="1211.3" y="973.34" width="20.9" height="11.76" fill="#97c0f0"/>
<rect x="1231.9" y="973.34" width="10.6" height="11.76" fill="#77b5f4"/>
<rect x="1242.2" y="973.34" width="10.6" height="11.76" fill="#97c0f0"/>
<rect x="1252.5" y="973.34" width="10.6" height="11.76" fill="#32a4f4"/>
<rect x="1273.1" y="973.34" width="20.9" height="11.76" fill="#97c0f0"/>
<rect x="1304" y="973.34" width="10.6" height="11.76" fill="#77b5f4"/>
<rect x="974.4" y="984.8" width="10.6" height="11.76" fill="#97c0f0"/>
<rect x="995" y="984.8" width="10.6" height="11.76" fill="#97c0f0"/>
<rect x="1108.3" y="984.8" width="10.6" height="11.76" fill="#77b5f4"/>
<rect x="1128.9" y="984.8" width="10.6" height="11.76" fill="#77b5f4"/>
<rect x="1139.2" y="984.8" width="20.9" height="11.76" fill="#97c0f0"/>
<rect x="1159.8" y="984.8" width="10.6" height="11.76" fill="#32a4f4"/>
<rect x="1170.1" y="984.8" width="10.6" height="11.76" fill="#77b5f4"/>
<rect x="1180.4" y="984.8" width="10.6" height="11.76" fill="#2a90d8"/>
<rect x="1190.7" y="984.8" width="10.6" height="11.76" fill="#97c0f0"/>
<rect x="1201" y="984.8" width="10.6" height="11.76" fill="#32a4f4"/>
<rect x="1211.3" y="984.8" width="31.2" height="11.76" fill="#97c0f0"/>
<rect x="1252.5" y="984.8" width="10.6" height="11.76" fill="#77b5f4"/>
<rect x="1262.8" y="984.8" width="20.9" height="11.76" fill="#97c0f0"/>
<rect x="1293.7" y="984.8" width="10.6" height="11.76" fill="#97c0f0"/>
<rect x="1036.2" y="996.26" width="10.6" height="11.76" fill="#97c0f0"/>
<rect x="1077.4" y="996.26" width="10.6" height="11.76" fill="#97c0f0"/>
<rect x="1087.7" y="996.26" width="31.2" height="11.76" fill="#77b5f4"/>
<rect x="1128.9" y="996.26" width="10.6" height="11.76" fill="#32a4f4"/>
<rect x="1139.2" y="996.26" width="10.6" height="11.76" fill="#77b5f4"/>
<rect x="1149.5" y="996.26" width="31.2" height="11.76" fill="#2a90d8"/>
<rect x="1180.4" y="996.26" width="10.6" height="11.76" fill="#347ab3"/>
<rect x="1190.7" y="996.26" width="20.9" height="11.76" fill="#2a90d8"/>
<rect x="1211.3" y="996.26" width="10.6" height="11.76" fill="#32a4f4"/>
<rect x="1221.6" y="996.26" width="10.6" height="11.76" fill="#77b5f4"/>
<rect x="1231.9" y="996.26" width="10.6" height="11.76" fill="#2a90d8"/>
<rect x="1242.2" y="996.26" width="20.9" height="11.76" fill="#77b5f4"/>
<rect x="1262.8" y="996.26" width="31.2" height="11.76" fill="#97c0f0"/>
<rect x="1304" y="996.26" width="10.6" height="11.76" fill="#97c0f0"/>
<rect x="1324.6" y="996.26" width="10.6" height="11.76" fill="#97c0f0"/>
<rect x="1067.1" y="1007.72" width="20.9" height="11.76" fill="#97c0f0"/>
<rect x="1087.7" y="1007.72" width="10.6" height="11.76" fill="#77b5f4"/>
<rect x="1108.3" y="1007.72" width="20.9" height="11.76" fill="#32a4f4"/>
<rect x="1128.9" y="1007.72" width="10.6" height="11.76" fill="#77b5f4"/>
<rect x="1149.5" y="1007.72" width="10.6" height="11.76" fill="#77b5f4"/>
<rect x="1159.8" y="1007.72" width="10.6" height="11.76" fill="#347ab3"/>
<rect x="1170.1" y="1007.72" width="10.6" height="11.76" fill="#77b5f4"/>
<rect x="1180.4" y="1007.72" width="31.2" height="11.76" fill="#32a4f4"/>
<rect x="1211.3" y="1007.72" width="10.6" height="11.76" fill="#77b5f4"/>
<rect x="1221.6" y="1007.72" width="10.6" height="11.76" fill="#97c0f0"/>
<rect x="1231.9" y="1007.72" width="20.9" height="11.76" fill="#77b5f4"/>
<rect x="1262.8" y="1007.72" width="20.9" height="11.76" fill="#97c0f0"/>
<rect x="1334.9" y="1007.72" width="10.6" height="11.76" fill="#97c0f0"/>
<rect x="1067.1" y="1019.18" width="10.6" height="11.76" fill="#97c0f0"/>
<rect x="1087.7" y="1019.18" width="10.6" height="11.76" fill="#77b5f4"/>
<rect x="1098" y="1019.18" width="41.5" height="11.76" fill="#32a4f4"/>
<rect x="1139.2" y="1019.18" width="31.2" height="11.76" fill="#2a90d8"/>
<rect x="1170.1" y="1019.18" width="10.6" height="11.76" fill="#32a4f4"/>
<rect x="1180.4" y="1019.18" width="10.6" height="11.76" fill="#2a90d8"/>
<rect x="1190.7" y="1019.18" width="10.6" height="11.76" fill="#97c0f0"/>
<rect x="1201" y="1019.18" width="10.6" height="11.76" fill="#347ab3"/>
<rect x="1211.3" y="1019.18" width="10.6" height="11.76" fill="#77b5f4"/>
<rect x="1221.6" y="1019.18" width="10.6" height="11.76" fill="#32a4f4"/>
<rect x="1231.9" y="1019.18" width="20.9" height="11.76" fill="#77b5f4"/>
<rect x="1252.5" y="1019.18" width="62.1" height="11.76" fill="#97c0f0"/>
<rect x="1067.1" y="1030.64" width="20.9" height="11.76" fill="#97c0f0"/>
<rect x="1087.7" y="1030.64" width="10.6" height="11.76" fill="#2a90d8"/>
<rect x="1098" y="1030.64" width="10.6" height="11.76" fill="#97c0f0"/>
<rect x="1108.3" y="1030.64" width="20.9" height="11.76" fill="#2a90d8"/>
<rect x="1128.9" y="1030.64" width="20.9" height="11.76" fill="#347ab3"/>
<rect x="1149.5" y="1030.64" width="10.6" height="11.76" fill="#2a90d8"/>
<rect x="1159.8" y="1030.64" width="10.6" height="11.76" fill="#3d6287"/>
<rect x="1170.1" y="1030.64" width="10.6" height="11.76" fill="#32a4f4"/>
<rect x="1180.4" y="1030.64" width="10.6" height="11.76" fill="#3d6287"/>
<rect x="1190.7" y="1030.64" width="10.6" height="11.76" fill="#2a90d8"/>
<rect x="1201" y="1030.64" width="10.6" height="11.76" fill="#3d6287"/>
<rect x="1211.3" y="1030.64" width="10.6" height="11.76" fill="#2a90d8"/>
<rect x="1221.6" y="1030.64" width="10.6" height="11.76" fill="#77b5f4"/>
<rect x="1231.9" y="1030.64" width="20.9" height="11.76" fill="#2a90d8"/>
<rect x="1252.5" y="1030.64" width="20.9" height="11.76" fill="#97c0f0"/>
<rect x="1273.1" y="1030.64" width="10.6" height="11.76" fill="#32a4f4"/>
<rect x="1283.4" y="1030.64" width="10.6" height="11.76" fill="#97c0f0"/>
<rect x="1293.7" y="1030.64" width="10.6" height="11.76" fill="#77b5f4"/>
<rect x="1345.2" y="1030.64" width="10.6" height="11.76" fill="#97c0f0"/>
<rect x="1386.4" y="1030.64" width="10.6" height="11.76" fill="#97c0f0"/>
<rect x="1077.4" y="1042.1" width="31.2" height="11.76" fill="#97c0f0"/>
<rect x="1108.3" y="1042.1" width="20.9" height="11.76" fill="#77b5f4"/>
<rect x="1128.9" y="1042.1" width="20.9" height="11.76" fill="#32a4f4"/>
<rect x="1149.5" y="1042.1" width="10.6" height="11.76" fill="#77b5f4"/>
<rect x="1159.8" y="1042.1" width="10.6" height="11.76" fill="#2a90d8"/>
<rect x="1170.1" y="1042.1" width="10.6" height="11.76" fill="#32a4f4"/>
<rect x="1180.4" y="1042.1" width="10.6" height="11.76" fill="#2a90d8"/>
<rect x="1190.7" y="1042.1" width="31.2" height="11.76" fill="#32a4f4"/>
<rect x="1221.6" y="1042.1" width="10.6" height="11.76" fill="#77b5f4"/>
<rect x="1231.9" y="1042.1" width="20.9" height="11.76" fill="#32a4f4"/>
<rect x="1252.5" y="1042.1" width="10.6" height="11.76" fill="#77b5f4"/>
<rect x="1262.8" y="1042.1" width="10.6" height="11.76" fill="#97c0f0"/>
<rect x="1273.1" y="1042.1" width="10.6" height="11.76" fill="#77b5f4"/>
<rect x="1324.6" y="1042.1" width="10.6" height="11.76" fill="#97c0f0"/>
<rect x="1345.2" y="1042.1" width="20.9" height="11.76" fill="#97c0f0"/>
<rect x="1005.3" y="1053.56" width="20.9" height="11.76" fill="#97c0f0"/>
<rect x="1067.1" y="1053.56" width="20.9" height="11.76" fill="#97c0f0"/>
<rect x="1087.7" y="1053.56" width="10.6" height="11.76" fill="#2a90d8"/>
<rect x="1098" y="1053.56" width="10.6" height="11.76" fill="#77b5f4"/>
<rect x="1108.3" y="1053.56" width="20.9" height="11.76" fill="#2a90d8"/>
<rect x="1128.9" y="1053.56" width="10.6" height="11.76" fill="#347ab3"/>
<rect x="1139.2" y="1053.56" width="10.6" height="11.76" fill="#3d6287"/>
<rect x="1149.5" y="1053.56" width="10.6" height="11.76" fill="#347ab3"/>
<rect x="1159.8" y="1053.56" width="31.2" height="11.76" fill="#3d6287"/>
<rect x="1190.7" y="1053.56" width="10.6" height="11.76" fill="#347ab3"/>
<rect x="1201" y="1053.56" width="10.6" height="11.76" fill="#3d6287"/>
<rect x="1211.3" y="1053.56" width="10.6" height="11.76" fill="#77b5f4"/>
<rect x="1221.6" y="1053.56" width="10.6" height="11.76" fill="#2a90d8"/>
<rect x="1231.9" y="1053.56" width="31.2" height="11.76" fill="#32a4f4"/>
<rect x="1262.8" y="1053.56" width="10.6" height="11.76" fill="#2a90d8"/>
<rect x="1273.1" y="1053.56" width="10.6" height="11.76" fill="#97c0f0"/>
<rect x="1293.7" y="1053.56" width="20.9" height="11.76" fill="#97c0f0"/>
<rect x="1355.5" y="1053.56" width="10.6" height="11.76" fill="#97c0f0"/>
<rect x="984.7" y="1065.02" width="10.6" height="11.76" fill="#97c0f0"/>
<rect x="1046.5" y="1065.02" width="31.2" height="11.76" fill="#97c0f0"/>
<rect x="1087.7" y="1065.02" width="20.9" height="11.76" fill="#77b5f4"/>
<rect x="1108.3" y="1065.02" width="10.6" height="11.76" fill="#347ab3"/>
<rect x="1118.6" y="1065.02" width="10.6" height="11.76" fill="#97c0f0"/>
<rect x="1128.9" y="1065.02" width="10.6" height="11.76" fill="#347ab3"/>
<rect x="1139.2" y="1065.02" width="10.6" height="11.76" fill="#32a4f4"/>
<rect x="1149.5" y="1065.02" width="10.6" height="11.76" fill="#347ab3"/>
<rect x="1159.8" y="1065.02" width="10.6" height="11.76" fill="#32a4f4"/>
<rect x="1170.1" y="1065.02" width="10.6" height="11.76" fill="#97c0f0"/>
<rect x="1180.4" y="1065.02" width="10.6" height="11.76" fill="#347ab3"/>
<rect x="1190.7" y="1065.02" width="10.6" height="11.76" fill="#32a4f4"/>
<rect x="1201" y="1065.02" width="10.6" height="11.76" fill="#2a90d8"/>
<rect x="1211.3" y="1065.02" width="10.6" height="11.76" fill="#77b5f4"/>
<rect x="1221.6" y="1065.02" width="10.6" height="11.76" fill="#32a4f4"/>
<rect x="1231.9" y="1065.02" width="10.6" height="11.76" fill="#77b5f4"/>
<rect x="1242.2" y="1065.02" width="20.9" height="11.76" fill="#97c0f0"/>
<rect x="1304" y="1065.02" width="10.6" height="11.76" fill="#97c0f0"/>
<rect x="1036.2" y="1076.48" width="41.5" height="11.76" fill="#97c0f0"/>
<rect x="1087.7" y="1076.48" width="20.9" height="11.76" fill="#32a4f4"/>
<rect x="1108.3" y="1076.48" width="10.6" height="11.76" fill="#347ab3"/>
<rect x="1118.6" y="1076.48" width="10.6" height="11.76" fill="#2a90d8"/>
<rect x="1128.9" y="1076.48" width="41.5" height="11.76" fill="#3d6287"/>
<rect x="1170.1" y="1076.48" width="10.6" height="11.76" fill="#2a90d8"/>
<rect x="1180.4" y="1076.48" width="10.6" height="11.76" fill="#3d6287"/>
<rect x="1190.7" y="1076.48" width="10.6" height="11.76" fill="#77b5f4"/>
<rect x="1201" y="1076.48" width="10.6" height="11.76" fill="#3d6287"/>
<rect x="1211.3" y="1076.48" width="20.9" height="11.76" fill="#77b5f4"/>
<rect x="1231.9" y="1076.48" width="10.6" height="11.76" fill="#2a90d8"/>
<rect x="1242.2" y="1076.48" width="10.6" height="11.76" fill="#97c0f0"/>
<rect x="1252.5" y="1076.48" width="10.6" height="11.76" fill="#32a4f4"/>
<rect x="1262.8" y="1076.48" width="10.6" height="11.76" fill="#97c0f0"/>
<rect x="1273.1" y="1076.48" width="10.6" height="11.76" fill="#32a4f4"/>
<rect x="1283.4" y="1076.48" width="20.9" height="11.76" fill="#97c0f0"/>
<rect x="1314.3" y="1076.48" width="10.6" height="11.76" fill="#97c0f0"/>
<rect x="1365.8" y="1076.48" width="10.6" height="11.76" fill="#97c0f0"/>
<rect x="1046.5" y="1087.94" width="10.6" height="11.76" fill="#97c0f0"/>
<rect x="1067.1" y="1087.94" width="20.9" height="11.76" fill="#97c0f0"/>
<rect x="1087.7" y="1087.94" width="20.9" height="11.76" fill="#77b5f4"/>
<rect x="1108.3" y="1087.94" width="20.9" height="11.76" fill="#32a4f4"/>
<rect x="1128.9" y="1087.94" width="10.6" height="11.76" fill="#2a90d8"/>
<rect x="1139.2" y="1087.94" width="31.2" height="11.76" fill="#32a4f4"/>
<rect x="1170.1" y="1087.94" width="10.6" height="11.76" fill="#97c0f0"/>
<rect x="1180.4" y="1087.94" width="10.6" height="11.76" fill="#2a90d8"/>
<rect x="1190.7" y="1087.94" width="10.6" height="11.76" fill="#77b5f4"/>
<rect x="1201" y="1087.94" width="10.6" height="11.76" fill="#32a4f4"/>
<rect x="1211.3" y="1087.94" width="31.2" height="11.76" fill="#77b5f4"/>
<rect x="1252.5" y="1087.94" width="10.6" height="11.76" fill="#97c0f0"/>
<rect x="1273.1" y="1087.94" width="10.6" height="11.76" fill="#77b5f4"/>
<rect x="1293.7" y="1087.94" width="10.6" height="11.76" fill="#97c0f0"/>
<rect x="1314.3" y="1087.94" width="10.6" height="11.76" fill="#97c0f0"/>
<rect x="1015.6" y="1099.4" width="20.9" height="11.76" fill="#97c0f0"/>
<rect x="1067.1" y="1099.4" width="20.9" height="11.76" fill="#97c0f0"/>
<rect x="1087.7" y="1099.4" width="10.6" height="11.76" fill="#32a4f4"/>
<rect x="1098" y="1099.4" width="10.6" height="11.76" fill="#97c0f0"/>
<rect x="1108.3" y="1099.4" width="10.6" height="11.76" fill="#2a90d8"/>
<rect x="1118.6" y="1099.4" width="20.9" height="11.76" fill="#32a4f4"/>
<rect x="1139.2" y="1099.4" width="10.6" height="11.76" fill="#77b5f4"/>
<rect x="1149.5" y="1099.4" width="20.9" height="11.76" fill="#32a4f4"/>
<rect x="1170.1" y="1099.4" width="20.9" height="11.76" fill="#97c0f0"/>
<rect x="1190.7" y="1099.4" width="10.6" height="11.76" fill="#77b5f4"/>
<rect x="1201" y="1099.4" width="10.6" height="11.76" fill="#2a90d8"/>
<rect x="1211.3" y="1099.4" width="31.2" height="11.76" fill="#97c0f0"/>
<rect x="1242.2" y="1099.4" width="10.6" height="11.76" fill="#77b5f4"/>
<rect x="1293.7" y="1099.4" width="10.6" height="11.76" fill="#97c0f0"/>
<rect x="1324.6" y="1099.4" width="10.6" height="11.76" fill="#97c0f0"/>
<rect x="1025.9" y="1110.86" width="20.9" height="11.76" fill="#97c0f0"/>
<rect x="1067.1" y="1110.86" width="10.6" height="11.76" fill="#32a4f4"/>
<rect x="1077.4" y="1110.86" width="10.6" height="11.76" fill="#77b5f4"/>
<rect x="1087.7" y="1110.86" width="10.6" height="11.76" fill="#3d6287"/>
<rect x="1098" y="1110.86" width="10.6" height="11.76" fill="#32a4f4"/>
<rect x="1108.3" y="1110.86" width="10.6" height="11.76" fill="#2a90d8"/>
<rect x="1118.6" y="1110.86" width="31.2" height="11.76" fill="#347ab3"/>
<rect x="1149.5" y="1110.86" width="10.6" height="11.76" fill="#32a4f4"/>
<rect x="1159.8" y="1110.86" width="10.6" height="11.76" fill="#3d6287"/>
<rect x="1170.1" y="1110.86" width="20.9" height="11.76" fill="#32a4f4"/>
<rect x="1190.7" y="1110.86" width="10.6" height="11.76" fill="#77b5f4"/>
<rect x="1201" y="1110.86" width="10.6" height="11.76" fill="#347ab3"/>
<rect x="1221.6" y="1110.86" width="10.6" height="11.76" fill="#77b5f4"/>
<rect x="1231.9" y="1110.86" width="10.6" height="11.76" fill="#32a4f4"/>
<rect x="1242.2" y="1110.86" width="20.9" height="11.76" fill="#97c0f0"/>
<rect x="1273.1" y="1110.86" width="10.6" height="11.76" fill="#77b5f4"/>
<rect x="1293.7" y="1110.86" width="10.6" height="11.76" fill="#97c0f0"/>
<rect x="1025.9" y="1122.32" width="20.9" height="11.76" fill="#97c0f0"/>
<rect x="1067.1" y="1122.32" width="20.9" height="11.76" fill="#97c0f0"/>
<rect x="1087.7" y="1122.32" width="10.6" height="11.76" fill="#77b5f4"/>
<rect x="1108.3" y="1122.32" width="10.6" height="11.76" fill="#32a4f4"/>
<rect x="1118.6" y="1122.32" width="51.8" height="11.76" fill="#77b5f4"/>
<rect x="1170.1" y="1122.32" width="31.2" height="11.76" fill="#97c0f0"/>
<rect x="1201" y="1122.32" width="10.6" height="11.76" fill="#32a4f4"/>
<rect x="1211.3" y="1122.32" width="31.2" height="11.76" fill="#97c0f0"/>
<rect x="1252.5" y="1122.32" width="10.6" height="11.76" fill="#97c0f0"/>
<rect x="1293.7" y="1122.32" width="10.6" height="11.76" fill="#97c0f0"/>
<rect x="1005.3" y="1133.78" width="10.6" height="11.76" fill="#97c0f0"/>
<rect x="1025.9" y="1133.78" width="10.6" height="11.76" fill="#97c0f0"/>
<rect x="1056.8" y="1133.78" width="31.2" height="11.76" fill="#97c0f0"/>
<rect x="1087.7" y="1133.78" width="10.6" height="11.76" fill="#32a4f4"/>
<rect x="1098" y="1133.78" width="10.6" height="11.76" fill="#97c0f0"/>
<rect x="1108.3" y="1133.78" width="10.6" height="11.76" fill="#32a4f4"/>
<rect x="1118.6" y="1133.78" width="20.9" height="11.76" fill="#77b5f4"/>
<rect x="1139.2" y="1133.78" width="10.6" height="11.76" fill="#2a90d8"/>
<rect x="1149.5" y="1133.78" width="10.6" height="11.76" fill="#97c0f0"/>
<rect x="1159.8" y="1133.78" width="10.6" height="11.76" fill="#347ab3"/>
<rect x="1180.4" y="1133.78" width="20.9" height="11.76" fill="#32a4f4"/>
<rect x="1201" y="1133.78" width="10.6" height="11.76" fill="#2a90d8"/>
<rect x="1211.3" y="1133.78" width="10.6" height="11.76" fill="#97c0f0"/>
<rect x="1231.9" y="1133.78" width="10.6" height="11.76" fill="#77b5f4"/>
<rect x="1242.2" y="1133.78" width="41.5" height="11.76" fill="#97c0f0"/>
<rect x="1293.7" y="1133.78" width="10.6" height="11.76" fill="#97c0f0"/>
<rect x="995" y="1145.24" width="10.6" height="11.76" fill="#97c0f0"/>
<rect x="1067.1" y="1145.24" width="20.9" height="11.76" fill="#97c0f0"/>
<rect x="1087.7" y="1145.24" width="10.6" height="11.76" fill="#77b5f4"/>
<rect x="1108.3" y="1145.24" width="10.6" height="11.76" fill="#2a90d8"/>
<rect x="1118.6" y="1145.24" width="31.2" height="11.76" fill="#77b5f4"/>
<rect x="1159.8" y="1145.24" width="10.6" height="11.76" fill="#77b5f4"/>
<rect x="1180.4" y="1145.24" width="10.6" height="11.76" fill="#97c0f0"/>
<rect x="1201" y="1145.24" width="10.6" height="11.76" fill="#97c0f0"/>
<rect x="1221.6" y="1145.24" width="20.9" height="11.76" fill="#97c0f0"/>
<rect x="1252.5" y="1145.24" width="20.9" height="11.76" fill="#97c0f0"/>
<rect x="995" y="1156.7" width="72.4" height="11.76" fill="#97c0f0"/>
<rect x="1067.1" y="1156.7" width="20.9" height="11.76" fill="#77b5f4"/>
<rect x="1087.7" y="1156.7" width="10.6" height="11.76" fill="#32a4f4"/>
<rect x="1108.3" y="1156.7" width="10.6" height="11.76" fill="#2a90d8"/>
<rect x="1118.6" y="1156.7" width="10.6" height="11.76" fill="#97c0f0"/>
<rect x="1128.9" y="1156.7" width="20.9" height="11.76" fill="#32a4f4"/>
<rect x="1149.5" y="1156.7" width="10.6" height="11.76" fill="#97c0f0"/>
<rect x="1159.8" y="1156.7" width="10.6" height="11.76" fill="#77b5f4"/>
<rect x="1190.7" y="1156.7" width="10.6" height="11.76" fill="#32a4f4"/>
<rect x="1201" y="1156.7" width="10.6" height="11.76" fill="#77b5f4"/>
<rect x="1211.3" y="1156.7" width="10.6" height="11.76" fill="#97c0f0"/>
<rect x="1231.9" y="1156.7" width="10.6" height="11.76" fill="#97c0f0"/>
<rect x="1252.5" y="1156.7" width="10.6" height="11.76" fill="#97c0f0"/>
<rect x="1015.6" y="1168.16" width="10.6" height="11.76" fill="#97c0f0"/>
<rect x="1067.1" y="1168.16" width="20.9" height="11.76" fill="#97c0f0"/>
<rect x="1087.7" y="1168.16" width="31.2" height="11.76" fill="#77b5f4"/>
<rect x="1128.9" y="1168.16" width="31.2" height="11.76" fill="#97c0f0"/>
<rect x="1170.1" y="1168.16" width="10.6" height="11.76" fill="#97c0f0"/>
<rect x="1190.7" y="1168.16" width="20.9" height="11.76" fill="#97c0f0"/>
<rect x="1252.5" y="1168.16" width="10.6" height="11.76" fill="#97c0f0"/>
<rect x="1015.6" y="1179.62" width="10.6" height="11.76" fill="#97c0f0"/>
<rect x="1036.2" y="1179.62" width="20.9" height="11.76" fill="#97c0f0"/>
<rect x="1067.1" y="1179.62" width="31.2" height="11.76" fill="#97c0f0"/>
<rect x="1098" y="1179.62" width="10.6" height="11.76" fill="#77b5f4"/>
<rect x="1108.3" y="1179.62" width="20.9" height="11.76" fill="#97c0f0"/>
<rect x="1159.8" y="1179.62" width="10.6" height="11.76" fill="#97c0f0"/>
<rect x="1036.2" y="1191.08" width="10.6" height="11.76" fill="#77b5f4"/>
<rect x="1046.5" y="1191.08" width="20.9" height="11.76" fill="#97c0f0"/>
<rect x="1067.1" y="1191.08" width="10.6" height="11.76" fill="#77b5f4"/>
<rect x="1087.7" y="1191.08" width="10.6" height="11.76" fill="#77b5f4"/>
<rect x="1108.3" y="1191.08" width="20.9" height="11.76" fill="#97c0f0"/>
<rect x="1159.8" y="1191.08" width="20.9" height="11.76" fill="#97c0f0"/>
<rect x="1190.7" y="1191.08" width="20.9" height="11.76" fill="#97c0f0"/>
<rect x="1231.9" y="1191.08" width="10.6" height="11.76" fill="#97c0f0"/>
<rect x="1025.9" y="1202.54" width="10.6" height="11.76" fill="#97c0f0"/>
<rect x="1056.8" y="1202.54" width="10.6" height="11.76" fill="#97c0f0"/>
<rect x="1108.3" y="1202.54" width="10.6" height="11.76" fill="#97c0f0"/>
<rect x="1159.8" y="1202.54" width="10.6" height="11.76" fill="#97c0f0"/>
<rect x="1036.2" y="1214" width="10.6" height="11.76" fill="#97c0f0"/>
<rect x="1067.1" y="1214" width="10.6" height="11.76" fill="#97c0f0"/>
<rect x="1087.7" y="1214" width="31.2" height="11.76" fill="#97c0f0"/>
<rect x="1159.8" y="1214" width="10.6" height="11.76" fill="#97c0f0"/>
<rect x="1180.4" y="1214" width="10.6" height="11.76" fill="#97c0f0"/>
<rect x="1098" y="1236.92" width="20.9" height="11.76" fill="#97c0f0"/>
<rect x="1180.4" y="1236.92" width="10.6" height="11.76" fill="#97c0f0"/>
<rect x="1025.9" y="1248.38" width="10.6" height="11.76" fill="#97c0f0"/>
<rect x="1180.4" y="1248.38" width="10.6" height="11.76" fill="#97c0f0"/>
<rect x="1087.7" y="1271.3" width="10.6" height="11.76" fill="#97c0f0"/>
<rect x="1139.2" y="1271.3" width="10.6" height="11.76" fill="#97c0f0"/>
<rect x="881.7" y="1374.44" width="10.6" height="11.76" fill="#77b5f4"/>
<rect x="922.9" y="1374.44" width="10.6" height="11.76" fill="#97c0f0"/>
</g>
<rect x="845.9" y="1384.1" width="9.6" height="2.2"/>
<text x="837.5" y="1395.5" text-anchor="end">0.00</text>
<rect x="845.9" y="1301.67" width="9.6" height="2.2"/>
<text x="837.5" y="1313.07" text-anchor="end">0.02</text>
<rect x="845.9" y="1219.24" width="9.6" height="2.2"/>
<text x="837.5" y="1230.64" text-anchor="end">0.04</text>
<rect x="845.9" y="1136.81" width="9.6" height="2.2"/>
<text x="837.5" y="1148.21" text-anchor="end">0.06</text>
<rect x="845.9" y="1054.38" width="9.6" height="2.2"/>
<text x="837.5" y="1065.78" text-anchor="end">0.08</text>
<rect x="845.9" y="971.95" width="9.6" height="2.2"/>
<text x="837.5" y="983.35" text-anchor="end">0.10</text>
<rect x="845.9" y="889.52" width="9.6" height="2.2"/>
<text x="837.5" y="900.92" text-anchor="end">0.12</text>
<rect x="845.9" y="807.09" width="9.6" height="2.2"/>
<text x="837.5" y="818.49" text-anchor="end">0.14</text>
<rect x="880" y="1413.6" width="2.2" height="9.6"/>
<text x="881.1" y="1453" text-anchor="middle">0.00</text>
<rect x="1063.6" y="1413.6" width="2.2" height="9.6"/>
<text x="1064.7" y="1453" text-anchor="middle">0.05</text>
<rect x="1247.2" y="1413.6" width="2.2" height="9.6"/>
<text x="1248.3" y="1453" text-anchor="middle">0.10</text>
<text x="1139" y="1491.2" text-anchor="middle">width</text>
<text transform="translate(761.2 1102.1) rotate(-90)" text-anchor="middle">height</text>
</g>
<rect x="0" y="693.4" width="39.8" height="73" fill="#fafafa"/>
<rect x="707" y="715.8" width="38.2" height="46" fill="#fafafa"/>
<g font-family="'Liberation Sans',sans-serif" font-weight="bold" fill="#000">
<text transform="translate(5.4 30) scale(0.90 1)" font-size="36">A</text>
<text transform="translate(717.4 29) scale(0.90 1)" font-size="36.5">B</text>
<text transform="translate(4.5 751.3) scale(0.93 1)" font-size="35">C</text>
<text transform="translate(717.2 752) scale(0.97 1)" font-size="34.5">D</text>
</g>
</svg>
</body></html>
